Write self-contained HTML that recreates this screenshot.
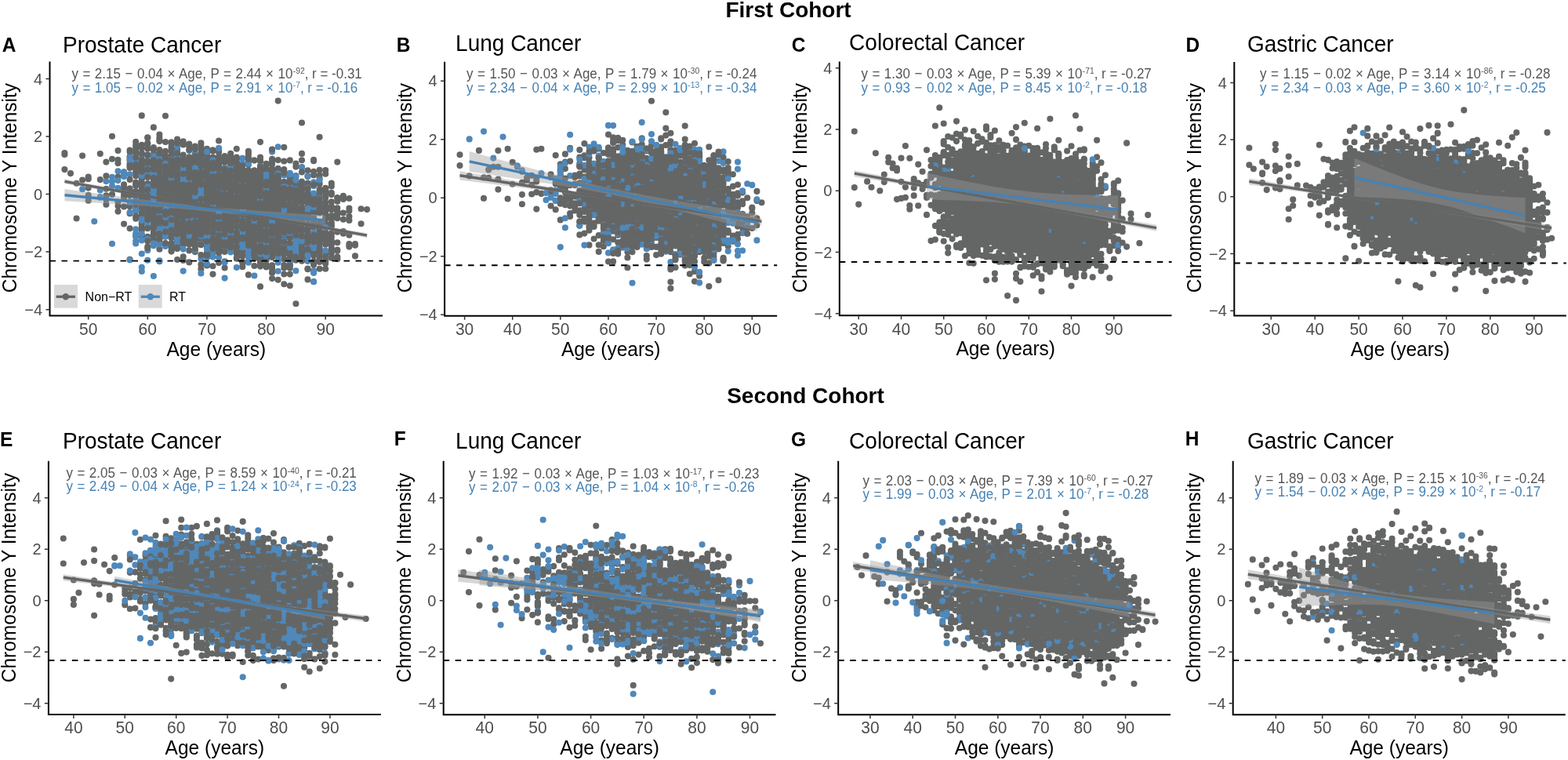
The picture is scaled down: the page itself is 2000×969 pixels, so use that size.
<!DOCTYPE html>
<html><head><meta charset="utf-8"><title>Chromosome Y Intensity vs Age</title><style>
html,body{margin:0;padding:0;background:#fff;}
svg{display:block;}
text{font-family:"Liberation Sans", Arial, Helvetica, sans-serif;}
.hd{font-size:28px;font-weight:bold;fill:#000;}
.lab{font-size:24.5px;font-weight:bold;fill:#000;}
.tit{font-size:28px;fill:#000;}
.tk{font-size:20px;fill:#4d4d4d;}
.axt{font-size:24.5px;fill:#000;}
.tkx{font-size:21px;fill:#4d4d4d;}
.eq{font-size:17px;}
.eqg{fill:#555555;}
.eqb{fill:#4682b4;}
.sup{font-size:10.3px;}
.ws{word-spacing:0.8px;}
.leg{font-size:16px;fill:#000;}
.pg{fill:none;stroke:#646665;stroke-width:8.1;stroke-linecap:round;}
.pb{fill:none;stroke:#4f88ba;stroke-width:8.1;stroke-linecap:round;}
.rib{fill:#999;fill-opacity:0.4;}
</style></head>
<body><svg width="2000" height="969" viewBox="0 0 2000 969">
<rect width="2000" height="969" fill="#fff"/>
<text x="1005.6" y="21.7" class="hd" text-anchor="middle">First Cohort</text>
<text x="1027.5" y="514" class="hd" text-anchor="middle">Second Cohort</text>
<text transform="translate(2.7 66.0) scale(1 1.05)" class="lab">A</text>
<text transform="translate(80.0 66.8) scale(1 1.07)" class="tit">Prostate Cancer</text>
<path class="pg" d="M82.4 195V197M90 221.1v0M97.6 233.7v0M97.6 278.5v0M105.1 198.6v0M112.7 225.5V228.3M112.7 239.6v0M112.7 255.8v0M127.8 196v0M127.8 229.1v0M135.4 206.6v0M135.4 240.7v0M135.4 249.4v0M135.4 254.5v0M135.4 260.7v0M143 173.7v0M143 202.7v0M143 247.9v0M150.5 225.6v0M150.5 257.5v0M158.1 219.4v0M158.1 223.8V224.6M158.1 235.2v0M158.1 247.8v0M158.1 253.1v0M158.1 285.5v0M165.6 191.6V193.8M165.6 199.6v0M165.6 204.3v0M165.6 208.6V210.6M165.6 214v0M165.6 240.3V241.2M165.6 245.4V249M165.6 257v0M165.6 260.9V263.3M165.6 272.3v0M165.6 291.2v0M165.6 330.8v0M173.2 185.1V187.3M173.2 193.1V194.7M173.2 209.7v0M173.2 215.9v0M173.2 223V224.3M173.2 232.6V235.2M173.2 244V246.2M173.2 251.1V255.9M173.2 267.4v0M173.2 278.7v0M173.2 301.5v0M180.8 184.8v0M180.8 195.4V196.5M180.8 202.9V207.3M180.8 212V221.7M180.8 225.7V228.8M180.8 233.1V234.8M180.8 238.5V241.4M180.8 244.7V252M180.8 255.8v0M180.8 259.5V259.9M180.8 265V267.1M180.8 270.8V275.1M180.8 283.2V286.4M180.8 291.5V293.7M180.8 299.7V300.9M188.3 175.2v0M188.3 183.8v0M188.3 189v0M188.3 197.3V197.6M188.3 205v0M188.3 211.2V225M188.3 234.1V254.8M188.3 258.5V266.5M188.3 270.1V270.5M188.3 275V280.3M188.3 301.9v0M188.3 314.5v0M195.9 162.4v0M195.9 188.1v0M195.9 196.6V198.4M195.9 201.8V202.1M195.9 206.1v0M195.9 209.7V215.2M195.9 221.1v0M195.9 226.1V235M195.9 245.5V250.3M195.9 257V257.3M195.9 260.8v0M195.9 265.6V270.3M195.9 273.4V285.8M195.9 289.6V290.4M195.9 297.6V300.3M195.9 304.9V305.5M195.9 312.7v0M203.4 171.5v0M203.4 175.7v0M203.4 178.7v0M203.4 191v0M203.4 195.3V196M203.4 200.3v0M203.4 206.3v0M203.4 210.1V215.6M203.4 218.6v0M203.4 223.7V224.6M203.4 227.9V230.6M203.4 233.9V237.5M203.4 240.7V247.9M203.4 251.4V273.2M203.4 276.5V278.4M203.4 282.2V283.9M203.4 289.9V291.6M203.4 298.7V299.8M203.4 305.3V306.6M203.4 310v0M203.4 317.7v0M203.4 333.3v0M211 147.7v0M211 181v0M211 192.8v0M211 198.6v0M211 202.7V212.1M211 216.8V226.4M211 229.6V234.6M211 238.2V241.2M211 244.3V252.4M211 255.5V274.9M211 278.7V281.3M211 285.6V290.3M211 299V301.8M211 311.2V313.3M218.6 181.4v0M218.6 187.4V188.9M218.6 193.2v0M218.6 198.5V208.1M218.6 213.6V238.6M218.6 241.8V269.5M218.6 273.8V291M218.6 295.2V300.2M218.6 303.6v0M218.6 310.3V311.7M218.6 314.9v0M218.6 320.6v0M226.1 177.5v0M226.1 190.2V191.9M226.1 196.6V200.2M226.1 203.4v0M226.1 209.5V213.9M226.1 217.2V230.7M226.1 234.1V269.8M226.1 275.5V286.2M226.1 289.5V292.1M226.1 296.2V299.3M226.1 306.5V310.6M226.1 313.7v0M226.1 317.1v0M226.1 331v0M233.7 180.3v0M233.7 184.5v0M233.7 202.8V241.7M233.7 245.4V260.5M233.7 264.1V285.5M233.7 290V298.5M233.7 303V311.7M233.7 327.4v0M233.7 331.9v0M241.3 183.5v0M241.3 186.6v0M241.3 200.3V258.3M241.3 262.1V268.5M241.3 271.5V284.8M241.3 289.5V311.7M241.3 319.4v0M241.3 334.4v0M248.8 195.9V197.6M248.8 201.9V207.7M248.8 210.8V220M248.8 223.6V277.9M248.8 283.1V292.5M248.8 295.6V304.4M248.8 312V312.5M248.8 319.6V321.1M256.4 185.7v0M256.4 189.4V190.9M256.4 197.6V198.1M256.4 201.3v0M256.4 205.5v0M256.4 210.7v0M256.4 216.1V218.5M256.4 221.8V229.6M256.4 232.7V248.5M256.4 251.6V295.3M256.4 299v0M256.4 302.4V306M256.4 310.3V312M256.4 337.2v0M256.4 342.9v0M264 189.7v0M264 192.7V194.7M264 197.7v0M264 202.7V224.2M264 227.9V236.8M264 241.7V242.9M264 246.1V267.8M264 271.2V298.7M264 305.9V308.5M264 314.3v0M264 322.1v0M264 338.4v0M271.5 192.3v0M271.5 200.6v0M271.5 204.2V210.6M271.5 214.9V258.9M271.5 262.1V283.7M271.5 288.3V304.5M271.5 309.3v0M271.5 313.9V316.5M271.5 323.1v0M271.5 339.3v0M279.1 179.5v0M279.1 191.8V194.2M279.1 199.8V201.9M279.1 205.4v0M279.1 209.5V223.1M279.1 227.2V240.8M279.1 244.1V246.1M279.1 249.6V296M279.1 300.5V311.5M279.1 314.7V318.3M279.1 321.7v0M279.1 335.1v0M286.6 199.1v0M286.6 202.6v0M286.6 205.9V206.9M286.6 214.3V215.9M286.6 221.8V246.9M286.6 251V261.1M286.6 264.7V280.8M286.6 285v0M286.6 288.4V320.9M286.6 333.4v0M286.6 341.5v0M294.2 195.7v0M294.2 199.3v0M294.2 203.4V205.4M294.2 209.8V225.4M294.2 230.5v0M294.2 233.7V244.8M294.2 248.9V291M294.2 294.3V310.5M294.2 317.2V317.7M301.8 189.8v0M301.8 202.7v0M301.8 206v0M301.8 211.1V214.6M301.8 218V230.2M301.8 233.3V303.7M301.8 307.3V313.2M301.8 317.4V323.4M301.8 328.6V329.7M309.3 201.7v0M309.3 208.7v0M309.3 215.1V246M309.3 249.2V261.9M309.3 265.3V301M309.3 304.4v0M309.3 307.8V313.4M309.3 320.9V323.5M309.3 326.6v0M309.3 333.9v0M309.3 339.4V340.3M316.9 196v0M316.9 199.9V201.2M316.9 207.2V209.9M316.9 217V222M316.9 225.4V228.5M316.9 232.7V270.9M316.9 273.9V291.7M316.9 295.7V303.1M316.9 306.2V313.5M316.9 317.7V324.1M316.9 333.9v0M316.9 350.4v0M324.4 204.2V204.6M324.4 217.4V218.5M324.4 221.9v0M324.4 225.4V262.1M324.4 265.3V270.5M324.4 273.9V291.3M324.4 294.8V307.2M324.4 312.8V313.3M324.4 317.6V327M332 181.1v0M332 200.5v0M332 205V205.6M332 212.5V216.6M332 219.7v0M332 222.8V224M332 228v0M332 231.4V248.7M332 251.8v0M332 255.4V257.4M332 261.5V308.5M332 313.1V321.3M332 327.2v0M332 330.7v0M332 335.6v0M332 339.6v0M332 365.4v0M339.6 208.8V209.8M339.6 213.6v0M339.6 217.8v0M339.6 226.1V287.6M339.6 290.7V293.1M339.6 299.6V322.6M339.6 328.3V331.7M339.6 337.3v0M339.6 340.4v0M347.1 190.9v0M347.1 202.9V205.9M347.1 209.3v0M347.1 216v0M347.1 222.1V234.6M347.1 237.7V239.4M347.1 243.2V252.2M347.1 255.4V286.9M347.1 291V294.8M347.1 298.2V300.7M347.1 305.7V314.9M347.1 319.7V320.8M347.1 324.2V327.9M347.1 342.7v0M347.1 355.1v0M354.7 128.6v0M354.7 214.8V236.8M354.7 240V244.6M354.7 247.9V298.3M354.7 301.8V326M354.7 356.7v0M362.3 187.7v0M362.3 216v0M362.3 231.7V249.3M362.3 253.6V267.8M362.3 271v0M362.3 274.5V277.1M362.3 282V297.1M362.3 301.7V306.1M362.3 309.6V311.2M362.3 314.6V317.8M362.3 320.9V324.1M362.3 330.4v0M362.3 338v0M362.3 341.6v0M362.3 349.5v0M362.3 362.2v0M369.8 204.4v0M369.8 221.6V232M369.8 236.5V240.8M369.8 246.6V252.8M369.8 257.7V259.6M369.8 263.3V271M369.8 274.2V282M369.8 285.2V291.1M369.8 294.5v0M369.8 299.6V303M369.8 314.4V325.3M369.8 329.1V329.7M369.8 337.5v0M369.8 341.7v0M377.4 212.6v0M377.4 224.2V226M377.4 232.4V235.9M377.4 239.5V262.4M377.4 266.4v0M377.4 271.6V272.7M377.4 276.2V279.4M377.4 283.4V296.6M377.4 305.1V315.9M377.4 326.6V329.3M377.4 387.2v0M385 156.5v0M385 195.9v0M385 204.3v0M385 213v0M385 231.5v0M385 236.8V239.7M385 242.9V250.9M385 257.7V258.2M385 264.6V286.1M385 291.6V292.4M385 296.1V306.5M385 310V311.2M385 314.7V329.2M392.5 217.2v0M392.5 225v0M392.5 233.5V238.6M392.5 244.2V249.1M392.5 257.3V259.5M392.5 262.8V276.8M392.5 286.1V288M392.5 291.8V297M392.5 302.4V311.7M392.5 315.7V320.8M392.5 324.6V327.7M392.5 343.2v0M400.1 203.9V205.3M400.1 218.8v0M400.1 223.2v0M400.1 236.4v0M400.1 249V258M400.1 261.2V265.3M400.1 269.4v0M400.1 272.8V277.1M400.1 283.9v0M400.1 288.5V289.5M400.1 301.5V303.8M400.1 314.5v0M400.1 318V318.4M400.1 322.5v0M400.1 332.9V333.7M400.1 337.5v0M400.1 345.2v0M400.1 359.3v0M407.6 223.5v0M407.6 227.5v0M407.6 233.6V234.8M407.6 241.6V245.4M407.6 248.5v0M407.6 256.9V258.1M407.6 263.1V266.3M407.6 270.5V271.4M407.6 285V286.8M407.6 292.3V296.2M407.6 301V301.8M407.6 305.4V306.3M407.6 310.3v0M407.6 319.7v0M407.6 327.6v0M407.6 334v0M407.6 342.7v0M415.2 217v0M415.2 239.9V242.6M415.2 251.3V252.3M415.2 258.1v0M415.2 264.8v0M415.2 269.3V269.9M415.2 274.3v0M415.2 278.9V279.3M415.2 285.3v0M415.2 296.4V298.3M415.2 302.6v0M415.2 306.4v0M415.2 311.8v0M415.2 324.6V326.3M415.2 332v0M415.2 336.1v0M415.2 342.8v0M422.8 233.6v0M422.8 245.8V248.1M422.8 257.3v0M422.8 263.1v0M422.8 267.2v0M422.8 274.8v0M422.8 279v0M422.8 283.8V288.9M422.8 309.1V311.9M422.8 316.3v0M422.8 323.1v0M422.8 328.8v0M430.3 252.1v0M430.3 265.3v0M430.3 269.5v0M430.3 272.8V274M430.3 278.2v0M430.3 295.8v0M430.3 309.2v0M430.3 318.6V319.7M430.3 327.5V330.2M437.9 249.7v0M437.9 253.9v0M437.9 271.5v0M437.9 279.7v0M437.9 295v0M445.4 253v0M445.4 265.6v0M445.4 268.8v0M445.4 276.1v0M445.4 299.7v0M445.4 311.1V312.6M453 312.7v0M453 326.4v0M460.6 266.2v0M460.6 285.3v0M468.1 267.1v0"/>
<path class="pb" d="M105.1 241.3v0M120.3 282.2v0M127.8 242.5v0M127.8 251V251.8M135.4 231.1v0M143 225.8v0M143 231.6v0M143 237v0M143 310.7v0M150.5 218.3v0M150.5 230.1v0M150.5 239.8v0M158.1 219.6v0M158.1 223.4V225M158.1 241.4v0M165.6 200.7V203.4M165.6 222.2v0M165.6 257.8v0M165.6 270.8v0M165.6 331.5v0M173.2 194.1V195.4M173.2 201.8V204.3M173.2 208.8v0M173.2 252.3v0M173.2 265.4v0M173.2 268.7v0M173.2 292.2v0M173.2 297.9V301.3M173.2 307.2v0M173.2 310.4v0M180.8 196.6v0M180.8 223V224M180.8 256.9v0M180.8 264.4V267.4M180.8 279.2V281.1M180.8 298.3v0M180.8 306.4v0M180.8 323.5v0M180.8 340.7v0M180.8 345.9v0M188.3 198.5v0M188.3 212.6v0M188.3 218.4v0M188.3 224.3V225M188.3 238.1v0M188.3 246.5v0M188.3 258.5V260.6M188.3 271.4v0M188.3 276.3v0M188.3 282.3v0M188.3 288.6v0M188.3 304.7v0M188.3 319.2v0M188.3 331.7v0M195.9 198.2v0M195.9 211.2v0M195.9 218.2V221.9M195.9 226.2v0M195.9 234.4v0M195.9 240.3V241.9M195.9 245.8V246.7M195.9 249.9V253.7M195.9 260.9V262.7M195.9 270.9v0M195.9 284.5v0M195.9 310.4V313.3M195.9 352v0M203.4 202.4v0M203.4 214V214.6M203.4 220.7v0M203.4 245.2v0M203.4 251.1v0M203.4 275.6V276.2M203.4 291.7V292.4M203.4 298.6v0M203.4 311.4v0M203.4 332.3v0M211 208.9v0M211 218.9V221.9M211 227.2V229M211 248.5v0M211 267.2v0M211 277.2v0M211 290.1V291.1M211 300.3V301.3M211 313.9v0M218.6 203.9v0M218.6 212.7v0M218.6 227.6v0M218.6 243.1V244.2M218.6 260.8v0M218.6 264.5v0M218.6 278.8V282.9M218.6 288V293.3M226.1 186.6v0M226.1 193.7v0M226.1 200v0M226.1 212.3v0M226.1 222.3v0M226.1 244.2V246.9M226.1 255.4v0M226.1 265.6V268.1M226.1 289.4V290.2M226.1 296.5V298.1M226.1 304.4v0M226.1 310.2v0M233.7 209.6V217.5M233.7 223.1v0M233.7 227.7v0M233.7 230.7v0M233.7 245.3V247.6M233.7 257.2v0M233.7 262.1V270.2M233.7 275.6v0M233.7 280.2v0M233.7 284V285.9M233.7 291.9V293.7M233.7 317.6v0M233.7 345.6v0M241.3 192.1v0M241.3 218v0M241.3 225.7v0M241.3 230.7V231.6M241.3 237.3V241.5M241.3 247.4v0M241.3 260.1v0M241.3 264.8V268.3M241.3 275.3v0M241.3 280.3V282.6M241.3 295.5v0M241.3 300.4v0M248.8 197.3v0M248.8 202v0M248.8 214.2v0M248.8 234.1v0M248.8 238.5v0M248.8 242.2V246.4M248.8 250.5v0M248.8 258.3v0M248.8 275.4V279.8M248.8 285.4v0M248.8 300.3V301.9M248.8 318.7v0M256.4 204.2v0M256.4 213.6v0M256.4 219.6v0M256.4 229.3V230.2M256.4 234.2V235.2M256.4 240.4v0M256.4 244.4v0M256.4 247.7V252.4M256.4 256.8V262.2M256.4 267.1v0M256.4 274.3v0M256.4 277.8V278.8M256.4 286.8v0M256.4 300.6V301.2M256.4 311.3v0M256.4 329.9v0M256.4 348.5v0M264 193.4v0M264 225.4v0M264 230.3v0M264 234.5v0M264 243.8v0M264 247.8V250.5M264 254.1V255M264 263.3V264.7M264 268.4V269.9M264 273.3v0M264 290.9v0M264 294V294.9M264 301.1v0M264 304.4v0M264 311.6v0M264 316.2V317.6M264 325.9V328.6M264 336.4v0M271.5 204.3v0M271.5 219.5V221.7M271.5 232.7V238.7M271.5 242.3v0M271.5 246.8V251.6M271.5 255.3v0M271.5 262.6V263.8M271.5 269.7v0M271.5 284.2v0M271.5 296.7v0M271.5 301.7v0M271.5 320.9v0M271.5 327.6v0M279.1 188.9v0M279.1 214.5v0M279.1 220.1V225.5M279.1 229v0M279.1 245.6V248.2M279.1 252.4V254.3M279.1 257.8v0M279.1 262.1v0M279.1 270.7V271.9M279.1 279.6V282.3M279.1 286.2v0M279.1 292.8v0M279.1 298.8V303M279.1 306.7v0M279.1 328.3v0M286.6 214.4V220.2M286.6 228.5v0M286.6 241.6v0M286.6 251.2v0M286.6 259.8v0M286.6 264.1V268.1M286.6 275.6V279.5M286.6 285.1v0M286.6 289.8V292.7M286.6 297.7v0M286.6 302.6v0M286.6 310.5V314M286.6 334.4v0M286.6 354.6v0M294.2 201.5v0M294.2 214.2v0M294.2 218.9v0M294.2 227.5v0M294.2 232.8V235.8M294.2 242.8V243.9M294.2 248.5v0M294.2 260.2V266M294.2 275.7v0M294.2 298.2V299.2M294.2 302.8V309.8M294.2 317.5v0M294.2 321.4v0M301.8 212.3v0M301.8 235.2v0M301.8 239.2V244.4M301.8 249.7v0M301.8 254.2v0M301.8 257.8V261.5M301.8 264.9V271.3M301.8 277.1V281M301.8 287.2V290.2M301.8 293.8V295.2M301.8 303.3v0M301.8 306.5v0M301.8 312.6v0M301.8 341v0M309.3 202.1v0M309.3 208.7v0M309.3 228.5V228.9M309.3 232.1V233.5M309.3 238V243M309.3 258.1v0M309.3 263V264.5M309.3 267.6V271.4M309.3 274.5V278.4M309.3 282.5V283.3M309.3 290V292.2M309.3 297v0M309.3 300.7v0M309.3 304.9v0M309.3 310.5v0M309.3 315.3v0M316.9 208.8v0M316.9 230.1V233.6M316.9 246.8V250.3M316.9 267.6V269.3M316.9 275.9V282.1M316.9 293.4V294.6M316.9 302.8v0M316.9 307.9v0M316.9 317.9V319.3M316.9 323.3v0M316.9 328v0M316.9 334.8v0M324.4 232V237.2M324.4 248.5V251M324.4 257.9v0M324.4 268V275.4M324.4 278.7V280.3M324.4 287.5v0M324.4 298.8v0M324.4 313.2v0M324.4 319.2v0M324.4 351.5v0M332 211.6v0M332 221.7v0M332 225.4v0M332 234.5V236.1M332 242.2V247.6M332 254V257.8M332 273.7v0M332 283.8V286.7M332 293.1v0M332 298.7v0M332 306.3v0M332 323.7v0M339.6 222.8V225.6M339.6 228.9v0M339.6 232.6v0M339.6 240.2V245.6M339.6 254.9V256.1M339.6 259.8v0M339.6 265.9V267M339.6 274.3V277.2M339.6 285.2v0M339.6 291.2V291.8M339.6 295.7V303.8M339.6 310v0M339.6 320.7v0M339.6 325.1V326M347.1 193.6v0M347.1 218.7v0M347.1 222.4v0M347.1 235.6V236.6M347.1 248v0M347.1 251.8V256.8M347.1 261v0M347.1 266.7v0M347.1 270.9V273.8M347.1 282.3V284.2M347.1 287.7V288.7M347.1 293.5v0M347.1 304.6v0M347.1 308V312.6M347.1 348.1v0M354.7 187.2v0M354.7 221.3V223.9M354.7 228.8V231.4M354.7 235.8v0M354.7 243.1V247.2M354.7 252.3V255.2M354.7 261.2v0M354.7 268.6V272.3M354.7 276.5V278.3M354.7 284.1V285.4M354.7 303.3V304.4M354.7 309.4v0M354.7 317.7V318.3M354.7 326.9v0M354.7 332.1V334.7M354.7 345.8v0M362.3 223.5v0M362.3 238v0M362.3 245.8v0M362.3 252.4V254.9M362.3 267.7v0M362.3 276.4v0M362.3 283.4v0M362.3 291.5V292.4M362.3 295.9V298.1M362.3 306.9V309.4M369.8 220.8V222.4M369.8 236.6v0M369.8 245.7v0M369.8 257.2V260.1M369.8 274.7v0M369.8 284.6v0M369.8 287.8v0M369.8 296.8v0M369.8 315.8v0M369.8 331.4V335M377.4 224.1v0M377.4 229.7v0M377.4 241.1V243.5M377.4 251.5v0M377.4 266.4V271.7M377.4 281.6v0M377.4 285.2v0M377.4 298.8v0M377.4 303.5v0M377.4 308.7v0M377.4 312.5v0M377.4 318.6V320.3M377.4 326.1v0M377.4 330.8v0M377.4 345.3v0M385 213.6v0M385 246.7v0M385 268.7V271.7M385 278.7V281.5M385 298.2v0M385 307.4v0M392.5 224.3v0M392.5 239.6V244.8M392.5 265.9V267.1M392.5 279.3v0M392.5 314.5V315.7M392.5 325.2V326M392.5 333.1v0M400.1 232.2v0M400.1 237.1v0M400.1 246.6v0M400.1 258V258.9M400.1 264.1v0M400.1 277.2V279.8M400.1 283.5v0M400.1 296.4V299.2M400.1 312.6v0M400.1 316.3v0M400.1 345.5V348M400.1 359v0M407.6 229.4v0M407.6 252.7v0M407.6 258.9v0M407.6 267.7v0M407.6 315.7v0M407.6 319.7v0M415.2 289.7v0M415.2 319.5v0"/>
<path class="pg" d="M82.4 216.1v0M105.1 229.5v0M112.7 248.8v0M135.4 224.3v0M150.5 192v0M150.5 203.8v0M150.5 208.1v0M150.5 262.5v0M150.5 269.6v0M158.1 239.1v0M158.1 240.5v0M158.1 251.1v0M158.1 263.4v0M165.6 212.1v0M165.6 228.9v0M165.6 247.6v0M173.2 180.8v0M173.2 190.9v0M173.2 194.4v0M173.2 200.6v0M173.2 209.5v0M173.2 212.9v0M173.2 219.6v0M173.2 236V236.8M173.2 248.5v0M173.2 257.5v0M173.2 260.5v0M173.2 275.6v0M180.8 147.4v0M180.8 188.5v0M180.8 196v0M180.8 210.6v0M180.8 218.8v0M180.8 235.7v0M180.8 245.3v0M180.8 255.2V256.2M180.8 259.3v0M180.8 264.8v0M180.8 271.8v0M180.8 290.4v0M188.3 175.7v0M188.3 182.3v0M188.3 189.7v0M188.3 198.1v0M188.3 207.7v0M188.3 216.3v0M188.3 225.9v0M188.3 241.9v0M188.3 249.6V250.1M188.3 259.1v0M188.3 261.5v0M188.3 266.8V267.7M188.3 271.5v0M188.3 272.9v0M188.3 276.2v0M188.3 278.8v0M188.3 280v0M188.3 291.3v0M188.3 307.6v0M188.3 316.2v0M195.9 191.3v0M195.9 204.4v0M195.9 210.1V211M195.9 216v0M195.9 226.8v0M195.9 229.6v0M195.9 235.3v0M195.9 236.4v0M195.9 261.6v0M195.9 268.2v0M195.9 269.5v0M195.9 274.4v0M195.9 280.1v0M195.9 286.4v0M195.9 289.7v0M195.9 291.1v0M195.9 295.9v0M203.4 180.1v0M203.4 195.5v0M203.4 206.1v0M203.4 212.6v0M203.4 218.8v0M203.4 226v0M203.4 233.5v0M203.4 238.2v0M203.4 240v0M203.4 245.9v0M203.4 252.7v0M203.4 257.5v0M203.4 260.5v0M203.4 267.9V268.5M203.4 277.9V278.7M203.4 283.8v0M203.4 298v0M203.4 304.6v0M211 199.9V200.7M211 212v0M211 214.9v0M211 218.5V219.9M211 222.5v0M211 228.8v0M211 231.6v0M211 234.6v0M211 239.7v0M211 248.4v0M211 249.5V250.1M211 252.2v0M211 254.5v0M211 256.2v0M211 270v0M211 271.6v0M211 273.7v0M211 284.6v0M211 295.5v0M211 310v0M218.6 182.9v0M218.6 204.5v0M218.6 205.8v0M218.6 207.4v0M218.6 208.6v0M218.6 211.4v0M218.6 213v0M218.6 214.3v0M218.6 218.5v0M218.6 223.5v0M218.6 233.8v0M218.6 235.1v0M218.6 239.2v0M218.6 241.6v0M218.6 242.9V243.3M218.6 247.5v0M218.6 251.5v0M218.6 257.7V258.2M218.6 261.3v0M218.6 268.8v0M218.6 280.2v0M218.6 293.3v0M218.6 300.8v0M218.6 314.7v0M218.6 319.5v0M226.1 182.4v0M226.1 195.2v0M226.1 203.7v0M226.1 207.1v0M226.1 211.5v0M226.1 214.3V214.9M226.1 217.7v0M226.1 221.1v0M226.1 225v0M226.1 226.5v0M226.1 228.2v0M226.1 230v0M226.1 236.5v0M226.1 239.2V239.9M226.1 242.4v0M226.1 243.9v0M226.1 245.7V247.2M226.1 248.2V249.1M226.1 252.2v0M226.1 254v0M226.1 258.8v0M226.1 260.2v0M226.1 263.4v0M226.1 264.8v0M226.1 266.6V267.3M226.1 270.5v0M226.1 272.3v0M226.1 273.6v0M226.1 274.8v0M226.1 276v0M226.1 281.8V282.8M226.1 286.2v0M226.1 288.5v0M226.1 290.5v0M226.1 295.7v0M226.1 298.3v0M226.1 315.7v0M233.7 197.6v0M233.7 203.1v0M233.7 205.4v0M233.7 207.6V208M233.7 209.7v0M233.7 221.6v0M233.7 235.6V235.9M233.7 239.5v0M233.7 242.1v0M233.7 243.6v0M233.7 245.7v0M233.7 247.7v0M233.7 248.8v0M233.7 253.4V254.1M233.7 255.3v0M233.7 257.1V257.7M233.7 264.3v0M233.7 269.9v0M233.7 274.1v0M233.7 276.1v0M233.7 277.4v0M233.7 284.2v0M233.7 287.6v0M233.7 292.2v0M233.7 294.7v0M233.7 298.4v0M233.7 300.7v0M233.7 306.1v0M233.7 309.1v0M241.3 190.6v0M241.3 202.4v0M241.3 210.2v0M241.3 211.7v0M241.3 214.3v0M241.3 218v0M241.3 219.7v0M241.3 225V226.6M241.3 235.6v0M241.3 240.5v0M241.3 244.7V245.4M241.3 248.7v0M241.3 251V251.3M241.3 254V254.5M241.3 256.2V256.6M241.3 259.9V261M241.3 262.6v0M241.3 263.9v0M241.3 267.4v0M241.3 269.1v0M241.3 271.4v0M241.3 275.2v0M241.3 284.2v0M241.3 292v0M241.3 294.9v0M248.8 186.6v0M248.8 189.9v0M248.8 199.4v0M248.8 203.9v0M248.8 220.1v0M248.8 226.8v0M248.8 229.7v0M248.8 230.9v0M248.8 232.3V232.9M248.8 236.2v0M248.8 239v0M248.8 243.5v0M248.8 245.2v0M248.8 257.9v0M248.8 259.7v0M248.8 263.5v0M248.8 265.2v0M248.8 266.4v0M248.8 267.7v0M248.8 269v0M248.8 274.7v0M248.8 283v0M248.8 286.7V287.4M248.8 289.7v0M248.8 296.7v0M248.8 300v0M248.8 303v0M248.8 306.6v0M248.8 308.7v0M248.8 314.2v0M248.8 316.8v0M256.4 182.4v0M256.4 195.7v0M256.4 203.1v0M256.4 208v0M256.4 211.8v0M256.4 219.5V220.2M256.4 221.2V222.4M256.4 227.5v0M256.4 234.2v0M256.4 235.5v0M256.4 253.8v0M256.4 261.6v0M256.4 265.5v0M256.4 270.9v0M256.4 272.2v0M256.4 274.1v0M256.4 275.5v0M256.4 277v0M256.4 279v0M256.4 280.7v0M256.4 283.1v0M256.4 284.4v0M256.4 288.1v0M256.4 289.8v0M256.4 292.6V293.3M256.4 297v0M256.4 299.3v0M256.4 312.1v0M256.4 325.1v0M264 208.8v0M264 215.6V217.6M264 218.7v0M264 225.3v0M264 231.4v0M264 237.4v0M264 238.5v0M264 241.1v0M264 242.5v0M264 246.4v0M264 250.4v0M264 255.1V256.4M264 258v0M264 259.6V261.3M264 262.4v0M264 264.4v0M264 271.1v0M264 275.3v0M264 278v0M264 279v0M264 288.3v0M264 290.3v0M264 294.5v0M264 295.7v0M264 307.7v0M264 325.4v0M271.5 191.3v0M271.5 192.6v0M271.5 207.5V209.3M271.5 211.3v0M271.5 214.9v0M271.5 224.7v0M271.5 226.7V227.4M271.5 232.2V233M271.5 236.6v0M271.5 239.2v0M271.5 243.5v0M271.5 244.9v0M271.5 246.6V247.6M271.5 252.6v0M271.5 257.8v0M271.5 267.4v0M271.5 270.7v0M271.5 272.7v0M271.5 274.1V274.6M271.5 276v0M271.5 277V277.8M271.5 279.4V279.9M271.5 283V284.5M271.5 286v0M271.5 288.5v0M271.5 289.9v0M271.5 297v0M271.5 304.6v0M271.5 316.9v0M271.5 349.6v0M279.1 205v0M279.1 208.4v0M279.1 212.7v0M279.1 215.4v0M279.1 223.1v0M279.1 227.5v0M279.1 233V233.7M279.1 236.7v0M279.1 245.7v0M279.1 249.3V251.3M279.1 253.8v0M279.1 257.4V259.1M279.1 262.6v0M279.1 276.8v0M279.1 285.9v0M279.1 287.1v0M279.1 291.5v0M279.1 300v0M279.1 301.8v0M279.1 306.7v0M279.1 311.1v0M279.1 313.3v0M279.1 318v0M279.1 322.1v0M286.6 215.9v0M286.6 220.1v0M286.6 222.1v0M286.6 223.3v0M286.6 228.4v0M286.6 230.4v0M286.6 233.6v0M286.6 237.8v0M286.6 240v0M286.6 248v0M286.6 249.4v0M286.6 255.8v0M286.6 258.9v0M286.6 261.2v0M286.6 264.5v0M286.6 265.8v0M286.6 267.7V268.4M286.6 269.6v0M286.6 273.1v0M286.6 275.1v0M286.6 280v0M286.6 281.7v0M286.6 282.9V283.5M286.6 284.9V285.8M286.6 287v0M286.6 289.5v0M286.6 291.8v0M286.6 293.6v0M286.6 298.8v0M286.6 309v0M286.6 311.2v0M286.6 312.7V313.5M294.2 200.5v0M294.2 202.7v0M294.2 207V207.7M294.2 217.7v0M294.2 223.2v0M294.2 226.5V226.9M294.2 232.8v0M294.2 236.3v0M294.2 237.5v0M294.2 239.2V240.3M294.2 242.6v0M294.2 244.1v0M294.2 246.5v0M294.2 249v0M294.2 251.8v0M294.2 256.4v0M294.2 259v0M294.2 264.5v0M294.2 268.6V269.5M294.2 271.4v0M294.2 272.6v0M294.2 274v0M294.2 276v0M294.2 278v0M294.2 284.8v0M294.2 289v0M294.2 293.9v0M294.2 303.5v0M294.2 306.5V308.1M294.2 312.5v0M294.2 314.9V315.5M301.8 200.5v0M301.8 207.8v0M301.8 213.3v0M301.8 225.2v0M301.8 226.4V227M301.8 230.4v0M301.8 235.6V236.4M301.8 237.7v0M301.8 241v0M301.8 243.3v0M301.8 250.8v0M301.8 252.3v0M301.8 256.2v0M301.8 257.2v0M301.8 258.8v0M301.8 260.4v0M301.8 261.7v0M301.8 263.7v0M301.8 265.5v0M301.8 267v0M301.8 272.2v0M301.8 273.2v0M301.8 274.6v0M301.8 277v0M301.8 280.8V281.4M301.8 288.9v0M301.8 296.9v0M301.8 299v0M301.8 302.8v0M301.8 305.6v0M301.8 307.6v0M301.8 314.9v0M301.8 321.9v0M309.3 211.3v0M309.3 221.1v0M309.3 223.5v0M309.3 224.7v0M309.3 227.7v0M309.3 230.5v0M309.3 237.8V240.2M309.3 241.4V241.7M309.3 243.4v0M309.3 244.9v0M309.3 248.3v0M309.3 252.2v0M309.3 255.7v0M309.3 258.2v0M309.3 259.5v0M309.3 261.8V262.2M309.3 263.4v0M309.3 273.2v0M309.3 281.4V282M309.3 285.3V286M309.3 290.5V291.6M309.3 302.9v0M309.3 304.4v0M309.3 334.2v0M316.9 192.7v0M316.9 202.9v0M316.9 219.5v0M316.9 225.3v0M316.9 226.3V227.1M316.9 228.4v0M316.9 231v0M316.9 233.3v0M316.9 237.1v0M316.9 239.2v0M316.9 240.6V241.3M316.9 243.2v0M316.9 245.5v0M316.9 246.9v0M316.9 250.2v0M316.9 252.6V253M316.9 256.7V257.4M316.9 258.4v0M316.9 263.3v0M316.9 264.6V265.4M316.9 269.1v0M316.9 273.6v0M316.9 277.2v0M316.9 283.6v0M316.9 286.2v0M316.9 289.3v0M316.9 291.2v0M316.9 293.4V294.2M316.9 296.2v0M316.9 300.7v0M316.9 303.1v0M316.9 306v0M316.9 310.4v0M316.9 312.9v0M324.4 217.9v0M324.4 219.7v0M324.4 222.1v0M324.4 227v0M324.4 230v0M324.4 234v0M324.4 235.4v0M324.4 239.4v0M324.4 243.6v0M324.4 245.8v0M324.4 247.8v0M324.4 252.1v0M324.4 257.2v0M324.4 260.7V261.5M324.4 263v0M324.4 264.1v0M324.4 268.3V269.1M324.4 271.8v0M324.4 277.3v0M324.4 278.3v0M324.4 288.9v0M324.4 298.4v0M324.4 304.7v0M324.4 312.8v0M324.4 316.4v0M324.4 317.8v0M324.4 321.5v0M324.4 324V324.5M324.4 329.6v0M324.4 339v0M332 204.6v0M332 212.7v0M332 221.5v0M332 225.1v0M332 227.4v0M332 230.7V231.3M332 232.4V232.9M332 236v0M332 242.4v0M332 247v0M332 248.6v0M332 249.7V250.3M332 259.1v0M332 262.2V263.1M332 267.3v0M332 271.3V271.8M332 274.7v0M332 276.5v0M332 279.4v0M332 284.5v0M332 286.1v0M332 289.6V290.2M332 292.3v0M332 293.4v0M332 298.1v0M332 299.2v0M332 305.7v0M332 318.4v0M332 321.3v0M332 332.5v0M339.6 231.7v0M339.6 235.6V236.4M339.6 246.1v0M339.6 250.7V251.9M339.6 254.4V256.6M339.6 261.6V262.2M339.6 263.3v0M339.6 265.9v0M339.6 269V270.2M339.6 272.2v0M339.6 274.9v0M339.6 276.1v0M339.6 278.5v0M339.6 284.5v0M339.6 286V286.5M339.6 294.2v0M339.6 297.4v0M339.6 301.6v0M339.6 303.7v0M339.6 304.8v0M339.6 306.4v0M339.6 315.8V316.6M339.6 319.5v0M339.6 321.4v0M347.1 190.6v0M347.1 215.3V215.7M347.1 217.5v0M347.1 219V219.5M347.1 225v0M347.1 229.6v0M347.1 234.9v0M347.1 238.3v0M347.1 241.2v0M347.1 245.1v0M347.1 247.6V248.2M347.1 250.9v0M347.1 254.4v0M347.1 256.3v0M347.1 261.7v0M347.1 263.1v0M347.1 265.8v0M347.1 268.9v0M347.1 270.1v0M347.1 271.5V272.3M347.1 275.7v0M347.1 288.6V290.3M347.1 291.8v0M347.1 293.7v0M347.1 296.4v0M347.1 298.6v0M347.1 306.6v0M347.1 308.2v0M347.1 309.3V310.2M347.1 312.5v0M347.1 316.8v0M347.1 338.4v0M347.1 340.3v0M347.1 347.2v0M354.7 204.1v0M354.7 224.1v0M354.7 228.5v0M354.7 230.1v0M354.7 233.7v0M354.7 238.3v0M354.7 239.9V240.8M354.7 242.6v0M354.7 245.2v0M354.7 249v0M354.7 250.4v0M354.7 255.1v0M354.7 258.1v0M354.7 261.5v0M354.7 264.9v0M354.7 266.1v0M354.7 267.6v0M354.7 268.8v0M354.7 270v0M354.7 272.3v0M354.7 275v0M354.7 280.4v0M354.7 284.4v0M354.7 288.1v0M354.7 292.6v0M354.7 296.9v0M354.7 300.2v0M354.7 303v0M354.7 304v0M354.7 305.6v0M354.7 309.2v0M354.7 317.3V317.7M354.7 323.1v0M362.3 205.5v0M362.3 218.5v0M362.3 220.6v0M362.3 240v0M362.3 241.9v0M362.3 243.3v0M362.3 244.5V245.4M362.3 248.3v0M362.3 251v0M362.3 254.4v0M362.3 260.1v0M362.3 261.4v0M362.3 275.7v0M362.3 279v0M362.3 280.7V281.5M362.3 282.9v0M362.3 284V284.7M362.3 290V290.4M362.3 294v0M362.3 296.6v0M362.3 308.5v0M362.3 317.2V318.1M369.8 232.3v0M369.8 241.1v0M369.8 245.5V246.3M369.8 251.8v0M369.8 253.5v0M369.8 260.4v0M369.8 265v0M369.8 273.1v0M369.8 274.5V275.2M369.8 285v0M369.8 290.5V291.5M369.8 292.9v0M369.8 294.9v0M369.8 309.6v0M369.8 323.5V323.9M369.8 329.5v0M369.8 338.8v0M369.8 349.6v0M369.8 364.2v0M377.4 208.6v0M377.4 242.3v0M377.4 246.6v0M377.4 252.7V253.3M377.4 254.4v0M377.4 260.1v0M377.4 266.2v0M377.4 267.3v0M377.4 269.1v0M377.4 270.6v0M377.4 273.1v0M377.4 277.6v0M377.4 280.3v0M377.4 288.2V288.8M377.4 291.4v0M377.4 293.4V293.8M377.4 295.3v0M377.4 298.5v0M377.4 299.9v0M377.4 327.6v0M377.4 331.8v0M385 219.4v0M385 242.2v0M385 247.4V248.4M385 249.5v0M385 253v0M385 267.1V267.5M385 270.8v0M385 271.9v0M385 273.5v0M385 279.1V279.9M385 283.5v0M385 292.7V293.6M385 301.1v0M385 318.8v0M385 321v0M385 332.7v0M392.5 240.6v0M392.5 247.8v0M392.5 249.9v0M392.5 252.5v0M392.5 254.8v0M392.5 274.2v0M392.5 278v0M392.5 285.6v0M392.5 292.3v0M392.5 300v0M392.5 301.2v0M392.5 309.1v0M392.5 317.9v0M392.5 342.6v0M392.5 356.4v0M400.1 235.4v0M400.1 254.9v0M400.1 256.3v0M400.1 258.5v0M400.1 260.8v0M400.1 278.8v0M400.1 283.6v0M400.1 299.7v0M400.1 308.2v0M400.1 325.5v0M400.1 334.7v0M407.6 174.8v0M407.6 216.7v0M407.6 254.1v0M407.6 259.2v0M407.6 264v0M407.6 265.7v0M407.6 269.4v0M407.6 284.5v0M407.6 289.4v0M407.6 299.6V300.6M407.6 310.9v0M407.6 316.7v0M407.6 321.9v0M407.6 329.9v0M415.2 221.8v0M415.2 241.1v0M415.2 242.4v0M415.2 244.3v0M415.2 246.3v0M415.2 262.5v0M415.2 278.8v0M415.2 333.8v0M422.8 237.4v0M422.8 265.3v0M422.8 297.3v0M422.8 299.1v0M422.8 302v0M422.8 306.4v0M422.8 319.1v0M430.3 206.6v0M430.3 253.6v0M430.3 256.7v0M430.3 271.7v0M437.9 297.8v0M445.4 280.9v0M445.4 314.6v0M453 311.1v0"/>
<path class="rib" d="M82.5 228.3L98.5 231.4L114.6 234.4L130.7 237.5L146.7 240.5L162.8 243.5L178.9 246.5L194.9 249.5L211.0 252.5L227.1 255.5L243.2 258.4L259.2 261.4L275.3 264.2L291.4 267.1L307.4 269.9L323.5 272.7L339.6 275.5L355.6 278.2L371.7 281.0L387.8 283.7L403.9 286.4L419.9 289.1L436.0 291.8L452.1 294.5L468.1 297.2L468.1 303.2L452.1 300.1L436.0 297.1L419.9 294.0L403.9 291.0L387.8 288.0L371.7 285.0L355.6 281.9L339.6 279.0L323.5 276.0L307.4 273.0L291.4 270.1L275.3 267.2L259.2 264.4L243.2 261.6L227.1 258.8L211.0 256.0L194.9 253.2L178.9 250.5L162.8 247.8L146.7 245.1L130.7 242.4L114.6 239.7L98.5 237.0L82.5 234.3Z"/>
<path class="rib" d="M82.5 241.1L96.3 243.0L110.2 244.8L124.0 246.7L137.9 248.5L151.8 250.4L165.6 252.2L179.5 253.9L193.4 255.7L207.2 257.3L221.1 258.9L235.0 260.4L248.8 261.8L262.7 263.2L276.6 264.4L290.4 265.6L304.3 266.7L318.1 267.8L332.0 268.9L345.9 269.9L359.7 270.9L373.6 271.9L387.5 272.9L401.3 273.8L415.2 274.8L415.2 287.2L401.3 285.5L387.5 283.7L373.6 282.0L359.7 280.3L345.9 278.6L332.0 277.0L318.1 275.3L304.3 273.7L290.4 272.2L276.6 270.7L262.7 269.2L248.8 267.8L235.0 266.6L221.1 265.4L207.2 264.3L193.4 263.3L179.5 262.3L165.6 261.4L151.8 260.5L137.9 259.6L124.0 258.8L110.2 257.9L96.3 257.1L82.5 256.3Z"/>
<line x1="82.5" y1="231.3" x2="468.1" y2="300.2" stroke="#646665" stroke-width="3.4"/>
<line x1="82.5" y1="248.7" x2="415.2" y2="281.0" stroke="#4682b4" stroke-width="3.4"/>
<line x1="63.5" y1="332.6" x2="488.0" y2="332.6" stroke="#000" stroke-width="1.9" stroke-dasharray="7.5 7.5"/>
<path d="M63.5 78.5V402.5H488.0" fill="none" stroke="#000" stroke-width="2"/>
<text x="54.1" y="107.6" class="tk" text-anchor="end">4</text>
<text x="54.1" y="181.2" class="tk" text-anchor="end">2</text>
<text x="54.1" y="254.7" class="tk" text-anchor="end">0</text>
<text x="54.1" y="328.2" class="tk" text-anchor="end">−2</text>
<text x="54.1" y="401.8" class="tk" text-anchor="end">−4</text>
<text transform="translate(112.7 426.7) scale(1 1.08)" class="tkx" text-anchor="middle">50</text>
<text transform="translate(188.3 426.7) scale(1 1.08)" class="tkx" text-anchor="middle">60</text>
<text transform="translate(263.9 426.7) scale(1 1.08)" class="tkx" text-anchor="middle">70</text>
<text transform="translate(339.6 426.7) scale(1 1.08)" class="tkx" text-anchor="middle">80</text>
<text transform="translate(415.2 426.7) scale(1 1.08)" class="tkx" text-anchor="middle">90</text>
<path d="M58.5 100.5H63.5M58.5 174.1H63.5M58.5 247.6H63.5M58.5 321.1H63.5M58.5 394.7H63.5M112.7 402.5V407.5M188.3 402.5V407.5M263.9 402.5V407.5M339.6 402.5V407.5M415.2 402.5V407.5" stroke="#333" stroke-width="1.5"/>
<text transform="translate(275.8 453.5) scale(1 1.06)" class="axt" text-anchor="middle">Age (years)</text>
<text transform="translate(21.3 239.6) rotate(-90) scale(1 1.06)" class="axt" text-anchor="middle">Chromosome Y Intensity</text>
<text transform="translate(91.4 99.5) scale(1 1.07)" class="eq eqg"><tspan class="ws">y = 2.15 − 0.04 × Age, P = 2.44 × 10</tspan><tspan dx="0.4" dy="-5.4" class="sup">-92</tspan><tspan dy="5.4">, r = -0.31</tspan></text>
<text transform="translate(91.4 117.8) scale(1 1.07)" class="eq eqb"><tspan class="ws">y = 1.05 − 0.02 × Age, P = 2.91 × 10</tspan><tspan dx="0.4" dy="-5.4" class="sup">-7</tspan><tspan dy="5.4">, r = -0.16</tspan></text>
<rect x="69" y="363.1" width="30" height="29.6" fill="#d9d9d9"/>
<rect x="176.7" y="363.1" width="30" height="29.6" fill="#d9d9d9"/>
<line x1="71.6" y1="378.3" x2="95.9" y2="378.3" stroke="#646665" stroke-width="3.3"/>
<circle cx="83.8" cy="378.3" r="4.2" fill="#646665"/>
<line x1="179.7" y1="378.3" x2="203.9" y2="378.3" stroke="#4f88ba" stroke-width="3.3"/>
<circle cx="191.8" cy="378.3" r="4.2" fill="#4f88ba"/>
<text x="108.6" y="383.9" class="leg">Non−RT</text>
<text x="216" y="383.9" class="leg">RT</text>
<text transform="translate(505.8 66.0) scale(1 1.05)" class="lab">B</text>
<text transform="translate(581.1 65.0) scale(1 1.07)" class="tit">Lung Cancer</text>
<path class="pg" d="M586.5 197.2v0M586.5 211.1v0M617 252.8v0M623.2 216.4v0M629.3 212.8v0M635.4 192v0M635.4 212.8v0M635.4 241.6v0M647.6 189.8v0M647.6 253.5v0M653.7 206.9v0M653.7 234.7v0M659.8 212.4v0M665.9 218.8v0M665.9 232.9v0M672.1 226.6v0M678.2 235.6v0M684.3 190.8v0M684.3 227.5v0M684.3 266.6v0M690.4 189.8v0M690.4 246.9v0M702.6 222.3v0M702.6 225.9v0M702.6 244.8v0M702.6 262.5v0M708.7 198v0M708.7 228.3v0M708.7 234.4v0M708.7 255.8v0M708.7 267.2v0M714.8 209.4v0M714.8 215.8V219.2M714.8 223.6v0M714.8 232.9V234.5M714.8 239.9v0M714.8 255.6v0M714.8 280.4v0M720.9 196.4v0M720.9 206.5v0M720.9 215.1v0M720.9 233.5v0M720.9 240.9v0M720.9 244.6V245.6M720.9 252.7v0M727.1 188.9v0M727.1 236.2v0M727.1 248.5v0M727.1 255.4v0M727.1 262.6v0M727.1 272.1v0M727.1 275.9v0M733.2 223.6v0M733.2 234.5V236.2M733.2 250.6v0M733.2 268.5v0M739.3 191.1v0M739.3 200.5v0M739.3 208.6V211.6M739.3 221.5V224.5M739.3 243.1v0M739.3 247v0M739.3 253.2v0M739.3 268.2v0M739.3 273.9v0M739.3 283v0M739.3 287.7v0M745.4 198.4V201.2M745.4 216.5v0M745.4 225.5v0M745.4 234.2V237.8M745.4 242.4V246.9M745.4 252.6V258.3M745.4 278.9v0M745.4 282.6v0M745.4 297.6v0M751.5 201v0M751.5 206.8v0M751.5 215.3V223M751.5 231.1V232.7M751.5 248.5v0M751.5 255.8v0M751.5 270.4v0M751.5 277.9v0M751.5 290.1v0M751.5 312.4v0M757.6 189.5v0M757.6 192.5v0M757.6 208.7V212.8M757.6 220V228M757.6 232.7v0M757.6 242.1v0M757.6 248.8V253M757.6 257.2v0M757.6 267V268.3M757.6 273.4V274M757.6 284.4V288.9M757.6 304.5v0M763.7 189.6v0M763.7 200.9v0M763.7 207.3V207.8M763.7 212.3V215.1M763.7 221.2V233M763.7 237.8v0M763.7 245.9V248.5M763.7 252.9V254.2M763.7 258.5V259.5M763.7 266.9v0M763.7 272.5v0M763.7 279.1V281.8M763.7 300.1v0M763.7 312.3v0M763.7 320.9v0M769.8 195v0M769.8 206.5v0M769.8 216.1V217.4M769.8 220.7V222.8M769.8 227.1v0M769.8 230.8V233.8M769.8 237.3V243.3M769.8 247.7v0M769.8 253V257.5M769.8 263.8v0M769.8 267.7v0M769.8 272.1V274.1M769.8 278.9v0M769.8 287v0M769.8 297.7v0M769.8 306.7v0M769.8 314.3v0M776 196.8v0M776 205.4v0M776 209v0M776 216.7V218.8M776 223.3V224.9M776 230.4V231M776 236.9V239M776 245.2v0M776 248.3v0M776 254.1V254.6M776 257.9v0M776 263.4V265.5M776 269.5v0M776 274.9V277.1M776 280.8V285.3M776 291V291.5M776 297.1v0M776 333.5v0M782.1 175.2v0M782.1 180.6V182M782.1 190.3v0M782.1 196.5v0M782.1 205.3V213.4M782.1 216.9v0M782.1 220.6v0M782.1 224.1V233.9M782.1 238.7V240.9M782.1 246.4V249.6M782.1 254.2V263M782.1 267.5V273M782.1 276v0M782.1 282.9V284.2M782.1 293.9V294.8M782.1 305.2v0M782.1 333.4v0M788.2 175.9V179.3M788.2 188v0M788.2 199.4V204.4M788.2 207.8V209.9M788.2 217.6V225.2M788.2 230.4V237.7M788.2 244.5V246.7M788.2 250.4V251.3M788.2 260.6V274.4M788.2 277.7V281.7M788.2 284.8V290.3M788.2 299.7v0M788.2 323.6v0M794.3 178.7v0M794.3 184.9v0M794.3 196.5V197.5M794.3 202V203.8M794.3 211.4V219.8M794.3 223.6V224.2M794.3 227.9v0M794.3 235.3V237.2M794.3 241.2V243.6M794.3 247.8V251.4M794.3 254.5V256.2M794.3 261.8V270M794.3 274.5v0M794.3 277.9v0M794.3 284.3V285.2M794.3 295.2v0M794.3 299V299.5M794.3 313.5v0M800.4 191.8v0M800.4 196.9v0M800.4 200.9V211.8M800.4 218.3V224.5M800.4 228.2V230.2M800.4 233.3V247.5M800.4 250.7V257.4M800.4 260.5V265.4M800.4 268.8V272.6M800.4 277.5V287.5M800.4 290.7v0M800.4 294V295.5M800.4 303V307.2M800.4 313.5v0M800.4 321.2v0M800.4 328.4v0M800.4 341.2v0M806.5 181.4v0M806.5 199.6v0M806.5 203.3V209M806.5 213.2v0M806.5 217v0M806.5 222.3V230.5M806.5 234V251.7M806.5 256.3V266.2M806.5 269.2V270.7M806.5 277.6V281.7M806.5 287.2V292.1M806.5 295.8v0M806.5 301.6V303.4M806.5 307.9v0M812.6 186.8V189.3M812.6 193.3v0M812.6 198.9V200.1M812.6 205.1V213.3M812.6 217.4V238.9M812.6 242.2V251.9M812.6 255.5V270.1M812.6 273.9v0M812.6 278.5V286.3M812.6 290.1V290.5M812.6 296.4v0M812.6 302.7V303.3M812.6 309.1v0M812.6 312.8V314.9M818.7 176.2v0M818.7 184.4v0M818.7 189.4V193.6M818.7 197.9V199.7M818.7 207.3V216.9M818.7 220.6V221.5M818.7 225.4V228.6M818.7 232.7V275.2M818.7 280.6V284.3M818.7 289.4v0M818.7 293.2V294.6M818.7 298V300.4M818.7 303.7v0M818.7 307.2V310.2M824.8 190V192.4M824.8 201.9V206.1M824.8 211.6V228.9M824.8 232.4v0M824.8 236.3V271.4M824.8 274.8V280.7M824.8 286.4V295.1M824.8 298.5V300.2M824.8 307.9V310.5M824.8 316.7v0M824.8 326.1v0M831 128.7v0M831 185.2v0M831 193.7v0M831 202.1v0M831 205.4V206.5M831 209.9v0M831 213.1V225.5M831 229.7V231.5M831 237.4V240.7M831 243.8V260.1M831 263.6V275M831 285.5V287.3M831 291.4V292.6M831 295.9V298.3M831 301.4V302.2M831 305.9v0M831 310.7V315M837.1 185.1v0M837.1 192.4V194.3M837.1 197.9v0M837.1 201.9V217.1M837.1 220.3V224.4M837.1 228.7V234.9M837.1 238V270.5M837.1 273.9v0M837.1 277V287M837.1 290.1V293.6M837.1 302.9v0M837.1 314.7v0M837.1 325.1v0M843.2 176.2V177.4M843.2 187.4v0M843.2 194.8V197.4M843.2 201.3v0M843.2 206.3v0M843.2 210.1V215.4M843.2 218.9V228.3M843.2 231.8V235.3M843.2 240V285M843.2 289.5V293M843.2 296.7V297.7M843.2 303.1V305M849.3 143.3v0M849.3 163.6v0M849.3 172.6v0M849.3 185.1v0M849.3 203.7V207M849.3 211.9v0M849.3 215.6v0M849.3 218.7V221.4M849.3 226.7V235.1M849.3 239.8V264.2M849.3 269.4V282.8M849.3 286V297.4M849.3 301.2v0M849.3 306.1V312.6M849.3 316.8V320.1M855.4 169.8v0M855.4 180.2V183.2M855.4 190.8V192.2M855.4 195.3V198.9M855.4 204.1v0M855.4 207.3V215.1M855.4 218.3V220.9M855.4 224.1v0M855.4 228.3V234.5M855.4 238V243.1M855.4 246.4V264.9M855.4 268.3V274.1M855.4 278.7V289.6M855.4 293.6V297.2M855.4 300.7V303.2M855.4 306.5V309.6M855.4 314.7V315.2M855.4 321.3v0M855.4 340.6v0M855.4 359.5v0M855.4 367.7v0M861.5 191.7V194.8M861.5 198v0M861.5 202.1v0M861.5 210.6V220.9M861.5 224.6V247.8M861.5 252.8V265.9M861.5 270.6V297.8M861.5 301.5V308.3M861.5 313.5v0M861.5 325.8v0M861.5 329.1v0M867.6 198.2v0M867.6 206.5V233.4M867.6 237.1V254.1M867.6 258.9V269.1M867.6 272.1V301.2M867.6 312.7V313.1M867.6 317V317.7M867.6 321.1v0M867.6 324.6v0M873.7 160.5v0M873.7 184.9v0M873.7 194.4V196.6M873.7 200.6v0M873.7 207.6V211.8M873.7 216.8V223.5M873.7 226.9V229.5M873.7 232.5V243.3M873.7 246.7V265.1M873.7 269.6V282.1M873.7 285.5V288.3M873.7 292.5V298.6M873.7 301.7V303.5M873.7 306.9v0M873.7 310.8V316.6M873.7 320v0M873.7 330.2V333.2M879.8 186.6V188.2M879.8 204.3V207M879.8 212.1V213.3M879.8 219V220.6M879.8 223.8V240M879.8 243.2V246.5M879.8 250.3V265.3M879.8 268.6V288.7M879.8 292.5V296.6M879.8 301.3V308.6M879.8 314.9V315.3M879.8 320.9V325.3M879.8 331.4v0M879.8 338.1v0M886 197.6V201.3M886 211.1v0M886 215.4v0M886 219.7V224.6M886 228V237.3M886 240.6V272.2M886 276.1V290.2M886 293.8V299.7M886 306.3V309.6M886 312.7V317.2M886 321.3V321.8M886 326.1V326.6M886 333.4v0M886 346.1v0M886 358.8v0M892.1 196.9V200.7M892.1 204.9V210.7M892.1 215.4V222.7M892.1 226.1V232.5M892.1 235.5V239.4M892.1 242.8V254.4M892.1 258V262.9M892.1 267.8V291.6M892.1 294.8V309.3M892.1 312.4v0M892.1 316.2V316.8M892.1 320.7V321.2M892.1 351.7v0M898.2 210.8v0M898.2 216.7v0M898.2 220.7V225.9M898.2 229.1V230.3M898.2 235V252.8M898.2 256.3V260.3M898.2 264.8v0M898.2 268.3V268.8M898.2 272.4V292.7M898.2 296.5V297.2M898.2 303V313.6M898.2 317.5v0M898.2 321.1v0M898.2 328.9v0M898.2 333.7v0M904.3 187.3v0M904.3 204.3v0M904.3 211.3V216M904.3 219.3V220.4M904.3 225.3v0M904.3 228.6V233.6M904.3 240V248.3M904.3 251.9V257.1M904.3 261.2V302.1M904.3 310.6V315.5M904.3 322.3v0M904.3 335.4v0M910.4 198.1v0M910.4 206.4v0M910.4 211.1v0M910.4 215.2v0M910.4 219.7v0M910.4 224.4v0M910.4 228.2V238.9M910.4 248.4V248.9M910.4 258.1V262.5M910.4 268.4V271.7M910.4 275.8V276.6M910.4 279.9v0M910.4 283.6v0M910.4 288.6V289.3M910.4 292.6V298.3M910.4 311.3v0M910.4 315.2V316.9M910.4 320.2V322.7M910.4 327v0M910.4 330.9v0M916.5 197.2v0M916.5 214.4V218.4M916.5 228.8V229.7M916.5 236.6v0M916.5 244.1v0M916.5 254.1V256.6M916.5 259.7V260.1M916.5 267.9v0M916.5 271.2v0M916.5 278.8V289.4M916.5 294.6v0M916.5 299V301.6M916.5 307.2V312.8M916.5 317.5v0M916.5 357.2v0M922.6 200.5v0M922.6 216.6V218.2M922.6 226.9V231.2M922.6 234.4v0M922.6 242.8V246M922.6 252.4V257M922.6 260.2V261.8M922.6 270.5V273.3M922.6 277.4V278.9M922.6 282.2v0M922.6 291.3V291.8M922.6 295.4v0M922.6 301.5v0M922.6 306.2v0M922.6 310v0M922.6 328.8V332.5M928.7 214.1v0M928.7 217.2v0M928.7 222.3V223.1M928.7 240.8V243.8M928.7 248.4v0M928.7 257.7V263.5M928.7 271.8V272.6M928.7 277.6V282.7M928.7 294.1V295.8M928.7 313.7v0M934.9 257.4v0M934.9 281V282.2M934.9 300.6V302.4M934.9 307.8v0M941 235.5v0M941 246.3v0M941 249.5v0M941 258.1V259.3M941 264.7v0M941 283.2V285.4M941 288.6v0M941 304.6v0M947.1 245.6v0M947.1 256.3v0M947.1 260.3v0M947.1 272.9V276.2M947.1 285.5v0M947.1 290v0M947.1 296v0M953.2 252.3v0M953.2 276.2v0M953.2 283.7v0M959.3 264.5v0M959.3 271.6v0M959.3 280.1v0M965.4 243.9v0M965.4 256v0M965.4 278.4v0M965.4 287.3v0M971.5 258.2v0"/>
<path class="pb" d="M598.7 177.4v0M617 167.6v0M629.3 201.6v0M641.5 174.5v0M659.8 211.2v0M665.9 217.3v0M690.4 221.1v0M696.5 246.1v0M696.5 255v0M702.6 251.7v0M708.7 227.6v0M708.7 242.6v0M708.7 247v0M708.7 255.9v0M714.8 212.5v0M714.8 219v0M714.8 225.2v0M714.8 315.1v0M720.9 208.1v0M720.9 278.2v0M720.9 290.3v0M727.1 171.7v0M727.1 190.6v0M727.1 224.1v0M739.3 203.3v0M739.3 211.1v0M739.3 256.4V258M739.3 287.6v0M745.4 210.8v0M745.4 227.9v0M745.4 261.6v0M745.4 265.8v0M745.4 312.6v0M751.5 187.6v0M751.5 196.6v0M751.5 232.9v0M757.6 183.2v0M757.6 208.8v0M757.6 221.2v0M757.6 274.3v0M763.7 187.7v0M763.7 198.6v0M763.7 214.3v0M769.8 205.9v0M769.8 212.1v0M769.8 228.9v0M769.8 233.4v0M769.8 266.5v0M769.8 296v0M776 159.9v0M776 189.5v0M776 235v0M776 251.3v0M776 289.7v0M776 298.5v0M776 302.2v0M776 310.2v0M776 322.4v0M782.1 160.1v0M782.1 210.5v0M782.1 229.3V230.2M782.1 275.8v0M782.1 288.3V290.4M782.1 318.3v0M788.2 221V223.3M788.2 234.2v0M788.2 237.9v0M788.2 296.4V297.9M788.2 316.4v0M794.3 187.9v0M794.3 194.1v0M794.3 210.6v0M794.3 215v0M794.3 219.1v0M794.3 223v0M794.3 228.1v0M794.3 237.5v0M794.3 246.1V248.7M794.3 253.6v0M794.3 260.6v0M794.3 265.4v0M794.3 280.7v0M794.3 290.5v0M794.3 311.2v0M794.3 315.7v0M800.4 215.4v0M800.4 221.1v0M800.4 225.4v0M800.4 232.1v0M800.4 239.7v0M800.4 249.1v0M800.4 256.9v0M800.4 261.1V263.5M800.4 289.9v0M800.4 316.7v0M806.5 180.5v0M806.5 209.7v0M806.5 225.5V227.2M806.5 260.9v0M806.5 267v0M806.5 278.2v0M806.5 286.5v0M806.5 360.8v0M812.6 189.9v0M812.6 195.5V197M812.6 237.2v0M812.6 248.4V249.9M812.6 260.2v0M812.6 282.9v0M812.6 289.4v0M812.6 297.1v0M812.6 300.7v0M818.7 156v0M818.7 177.5v0M818.7 189.2v0M818.7 205.8V208.5M818.7 216.2v0M818.7 220.7v0M818.7 231.8V233.5M818.7 256.9v0M818.7 263.1v0M818.7 289.9v0M818.7 311.8v0M824.8 191V191.3M824.8 210.9v0M824.8 216.9V218.8M824.8 283.3v0M824.8 290.1v0M824.8 300.1V300.9M824.8 317.3v0M831 171.1v0M831 180.1v0M831 202.2v0M831 219.3v0M831 229.2v0M831 259.1v0M831 265.4v0M831 289v0M831 297.5V300.4M831 312.6v0M837.1 184.9v0M837.1 214.7v0M837.1 218.1v0M837.1 221.6v0M837.1 234.2v0M837.1 244.6v0M837.1 252.8v0M837.1 261.5v0M837.1 300.5V301M843.2 213.8v0M843.2 227.2V229.7M843.2 246.9v0M843.2 253.5v0M843.2 258.4v0M843.2 263.7V265M843.2 272.6v0M843.2 281.6v0M843.2 288.6V291.4M843.2 299.4v0M843.2 320.1v0M849.3 234.4v0M849.3 240.7V243.6M849.3 255.7v0M849.3 262.5v0M849.3 268.7v0M849.3 287.8v0M849.3 311.4V314M849.3 320.7v0M855.4 195.5v0M855.4 213.6V216.1M855.4 240.8v0M855.4 250.2v0M855.4 254.5V255.8M855.4 276.1v0M855.4 292.4V294M855.4 334.1v0M861.5 183.8v0M861.5 210.6v0M861.5 254.1v0M861.5 259v0M861.5 279.5v0M861.5 291.6V291.9M861.5 304.9V306.1M861.5 311.9v0M861.5 324.1v0M867.6 188.8V190.9M867.6 250.4V251.3M867.6 255.1v0M867.6 259.8v0M867.6 263V265.6M867.6 270.6v0M867.6 288.7V291.7M867.6 323.5v0M873.7 213.9v0M873.7 220.7v0M873.7 230.9v0M873.7 302.5v0M879.8 194.1v0M879.8 218v0M879.8 242.2v0M879.8 257.4v0M879.8 281.5v0M879.8 302.4V303.7M886 190.8v0M886 204.5v0M886 209.4v0M886 231.7V232.6M886 245.8V246.9M886 250.3v0M886 255.3V257.4M886 276.9v0M886 281.7V287.9M886 312v0M886 319.2v0M886 323.1v0M886 340.1V340.5M892.1 190.9v0M892.1 194.5v0M892.1 205.3v0M892.1 231.9v0M892.1 245.7v0M892.1 262.4V265.3M892.1 304v0M892.1 318.3v0M892.1 346.9v0M892.1 360.6v0M898.2 219.4v0M898.2 224.5v0M898.2 234v0M898.2 240.5v0M898.2 254.4V256.3M898.2 290.4v0M898.2 297.3v0M898.2 300.9v0M904.3 234.8v0M904.3 249.8v0M904.3 262.1V264.1M904.3 268.5V271.3M904.3 300.1v0M904.3 321.1v0M910.4 224.8v0M910.4 246.7v0M910.4 260.5v0M910.4 288.6v0M910.4 291.8v0M910.4 299.7v0M910.4 307.1v0M910.4 314.2v0M910.4 318.4v0M910.4 332v0M916.5 205.3v0M916.5 259.1V260.1M916.5 265.1v0M922.6 193.4v0M922.6 207.9v0M922.6 248.2v0M922.6 271.9v0M922.6 275.5v0M922.6 306.8v0M928.7 227.8v0M928.7 254.9v0M928.7 277.2v0M928.7 284v0M928.7 306.6V309.4M928.7 320.3v0M934.9 254.8v0M934.9 259.8v0M934.9 267.9v0M934.9 284.8v0M934.9 306.3v0M941 206.5v0M941 215.6v0M941 271v0M941 311.3v0M941 319.7v0M941 325.8v0M947.1 243.4v0M947.1 277.7v0M947.1 297.2v0M947.1 319.5v0M953.2 234.3v0M953.2 287.4v0M959.3 235.9v0M965.4 254.2v0M965.4 306.4v0"/>
<path class="pg" d="M598.7 224.4v0M610.9 191.9v0M617 226.4v0M623.2 226.9v0M635.4 228.5v0M665.9 248.1v0M665.9 260.3v0M672.1 229.8v0M678.2 223.8v0M678.2 247.5v0M684.3 231.4v0M684.3 245.1v0M702.6 242.4v0M708.7 232.2v0M714.8 252.3v0M714.8 259.8v0M720.9 227.5v0M720.9 236.7v0M720.9 243.3v0M720.9 255.5v0M720.9 261.2v0M727.1 205.6v0M727.1 247.6v0M733.2 226.1v0M733.2 259.2v0M733.2 263.4v0M739.3 212.6v0M739.3 233.4v0M739.3 244.9v0M739.3 259.3v0M739.3 282.2v0M739.3 299.4v0M745.4 183v0M745.4 246.4v0M745.4 253.3v0M745.4 267.3v0M745.4 269.9v0M751.5 193.2v0M751.5 211.4v0M751.5 218.6v0M751.5 223.6V224.7M751.5 237.4v0M751.5 242.3v0M751.5 245v0M751.5 257v0M751.5 259.8v0M751.5 263v0M751.5 274.5v0M751.5 282.6v0M751.5 287.3V287.6M751.5 293.7v0M757.6 192.2v0M757.6 225.5v0M757.6 235.4v0M757.6 251.1v0M757.6 259.6v0M757.6 262.3v0M763.7 201.4v0M763.7 210.6v0M763.7 217.5v0M763.7 218.8v0M763.7 240.1v0M763.7 266.5v0M763.7 279.4v0M769.8 210.9v0M769.8 220v0M769.8 233.5v0M769.8 238.4v0M769.8 241.1v0M769.8 256.4v0M769.8 265.1v0M769.8 272v0M769.8 273.9v0M769.8 278.8v0M769.8 290.1V290.9M769.8 302.6v0M776 171.6v0M776 188.2v0M776 191.8v0M776 196.5v0M776 205.7v0M776 212.1v0M776 228.2v0M776 233v0M776 256.7v0M776 265.2v0M776 266.6v0M776 268.1v0M776 270.3v0M776 271.7v0M776 276.7v0M776 286.7v0M776 303.4v0M782.1 176.1v0M782.1 192.9v0M782.1 200.5v0M782.1 222v0M782.1 233.2v0M782.1 254.7v0M782.1 261.3v0M782.1 267.8V270.7M782.1 272.1v0M782.1 279.4V280.3M782.1 290.1v0M782.1 323v0M788.2 203.5v0M788.2 204.8v0M788.2 206.8v0M788.2 210.2v0M788.2 215.2v0M788.2 220.2V221M788.2 222.3v0M788.2 228.4v0M788.2 236.6V237.4M788.2 245.8v0M788.2 247.9v0M788.2 253.7V254.5M788.2 259.3v0M788.2 264.1v0M788.2 274.7v0M788.2 284.2v0M788.2 296.6v0M788.2 309v0M788.2 319.6v0M794.3 207.3V208.1M794.3 212.1v0M794.3 216.6v0M794.3 218.4v0M794.3 223.4v0M794.3 236.7V237.6M794.3 244.9V245.7M794.3 247.5v0M794.3 251.2v0M794.3 267.7v0M794.3 270.1v0M794.3 272v0M794.3 274.6v0M794.3 277.4v0M794.3 280.9v0M794.3 306.8v0M794.3 313v0M800.4 203.8v0M800.4 208.4v0M800.4 210.6v0M800.4 211.9v0M800.4 214.4v0M800.4 216.5v0M800.4 217.5v0M800.4 219.3v0M800.4 221.8v0M800.4 227.7v0M800.4 230v0M800.4 231.9v0M800.4 249.3v0M800.4 256.1v0M800.4 261.5v0M800.4 264v0M800.4 271.5v0M800.4 274.5v0M800.4 275.6v0M800.4 297.2v0M800.4 300.1v0M800.4 306.2v0M800.4 311.8v0M806.5 192.9v0M806.5 199.3v0M806.5 204.4v0M806.5 206.5v0M806.5 227.3V228.4M806.5 232.2V232.8M806.5 256.6v0M806.5 267.2v0M806.5 278.3v0M806.5 282.2v0M806.5 291.9v0M806.5 293.3V293.8M806.5 294.9v0M806.5 299.5v0M806.5 306.4v0M806.5 314.2v0M806.5 321.3v0M812.6 198v0M812.6 203.4v0M812.6 213.3v0M812.6 214.5v0M812.6 220.2v0M812.6 221.3v0M812.6 222.5V224M812.6 227.7v0M812.6 240.3v0M812.6 242.9v0M812.6 251.2v0M812.6 256.3V257.2M812.6 261.8v0M812.6 265.5V267M812.6 270.1v0M812.6 277.6v0M812.6 286.1v0M812.6 294.7v0M812.6 296.7v0M812.6 299.7v0M812.6 300.7v0M812.6 309.8v0M812.6 312.2v0M818.7 199.7v0M818.7 208.5v0M818.7 209.6v0M818.7 214.4v0M818.7 215.9v0M818.7 223.7v0M818.7 225.3v0M818.7 226.7V227.3M818.7 230.8v0M818.7 239.4v0M818.7 241v0M818.7 243.9v0M818.7 245.8v0M818.7 249.7v0M818.7 254.5v0M818.7 257.3V258M818.7 261.1v0M818.7 263.6v0M818.7 266v0M818.7 273.7v0M818.7 282.4v0M818.7 298.3v0M818.7 300.3v0M824.8 189.3v0M824.8 213.4v0M824.8 217.8v0M824.8 219.2v0M824.8 225.9v0M824.8 230.7v0M824.8 233.2V234M824.8 236.3v0M824.8 238.6v0M824.8 240.7v0M824.8 252.1v0M824.8 276.9v0M824.8 280.9v0M824.8 282.2v0M824.8 284.9V285.8M824.8 288.5V288.9M824.8 290.1v0M824.8 293.9V294.6M824.8 299.6v0M824.8 305.7v0M824.8 312.6v0M824.8 330.6v0M831 192.9v0M831 195v0M831 219.1v0M831 222.9V223.9M831 225v0M831 235v0M831 236.6v0M831 240.8V242.2M831 244.1v0M831 248.2v0M831 253.1v0M831 255.5v0M831 257.4v0M831 264v0M831 266.7v0M831 273.8v0M831 275.2V275.8M831 280.6v0M831 282.1v0M831 284.1v0M831 287.7v0M831 291.6v0M831 295.9v0M831 300.6v0M831 313.9v0M837.1 193.8v0M837.1 197.3v0M837.1 203v0M837.1 211v0M837.1 216.3v0M837.1 222.6v0M837.1 230v0M837.1 232.1v0M837.1 234.5v0M837.1 235.7v0M837.1 236.8v0M837.1 240.5v0M837.1 243.4v0M837.1 245v0M837.1 246.1V246.9M837.1 250.5v0M837.1 253.1v0M837.1 256.5v0M837.1 258.7v0M837.1 263.4v0M837.1 264.6v0M837.1 269.9v0M837.1 276.9v0M837.1 279.2v0M837.1 280.4v0M837.1 281.4v0M837.1 282.6v0M837.1 314.8v0M843.2 191.6v0M843.2 193.3v0M843.2 209.4V210.1M843.2 211.3v0M843.2 214.8v0M843.2 221.4v0M843.2 223.3v0M843.2 225.6v0M843.2 229.2v0M843.2 234v0M843.2 239.2v0M843.2 242.6v0M843.2 248.9v0M843.2 253.8v0M843.2 255.9v0M843.2 257.9v0M843.2 261.1V261.9M843.2 263.4v0M843.2 268.1V269.1M843.2 272v0M843.2 274.9v0M843.2 276v0M843.2 278.5v0M843.2 282.8v0M843.2 285.9v0M843.2 296.9v0M843.2 305.7v0M843.2 310.7V311.4M843.2 317.1v0M843.2 323.4V323.8M849.3 200.4v0M849.3 203.6v0M849.3 205.7v0M849.3 210.9v0M849.3 220.7v0M849.3 228.4v0M849.3 232.2v0M849.3 238.3v0M849.3 240v0M849.3 241.8V242.7M849.3 249.7v0M849.3 256v0M849.3 263.4v0M849.3 269.1V269.9M849.3 276.2v0M849.3 280.8v0M849.3 283v0M849.3 287.4v0M849.3 302.9v0M849.3 315.8v0M849.3 319.3v0M855.4 200.4v0M855.4 204.1V204.4M855.4 222.4V223.3M855.4 233.2V233.7M855.4 237.1v0M855.4 239.4v0M855.4 247.1v0M855.4 248.9v0M855.4 251.2v0M855.4 254.5v0M855.4 259.2V260.1M855.4 276.2v0M855.4 277.5v0M855.4 279.4v0M855.4 281.3v0M855.4 286.4v0M855.4 291.7v0M855.4 293v0M855.4 295.9V296.4M855.4 304.4v0M855.4 310.6v0M855.4 343.4v0M861.5 200.8v0M861.5 205.3v0M861.5 220.3v0M861.5 221.9V222.4M861.5 223.8V224.6M861.5 230.4v0M861.5 233.6v0M861.5 240.5v0M861.5 248.7v0M861.5 251.7v0M861.5 264.1V265.8M861.5 269v0M861.5 270.9v0M861.5 281v0M861.5 287.5v0M861.5 293.2v0M861.5 304.7v0M861.5 306v0M861.5 308.3v0M861.5 311.7v0M861.5 325.7v0M861.5 331.3v0M861.5 340.9v0M867.6 213.8v0M867.6 217.8v0M867.6 220v0M867.6 223.1v0M867.6 232v0M867.6 236.4v0M867.6 240.8v0M867.6 244.4V245.7M867.6 257.6v0M867.6 261.1v0M867.6 262.8v0M867.6 267.1v0M867.6 283.5V284.1M867.6 285.8v0M867.6 288.1v0M867.6 290.6V292.3M867.6 301.2V301.8M867.6 306.7v0M867.6 312.7v0M873.7 177.6v0M873.7 189.1v0M873.7 198.3v0M873.7 214.3v0M873.7 216V216.9M873.7 228.5V228.8M873.7 232.8V233.7M873.7 241.3v0M873.7 244.2v0M873.7 245.4v0M873.7 246.8V247.3M873.7 259v0M873.7 267v0M873.7 274.3v0M873.7 275.5v0M873.7 278.3v0M873.7 284.3v0M873.7 286v0M873.7 290.8v0M873.7 299.9v0M873.7 303.5v0M873.7 308.9v0M873.7 314.9V315.3M873.7 322.7v0M873.7 338.6v0M879.8 194.8v0M879.8 202.5v0M879.8 204.3v0M879.8 205.4v0M879.8 219.5v0M879.8 227v0M879.8 231.5v0M879.8 234.2V234.9M879.8 236.4V236.9M879.8 239.3v0M879.8 240.8v0M879.8 243.2V243.7M879.8 247.2v0M879.8 250.3v0M879.8 252v0M879.8 260.6v0M879.8 265.2v0M879.8 278.6v0M879.8 280v0M879.8 281.3v0M879.8 285.4v0M879.8 291.7v0M879.8 294.5v0M879.8 297v0M879.8 303.6v0M879.8 310.6v0M879.8 316.8v0M879.8 331.9v0M879.8 349.3v0M886 182.8v0M886 195.2v0M886 206.8v0M886 209.4v0M886 220.7v0M886 225.9V226.5M886 227.6v0M886 230.1v0M886 233.2v0M886 242.1v0M886 244.2v0M886 251.2v0M886 260.2v0M886 262v0M886 263.1v0M886 266.4v0M886 269.8v0M886 274.3v0M886 277.3v0M886 278.4V279.1M886 281.4v0M886 289.2v0M886 291.2v0M886 295.4V296.3M886 307.7v0M886 316.3v0M886 318.7v0M886 325.8V326.2M892.1 196v0M892.1 197.4v0M892.1 231.8v0M892.1 233.5V235.1M892.1 236.6v0M892.1 237.7v0M892.1 241.1v0M892.1 247.4v0M892.1 254.3v0M892.1 256.6v0M892.1 260v0M892.1 270.7v0M892.1 272.8v0M892.1 282.7v0M892.1 291.6v0M892.1 293.5v0M892.1 299.4v0M892.1 301.5v0M892.1 303v0M892.1 304.2v0M892.1 311.5v0M892.1 313v0M898.2 214.9v0M898.2 225.8v0M898.2 227.4v0M898.2 243.3v0M898.2 250.5v0M898.2 252.3V253.3M898.2 257.3v0M898.2 259.3v0M898.2 269.6v0M898.2 274.5v0M898.2 278.2v0M898.2 280v0M898.2 283.5v0M898.2 285.9v0M898.2 287.5v0M898.2 291.6v0M898.2 292.8v0M898.2 297.9v0M898.2 303.7V304.2M898.2 305.5v0M898.2 315.3v0M898.2 318.2v0M904.3 220.4v0M904.3 221.6v0M904.3 224.6v0M904.3 226.6V227M904.3 228.7v0M904.3 229.7v0M904.3 234.5v0M904.3 235.8v0M904.3 238.8v0M904.3 243.6v0M904.3 245.5v0M904.3 249.3v0M904.3 259.1v0M904.3 267.7V268.7M904.3 271.2V271.7M904.3 278.7v0M904.3 281.1v0M904.3 284.5v0M904.3 287.6v0M904.3 295.7v0M904.3 300.3v0M904.3 307.1v0M904.3 310.7v0M904.3 316.5v0M904.3 319.9v0M904.3 323.9v0M904.3 326.8v0M904.3 365.1v0M910.4 199.4v0M910.4 203.6v0M910.4 219.9V220.7M910.4 225.3v0M910.4 240.5v0M910.4 243.1v0M910.4 247.8V248.7M910.4 251.9v0M910.4 253v0M910.4 264.3V264.6M910.4 267.6V268.1M910.4 275.2v0M910.4 293.2v0M910.4 298.2v0M910.4 305.3v0M910.4 315.6v0M916.5 193.5v0M916.5 215.7v0M916.5 225.6v0M916.5 246.6v0M916.5 253.4v0M916.5 255.2V256.8M916.5 264.5v0M916.5 276.3v0M916.5 283.4V284.2M916.5 295.1v0M916.5 308.9v0M922.6 216.9v0M922.6 218.9v0M922.6 239.8v0M922.6 242.4V243.4M922.6 251.5v0M922.6 260.9v0M922.6 283.8v0M922.6 288.6v0M922.6 290.1v0M922.6 295.7v0M922.6 331.2v0M928.7 206v0M928.7 263.2v0M928.7 266.9v0M928.7 296.6v0M934.9 222.2v0M934.9 237.6v0M934.9 247.7v0M934.9 249.7v0M934.9 256.4v0M934.9 259.9v0M934.9 265.4v0M934.9 273.9v0M941 272.7v0M941 298.7v0M947.1 273.6v0M953.2 290.9v0M953.2 298v0M959.3 265.8v0M959.3 291v0"/>
<path class="rib" d="M586.5 218.0L602.5 220.9L618.6 223.7L634.6 226.6L650.7 229.5L666.7 232.3L682.7 235.1L698.8 238.0L714.8 240.7L730.9 243.5L746.9 246.2L763.0 248.8L779.0 251.3L795.0 253.7L811.1 256.1L827.1 258.4L843.2 260.7L859.2 263.0L875.3 265.2L891.3 267.4L907.4 269.7L923.4 271.9L939.4 274.1L955.5 276.2L971.5 278.4L971.5 286.4L955.5 283.7L939.4 281.0L923.4 278.3L907.4 275.6L891.3 273.0L875.3 270.3L859.2 267.6L843.2 265.0L827.1 262.4L811.1 259.9L795.0 257.3L779.0 254.9L763.0 252.5L746.9 250.2L730.9 248.0L714.8 245.8L698.8 243.7L682.7 241.6L666.7 239.6L650.7 237.5L634.6 235.5L618.6 233.5L602.5 231.4L586.5 229.4Z"/>
<path class="rib" d="M598.7 193.0L614.0 197.2L629.3 201.4L644.5 205.6L659.8 209.8L675.1 213.9L690.4 218.0L705.7 222.1L720.9 226.1L736.2 230.0L751.5 233.8L766.8 237.4L782.1 240.8L797.3 244.0L812.6 247.0L827.9 249.8L843.2 252.5L858.5 255.2L873.7 257.8L889.0 260.3L904.3 262.8L919.6 265.3L934.9 267.8L950.1 270.3L965.4 272.7L965.4 294.7L950.1 290.7L934.9 286.7L919.6 282.7L904.3 278.7L889.0 274.7L873.7 270.8L858.5 266.9L843.2 263.0L827.9 259.3L812.6 255.7L797.3 252.1L782.1 248.8L766.8 245.7L751.5 242.8L736.2 240.1L720.9 237.6L705.7 235.1L690.4 232.7L675.1 230.3L659.8 228.0L644.5 225.7L629.3 223.4L614.0 221.1L598.7 218.8Z"/>
<line x1="586.5" y1="223.7" x2="971.5" y2="282.4" stroke="#646665" stroke-width="3.4"/>
<line x1="598.7" y1="205.9" x2="965.4" y2="283.7" stroke="#4682b4" stroke-width="3.4"/>
<line x1="567.1" y1="338.3" x2="991.2" y2="338.3" stroke="#000" stroke-width="1.9" stroke-dasharray="7.5 7.5"/>
<path d="M567.1 78.8V402.7H991.2" fill="none" stroke="#000" stroke-width="2"/>
<text x="557.7" y="110.3" class="tk" text-anchor="end">4</text>
<text x="557.7" y="184.8" class="tk" text-anchor="end">2</text>
<text x="557.7" y="259.4" class="tk" text-anchor="end">0</text>
<text x="557.7" y="333.9" class="tk" text-anchor="end">−2</text>
<text x="557.7" y="408.4" class="tk" text-anchor="end">−4</text>
<text transform="translate(592.6 426.9) scale(1 1.08)" class="tkx" text-anchor="middle">30</text>
<text transform="translate(653.7 426.9) scale(1 1.08)" class="tkx" text-anchor="middle">40</text>
<text transform="translate(714.8 426.9) scale(1 1.08)" class="tkx" text-anchor="middle">50</text>
<text transform="translate(776.0 426.9) scale(1 1.08)" class="tkx" text-anchor="middle">60</text>
<text transform="translate(837.1 426.9) scale(1 1.08)" class="tkx" text-anchor="middle">70</text>
<text transform="translate(898.2 426.9) scale(1 1.08)" class="tkx" text-anchor="middle">80</text>
<text transform="translate(959.3 426.9) scale(1 1.08)" class="tkx" text-anchor="middle">90</text>
<path d="M562.1 103.2H567.1M562.1 177.7H567.1M562.1 252.2H567.1M562.1 326.8H567.1M562.1 401.3H567.1M592.6 402.7V407.7M653.7 402.7V407.7M714.8 402.7V407.7M776.0 402.7V407.7M837.1 402.7V407.7M898.2 402.7V407.7M959.3 402.7V407.7" stroke="#333" stroke-width="1.5"/>
<text transform="translate(779.2 453.7) scale(1 1.06)" class="axt" text-anchor="middle">Age (years)</text>
<text transform="translate(524.9 239.6) rotate(-90) scale(1 1.06)" class="axt" text-anchor="middle">Chromosome Y Intensity</text>
<text transform="translate(595.0 99.5) scale(1 1.07)" class="eq eqg"><tspan class="ws">y = 1.50 − 0.03 × Age, P = 1.79 × 10</tspan><tspan dx="0.4" dy="-5.4" class="sup">-30</tspan><tspan dy="5.4">, r = -0.24</tspan></text>
<text transform="translate(595.0 117.8) scale(1 1.07)" class="eq eqb"><tspan class="ws">y = 2.34 − 0.04 × Age, P = 2.99 × 10</tspan><tspan dx="0.4" dy="-5.4" class="sup">-13</tspan><tspan dy="5.4">, r = -0.34</tspan></text>
<text transform="translate(1009.8 65.7) scale(1 1.05)" class="lab">C</text>
<text transform="translate(1083.1 64.3) scale(1 1.07)" class="tit">Colorectal Cancer</text>
<path class="pg" d="M1089.8 167.5v0M1116.9 195.3v0M1122.3 243.3v0M1133.2 200.7v0M1138.6 208.6v0M1144 217.4v0M1144 254.1v0M1149.5 201.6v0M1149.5 231.8v0M1154.9 186v0M1154.9 251.8v0M1160.3 201.7v0M1160.3 262.1v0M1160.3 266.8v0M1165.7 231v0M1165.7 239.5v0M1165.7 249.4v0M1171.2 209.6v0M1171.2 233.4v0M1171.2 262.3v0M1176.6 218.7v0M1176.6 235.9v0M1176.6 240.9v0M1182 191.2v0M1182 231.9v0M1182 235.9v0M1182 273.9v0M1187.5 204v0M1187.5 221.6V223.1M1187.5 248.4v0M1187.5 261.6v0M1187.5 307.1v0M1192.9 160.5v0M1192.9 198.1v0M1192.9 204.8v0M1192.9 209.7v0M1192.9 234.8V239.3M1192.9 249.3v0M1192.9 255.6V258.8M1192.9 265.3V266.3M1192.9 287.9v0M1198.3 200.9V204.7M1198.3 208.9V209.9M1198.3 217.8V219.6M1198.3 224.9v0M1198.3 231.8V233.5M1198.3 247.8V248.7M1198.3 254.1V256.8M1198.3 261.1v0M1198.3 268.9v0M1198.3 283.4v0M1198.3 290.9v0M1198.3 296.2v0M1203.7 157.5v0M1203.7 180.1V183.7M1203.7 193.8V197.9M1203.7 213.5v0M1203.7 226.8V230M1203.7 233.6v0M1203.7 237.3v0M1203.7 240.5V245.1M1203.7 248.8V252.2M1203.7 261.7V263.4M1203.7 266.5v0M1203.7 277.5v0M1203.7 284.3v0M1203.7 287.7V288.7M1203.7 298.1v0M1203.7 307.5v0M1209.2 174v0M1209.2 187.7v0M1209.2 197.9V198.9M1209.2 211.8V213.7M1209.2 218.2v0M1209.2 228.9V241.4M1209.2 244.5V246.1M1209.2 252.6v0M1209.2 257.8V264.2M1209.2 267.2V271.2M1209.2 274.9V275.7M1209.2 283.4v0M1209.2 286.6v0M1209.2 291.7v0M1209.2 297.7V298.9M1214.6 190.5v0M1214.6 193.6V194.5M1214.6 204.5v0M1214.6 209.4V211.2M1214.6 221.6V225.4M1214.6 230.4v0M1214.6 234.9V246.8M1214.6 253.4V256.1M1214.6 259.3v0M1214.6 262.4V266.9M1214.6 285v0M1214.6 293.6v0M1214.6 304.6v0M1220 154.6v0M1220 170.6v0M1220 200.5V208.1M1220 212.4v0M1220 215.5V217.7M1220 221V221.6M1220 224.9v0M1220 228.7V236.1M1220 242.5v0M1220 247.6V255.3M1220 261.7V264.3M1220 271.7v0M1220 276.2V277.4M1220 281.3V284.1M1220 287.7v0M1220 293.1V295.9M1220 312.5V315.1M1225.4 193.4v0M1225.4 196.4V198.4M1225.4 204.7V211.4M1225.4 215.2v0M1225.4 221.5V232.6M1225.4 235.8V247.6M1225.4 250.7V251.6M1225.4 255.1V257.1M1225.4 262V262.9M1225.4 266.1V266.4M1225.4 270V271.5M1225.4 274.6V279M1225.4 285.4v0M1225.4 291v0M1225.4 295.3V297.3M1225.4 310.4v0M1225.4 315.9v0M1230.9 165.6v0M1230.9 192.1V196.9M1230.9 204.7V208.2M1230.9 211.4V211.8M1230.9 215.9v0M1230.9 219.1V237.5M1230.9 244.4V259.7M1230.9 263.9V267.4M1230.9 272.4v0M1230.9 275.9V280.9M1230.9 286.5V289.2M1230.9 297v0M1230.9 302.6V308M1230.9 311.4v0M1230.9 326.2v0M1236.3 179v0M1236.3 184.4V192M1236.3 200V201.4M1236.3 206.1V225.3M1236.3 231.1V236.3M1236.3 239.5V240.3M1236.3 243.7V245.2M1236.3 248.8V251M1236.3 254.3V259M1236.3 264.7V265.3M1236.3 269.6V286.1M1236.3 289.2V297.7M1236.3 302.6V305.5M1236.3 308.7v0M1236.3 317.2v0M1236.3 323.1v0M1236.3 335.3v0M1241.7 192.9v0M1241.7 196.3V197.5M1241.7 201.6v0M1241.7 205.7V212.7M1241.7 216.4V218.5M1241.7 222.2V238.8M1241.7 243.8V265.5M1241.7 268.6V279.8M1241.7 283.8V292.1M1241.7 295.1v0M1241.7 298.2v0M1241.7 305.6v0M1241.7 316.3V319.2M1241.7 322.7v0M1241.7 326.1v0M1241.7 335.7v0M1247.1 173.8v0M1247.1 182.9v0M1247.1 199.6v0M1247.1 203.1v0M1247.1 206.2V214.1M1247.1 218V221.4M1247.1 226.1V260M1247.1 264.3V297.2M1247.1 300.4V310.4M1247.1 319.4V321.3M1252.6 177.3v0M1252.6 193V195.4M1252.6 199.5v0M1252.6 203.1V207.6M1252.6 210.8V213.4M1252.6 216.8V240.4M1252.6 245.3V258.9M1252.6 263.4V270.9M1252.6 275.1V287.4M1252.6 294.6V296.2M1252.6 300.2V305.9M1252.6 309.5V311.5M1252.6 325.7v0M1258 161.3v0M1258 188.2v0M1258 199.3V211.9M1258 215.7V222.5M1258 225.9v0M1258 229v0M1258 233.1V257.2M1258 260.4V261.3M1258 264.8V288.7M1258 292.7V305.5M1258 310.4V311.5M1258 315.2v0M1258 318.6v0M1258 327.5v0M1258 357.2v0M1263.4 172.1v0M1263.4 175.3v0M1263.4 185.3v0M1263.4 191v0M1263.4 196.2V199.2M1263.4 207.7V211.4M1263.4 214.6V258.7M1263.4 261.8V268.2M1263.4 273.4V277.7M1263.4 281.8V293.1M1263.4 296.5V303.4M1263.4 307V308.4M1263.4 317.9v0M1263.4 326.8V327.3M1268.9 166.5v0M1268.9 185.1V186.6M1268.9 192.5v0M1268.9 197.5V209.5M1268.9 214.5v0M1268.9 217.9V277.2M1268.9 280.3V286.1M1268.9 290.5V295.7M1268.9 298.8v0M1268.9 302.3V305.7M1268.9 310.8V313.9M1268.9 327.4v0M1268.9 332.1v0M1268.9 348.5v0M1268.9 356.1v0M1274.3 187.3v0M1274.3 191.3v0M1274.3 199.6V207.6M1274.3 211.2V212.6M1274.3 215.7V221.8M1274.3 225.4V260.7M1274.3 265.9V268.2M1274.3 271.5V279.5M1274.3 282.6V290.8M1274.3 293.9V298.6M1274.3 303.9v0M1274.3 306.9v0M1274.3 313.3V314.1M1274.3 322.1V324.4M1274.3 333.7v0M1279.7 184.9V186.8M1279.7 191.7v0M1279.7 195.5V220.1M1279.7 224.2v0M1279.7 231.5v0M1279.7 235.9V252.6M1279.7 256V300.3M1279.7 309.1V317.6M1279.7 327.9v0M1279.7 333.8v0M1285.1 198.9V199.8M1285.1 205.2v0M1285.1 210.4V214M1285.1 217.2V250.4M1285.1 253.4V264.9M1285.1 268.4V282M1285.1 286.2V297.8M1285.1 300.8V310.7M1285.1 315.5v0M1285.1 318.8V321.1M1285.1 377.1v0M1290.6 169.7v0M1290.6 191.9V199.4M1290.6 206.9v0M1290.6 211.6V214.2M1290.6 218.8v0M1290.6 223.5V289.4M1290.6 292.9v0M1290.6 296.1V302M1290.6 306v0M1290.6 310.1V318.7M1290.6 326.2v0M1290.6 333.6v0M1296 162.1v0M1296 177.9v0M1296 188.4v0M1296 195v0M1296 201.4V202.5M1296 205.8V207.2M1296 214.3V219.8M1296 223.2V286.8M1296 290.5V295.8M1296 298.9V314.1M1296 317.3v0M1296 331.1v0M1296 348.8v0M1296 355.1v0M1296 382.9v0M1301.4 184.5V188.4M1301.4 196.2v0M1301.4 199.7V203.4M1301.4 208.3V210.8M1301.4 214.6V255.3M1301.4 258.6V266.7M1301.4 269.9V297.3M1301.4 300.6V317.4M1301.4 320.9V323.5M1301.4 340.5V341.3M1306.8 156.8v0M1306.8 186.6v0M1306.8 191.9V194M1306.8 201.3V201.9M1306.8 205.2V206.7M1306.8 211.7V277.1M1306.8 281.5V305M1306.8 309V313.1M1306.8 317.3V318.7M1306.8 329v0M1306.8 333.2v0M1312.3 185.8v0M1312.3 199.4V204.8M1312.3 208.3V245.7M1312.3 249.3V290M1312.3 293V308.4M1312.3 312.7V321M1312.3 324.8v0M1312.3 340.3v0M1317.7 191.6V198.5M1317.7 204.4V206.6M1317.7 210.4V212.1M1317.7 215.9V306.8M1317.7 311.9v0M1317.7 315.6V318.6M1317.7 324V325.3M1317.7 329.1v0M1317.7 338.7V340.6M1317.7 351.2v0M1323.1 188.8v0M1323.1 195.4V237.8M1323.1 241.7V264.5M1323.1 268.4V289M1323.1 294.9V307.7M1323.1 311.7V315.8M1323.1 320.3V323M1323.1 336.1V336.7M1323.1 347.1v0M1328.5 203.8v0M1328.5 209.7V241.6M1328.5 245.4V275.1M1328.5 279.2V292.7M1328.5 299.7V326M1328.5 329.2V331.2M1328.5 335.5v0M1328.5 352.2v0M1328.5 355.5v0M1328.5 371.5v0M1334 184v0M1334 189v0M1334 195V196.8M1334 201.1v0M1334 210.2V229.9M1334 233V307.3M1334 310.3V317.1M1334 320.1V322.3M1334 326.2V327M1334 330.5V333.6M1334 337.6v0M1334 342.3V343.4M1339.4 151.5v0M1339.4 197.7v0M1339.4 203.8V222.9M1339.4 229.5V284.5M1339.4 287.6V296M1339.4 299.1V299.7M1339.4 303.3V307.7M1339.4 311.8V312.6M1339.4 315.6V318.5M1339.4 323.7V325.5M1339.4 330.5V337M1339.4 340.6v0M1339.4 346.4v0M1344.8 187.4V191.3M1344.8 206.5V209.4M1344.8 213.9V225.3M1344.8 229.1V258.1M1344.8 262.6V309.1M1344.8 313.3V315.8M1344.8 319.4v0M1344.8 322.9v0M1344.8 326.9v0M1344.8 331.1v0M1344.8 334.6V336.6M1350.3 178.8v0M1350.3 197.6V199.4M1350.3 206.1V207.3M1350.3 212.7V215.8M1350.3 219.2V223.5M1350.3 227.4V271.3M1350.3 274.6V305.7M1350.3 309.9V321.1M1350.3 324.4V331.3M1355.7 207.9v0M1355.7 211.6v0M1355.7 215.9v0M1355.7 223.4V229.7M1355.7 233.9V235.3M1355.7 239.2V299.6M1355.7 302.7V305.9M1355.7 310.4V318.1M1355.7 321.9V326.7M1355.7 332.8v0M1355.7 336.7v0M1361.1 204v0M1361.1 210.5v0M1361.1 217.1V225.8M1361.1 229V243.2M1361.1 246.5V304.1M1361.1 307.4V309.6M1361.1 314.1v0M1361.1 321.7V328.6M1361.1 344.6v0M1361.1 347.7V349.7M1366.5 186.3v0M1366.5 202.5v0M1366.5 209.2V210.1M1366.5 214.7v0M1366.5 218.5V232.5M1366.5 236.2V239.8M1366.5 243.5V262.3M1366.5 265.8V275M1366.5 278.8V282.4M1366.5 286V324.2M1366.5 327.6V327.9M1366.5 334.7v0M1366.5 341.2v0M1366.5 347.3v0M1366.5 364.6v0M1372 147.3v0M1372 196.3v0M1372 201.1V202.4M1372 209.3V214.6M1372 218.4V249.9M1372 254V264.8M1372 268.1V291.4M1372 295.2v0M1372 300.1V311.7M1372 314.7V316.6M1372 320.4v0M1372 324.7V325.6M1372 330.5V338.2M1372 348.3v0M1372 353.2v0M1377.4 164.3v0M1377.4 206.8v0M1377.4 211.2v0M1377.4 215V226.2M1377.4 230.1V248.7M1377.4 253.7V331.2M1377.4 338.3V341.3M1382.8 190.4v0M1382.8 202.5v0M1382.8 208.7v0M1382.8 214.6V225.5M1382.8 229v0M1382.8 232.3V238M1382.8 241.5V247.6M1382.8 254V276M1382.8 279.2V304.3M1382.8 310.7V312.1M1382.8 315.1V318.5M1382.8 323.9V330.1M1382.8 334.2V334.7M1382.8 338.3V342.2M1382.8 350.3V352.3M1388.2 217.7V224.7M1388.2 228.9V231.4M1388.2 237.8V240.8M1388.2 244.1V271.1M1388.2 275.4V283.5M1388.2 291.6V302.7M1388.2 309.3V320.1M1388.2 328v0M1388.2 338.9v0M1393.7 207.5v0M1393.7 210.7V211.6M1393.7 220.8V231.8M1393.7 238.1V241.4M1393.7 245.3V263.1M1393.7 267.5V269.3M1393.7 276.1V287.1M1393.7 292.3V293.2M1393.7 296.5V314.3M1393.7 317.5V319.9M1393.7 323.6V324.3M1393.7 334.1V335.2M1393.7 353.4v0M1399.1 178.7v0M1399.1 200.2v0M1399.1 217.7v0M1399.1 244.3V245.4M1399.1 254.5V254.9M1399.1 260.5V264.7M1399.1 273.7v0M1399.1 278.8V283.7M1399.1 287.6V290.6M1399.1 294.8V295.7M1399.1 301.4V304.9M1399.1 308.8v0M1399.1 314.9V316.7M1399.1 323.1v0M1399.1 329.8v0M1399.1 333.4v0M1399.1 338.5v0M1404.5 207.4v0M1404.5 228.6v0M1404.5 237v0M1404.5 241.5V244.2M1404.5 252.9v0M1404.5 256.2V260.4M1404.5 265.8v0M1404.5 269.2v0M1404.5 273v0M1404.5 277.7V279.2M1404.5 285.6V286.9M1404.5 290.5V299M1404.5 312.4v0M1404.5 323.8v0M1404.5 339.2v0M1404.5 345.4v0M1409.9 223.3v0M1409.9 239.5v0M1409.9 254.6v0M1409.9 261.7v0M1409.9 267.8v0M1409.9 271.8V280.9M1409.9 286.8v0M1409.9 291.7V294.3M1409.9 301.5V303.3M1409.9 307.4v0M1409.9 340.2v0M1415.4 253.1V256.1M1415.4 272.4V275.6M1415.4 279.7v0M1415.4 294.9V297.6M1415.4 301.2v0M1415.4 314.2v0M1415.4 319.9v0M1415.4 354.4v0M1420.8 241.4v0M1420.8 248.7v0M1420.8 253.9v0M1420.8 260.6v0M1420.8 270.7v0M1420.8 284.4v0M1420.8 288.3V290.9M1420.8 294.7v0M1420.8 303.1V304.1M1420.8 307.2v0M1420.8 313.2v0M1426.2 246.3V248.5M1426.2 259.2V261.5M1426.2 264.9V266.3M1426.2 270.2v0M1426.2 278.6V280.6M1426.2 287.6v0M1426.2 293.6v0M1426.2 305.4v0M1431.7 255.5v0M1431.7 279.2v0M1431.7 290.7v0M1431.7 295.2v0M1437.1 182.4v0M1437.1 314.6v0M1442.5 272.4v0M1442.5 279.5v0M1453.4 310v0M1464.2 274.1v0"/>
<path class="pb" d="M1192.9 211.1v0M1203.7 217.7v0M1209.2 215.6v0M1236.3 235.8v0M1236.3 239v0M1241.7 227.3v0M1241.7 268.7v0M1247.1 278.6v0M1252.6 201.8v0M1252.6 251.5v0M1252.6 260.8v0M1263.4 231.6v0M1263.4 284.7v0M1263.4 287.7v0M1263.4 293.6v0M1268.9 266.7v0M1285.1 250v0M1285.1 277.2v0M1290.6 283.8v0M1290.6 287v0M1296 245.2v0M1296 267.8v0M1296 275.1v0M1306.8 189.4v0M1306.8 203.9v0M1306.8 243.4v0M1306.8 262.9v0M1317.7 238.5v0M1334 234.5v0M1334 269.1v0M1339.4 294.2v0M1350.3 228.6v0M1355.7 241.8v0M1361.1 278.5v0M1361.1 287.7v0M1366.5 264.6v0M1372 226.9v0M1372 269.2v0M1382.8 308.8v0M1388.2 259.1v0M1388.2 268.2v0M1388.2 304.8v0M1393.7 203.2v0M1399.1 251.6v0M1409.9 237.4v0M1426.2 313.4v0"/>
<path class="pg" d="M1089.8 239.1v0M1095.2 260.6v0M1106.1 231.4v0M1111.5 238.7v0M1127.8 222.5v0M1127.8 232.1v0M1133.2 206.8v0M1138.6 214.3v0M1144 214.5v0M1149.5 252.9v0M1154.9 238.6v0M1165.7 228.1v0M1182 248.7v0M1182 252v0M1187.5 211.7v0M1187.5 226.6v0M1192.9 216v0M1192.9 222.4v0M1192.9 259v0M1192.9 305.5v0M1198.3 137.2v0M1198.3 217.5v0M1198.3 221.1v0M1198.3 230.8v0M1198.3 255.9v0M1198.3 268.4v0M1198.3 290.7v0M1198.3 294.5v0M1203.7 195v0M1203.7 222.8v0M1203.7 224.5v0M1203.7 233.7v0M1203.7 242.2v0M1203.7 246v0M1203.7 248.1V248.8M1203.7 256.9v0M1203.7 260.8v0M1203.7 264.1v0M1203.7 276.4v0M1209.2 199.7v0M1209.2 206.3v0M1209.2 211.2v0M1209.2 222.7v0M1209.2 233.4v0M1209.2 237.1v0M1209.2 238.2v0M1209.2 244.7V245.3M1209.2 252.9v0M1209.2 258.2v0M1209.2 315.5v0M1209.2 322.6v0M1214.6 175.5v0M1214.6 193.4v0M1214.6 196.3v0M1214.6 209.9v0M1214.6 225.1v0M1214.6 233.8v0M1214.6 239.6v0M1214.6 245.2v0M1214.6 257.4v0M1214.6 270v0M1214.6 278.5v0M1214.6 286.2V288.2M1214.6 293.8v0M1220 180.1v0M1220 195.7v0M1220 202.5v0M1220 215.7V216.1M1220 222.3v0M1220 231.2V231.7M1220 234.8v0M1220 253.3v0M1220 256.8v0M1220 278.2v0M1220 288.7v0M1220 290.3v0M1220 298.4v0M1225.4 171.5v0M1225.4 173.8v0M1225.4 195.7v0M1225.4 205.8v0M1225.4 212.2v0M1225.4 228.8v0M1225.4 235.5v0M1225.4 238.7V241M1225.4 243.3v0M1225.4 244.9v0M1225.4 245.9v0M1225.4 254.8v0M1225.4 256.9V257.4M1225.4 261.7v0M1225.4 264.1v0M1225.4 265.4v0M1225.4 267.8v0M1225.4 279.8v0M1225.4 296.5v0M1230.9 178.4v0M1230.9 184.7v0M1230.9 186.7v0M1230.9 204.1v0M1230.9 206.7v0M1230.9 224.1v0M1230.9 228.2v0M1230.9 229.8v0M1230.9 232.9v0M1230.9 238.7v0M1230.9 242.6v0M1230.9 246v0M1230.9 269.2v0M1230.9 270.4V271.1M1230.9 275.9v0M1230.9 279v0M1230.9 281.3v0M1230.9 285.1v0M1230.9 289.3v0M1230.9 291v0M1230.9 312v0M1236.3 189.9v0M1236.3 194.9v0M1236.3 211.4V211.9M1236.3 213.5v0M1236.3 221.5v0M1236.3 229.7v0M1236.3 233.6v0M1236.3 235V235.6M1236.3 238.9V240.3M1236.3 250.7v0M1236.3 257.5V260.2M1236.3 263.6v0M1236.3 266.5v0M1236.3 269.4v0M1236.3 272.6v0M1236.3 283.7V284.1M1236.3 288.6v0M1236.3 297.6v0M1236.3 305.9v0M1236.3 309v0M1236.3 313v0M1241.7 167.2v0M1241.7 187.1V187.4M1241.7 199.1v0M1241.7 205.6v0M1241.7 207.9v0M1241.7 216.2v0M1241.7 229.4v0M1241.7 232.9v0M1241.7 234.7V235.6M1241.7 243.6v0M1241.7 248.3v0M1241.7 254.7v0M1241.7 256.7v0M1241.7 260.6v0M1241.7 267.8v0M1241.7 270.6v0M1241.7 271.7v0M1241.7 274.5V275M1241.7 279.4v0M1241.7 282.8v0M1241.7 284.8v0M1241.7 285.8v0M1241.7 293.9v0M1241.7 295.1v0M1241.7 311.6v0M1247.1 195.8V196.7M1247.1 200.1V201M1247.1 207.5V207.8M1247.1 212.5v0M1247.1 214.2v0M1247.1 220.4v0M1247.1 224.2v0M1247.1 230.7v0M1247.1 232v0M1247.1 234.9V235.7M1247.1 238V238.3M1247.1 242V242.3M1247.1 244.5v0M1247.1 253v0M1247.1 255.5v0M1247.1 263.9v0M1247.1 265.8v0M1247.1 273v0M1247.1 275.2v0M1247.1 280.6v0M1247.1 285.3v0M1247.1 314.3v0M1247.1 324.7v0M1252.6 180.6v0M1252.6 197.1v0M1252.6 199.2v0M1252.6 202.1v0M1252.6 207.8v0M1252.6 217.9v0M1252.6 219.4V220M1252.6 221.2v0M1252.6 222.3v0M1252.6 226.9V227.8M1252.6 231.8V232.1M1252.6 233.9v0M1252.6 239.3v0M1252.6 242v0M1252.6 246v0M1252.6 248.9v0M1252.6 256.7v0M1252.6 259.9v0M1252.6 261.9V262.3M1252.6 265.8v0M1252.6 270.5v0M1252.6 278.3v0M1252.6 280v0M1252.6 282.9v0M1252.6 284.2V285.4M1252.6 288.1v0M1252.6 289.6v0M1252.6 295.2v0M1252.6 300.1v0M1252.6 301.3v0M1252.6 304.1v0M1258 165v0M1258 181.9v0M1258 187.7v0M1258 203.1v0M1258 212.4V213M1258 214.4v0M1258 218.1v0M1258 222.4V222.9M1258 228.7v0M1258 230.2V230.8M1258 234.7v0M1258 250v0M1258 252.2V253.7M1258 256.9v0M1258 258.9v0M1258 263.6v0M1258 267.3V268.3M1258 269.5v0M1258 279v0M1258 283.4v0M1258 285.6v0M1258 290.3v0M1258 300.1v0M1258 309.8V310.7M1258 312.6v0M1258 320.9v0M1263.4 189v0M1263.4 192.9v0M1263.4 206.3v0M1263.4 208.3v0M1263.4 209.7v0M1263.4 213.2v0M1263.4 219.3v0M1263.4 221.3V222.2M1263.4 225.2v0M1263.4 226.3V227.3M1263.4 233v0M1263.4 249.4V250.1M1263.4 251.5v0M1263.4 255.1v0M1263.4 261.4V262M1263.4 263.5v0M1263.4 267.6v0M1263.4 271v0M1263.4 273.5v0M1263.4 274.7V275.7M1263.4 278.4v0M1263.4 283.3v0M1263.4 286.2v0M1263.4 292.5v0M1263.4 293.9v0M1263.4 300v0M1263.4 307.9v0M1268.9 189.1v0M1268.9 201.4v0M1268.9 202.5v0M1268.9 210.9V211.4M1268.9 216.5v0M1268.9 218.8v0M1268.9 223.4V224.5M1268.9 225.6v0M1268.9 231.5v0M1268.9 233.4V234.7M1268.9 239.4v0M1268.9 241.9v0M1268.9 243.5v0M1268.9 245.9v0M1268.9 249.7v0M1268.9 251.2v0M1268.9 253.3v0M1268.9 259v0M1268.9 261.2v0M1268.9 267.4v0M1268.9 276.3v0M1268.9 277.6v0M1268.9 284.6v0M1268.9 286.6V287.6M1268.9 293.6v0M1268.9 308.7v0M1274.3 179.4v0M1274.3 215.3v0M1274.3 217.6v0M1274.3 218.9v0M1274.3 228.2v0M1274.3 233.6V234.5M1274.3 236.5v0M1274.3 239.2V239.9M1274.3 242.3v0M1274.3 245.1v0M1274.3 246.7v0M1274.3 249.7V250.4M1274.3 256.4v0M1274.3 258.4v0M1274.3 259.9v0M1274.3 261.1v0M1274.3 267v0M1274.3 273.2V274.3M1274.3 275.8v0M1274.3 277.5V277.8M1274.3 281.9V282.8M1274.3 283.9v0M1274.3 288.8V290.8M1274.3 310.7v0M1274.3 326.4v0M1279.7 197v0M1279.7 200.8v0M1279.7 202.3v0M1279.7 216.3v0M1279.7 217.6v0M1279.7 221.6v0M1279.7 223.1v0M1279.7 232.3v0M1279.7 234.3V236.6M1279.7 241.2v0M1279.7 245.5v0M1279.7 247.2V249.1M1279.7 251.4v0M1279.7 253.3v0M1279.7 265.9V267.5M1279.7 269V270.3M1279.7 273.1v0M1279.7 274.3v0M1279.7 278.8V279.5M1279.7 282.3v0M1279.7 283.5v0M1279.7 284.8v0M1279.7 287.8v0M1279.7 300.5v0M1279.7 305.9v0M1285.1 185.7v0M1285.1 203.6v0M1285.1 204.6v0M1285.1 206.4V207.1M1285.1 212.1v0M1285.1 222.7v0M1285.1 224.1v0M1285.1 226.2v0M1285.1 229.1v0M1285.1 230.5V231M1285.1 233.2v0M1285.1 234.4v0M1285.1 235.5v0M1285.1 236.8V237.4M1285.1 245.6v0M1285.1 247.2v0M1285.1 248.4v0M1285.1 250.1V250.9M1285.1 254.3V254.8M1285.1 257.1V257.7M1285.1 262.8v0M1285.1 266.8v0M1285.1 268.6V269.5M1285.1 271.1v0M1285.1 273.2V274M1285.1 276.1V276.7M1285.1 278.2v0M1285.1 284.2v0M1285.1 285.3v0M1285.1 291.9v0M1285.1 294.1V294.9M1285.1 298v0M1285.1 302.1v0M1285.1 310.7v0M1285.1 314.9V315.8M1285.1 318.3v0M1285.1 320.5v0M1285.1 328.3v0M1285.1 333.4v0M1290.6 195.5v0M1290.6 208.8v0M1290.6 210.4v0M1290.6 217.4V217.8M1290.6 220.6v0M1290.6 229.8v0M1290.6 235.2V236.1M1290.6 243v0M1290.6 244.2v0M1290.6 249.3v0M1290.6 254v0M1290.6 258.7V259.1M1290.6 261.7V262.6M1290.6 263.9v0M1290.6 266.5v0M1290.6 270.6v0M1290.6 273V274M1290.6 275.9v0M1290.6 276.9v0M1290.6 278.5v0M1290.6 283.9v0M1290.6 287V287.5M1290.6 288.8v0M1290.6 294.6v0M1290.6 296.1v0M1290.6 299.7v0M1290.6 306.6V307.5M1290.6 310.9v0M1290.6 316.5v0M1296 192.5v0M1296 206.1v0M1296 209.1v0M1296 219.4v0M1296 228v0M1296 230.1v0M1296 232.9v0M1296 235.1v0M1296 239.1v0M1296 241.2V242.6M1296 245.1V245.8M1296 247.9v0M1296 252.4V253.2M1296 258V258.8M1296 259.9V260.8M1296 262.8v0M1296 264.2v0M1296 266.1v0M1296 267.3v0M1296 273.9v0M1296 275.4v0M1296 276.7V278.5M1296 279.7v0M1296 283.4v0M1296 284.8v0M1296 286.3V287.1M1296 288.3v0M1296 292.8v0M1296 295.9v0M1296 299.7v0M1296 301.8v0M1296 309.9v0M1296 311.5v0M1296 318.7v0M1301.4 195.3v0M1301.4 199.3v0M1301.4 204.3v0M1301.4 216.5v0M1301.4 224.1V225.7M1301.4 231.1v0M1301.4 234.7V236.3M1301.4 237.3v0M1301.4 240.1V240.9M1301.4 246.9V247.7M1301.4 255.7V256.6M1301.4 261.4v0M1301.4 263.2V263.8M1301.4 268.9v0M1301.4 271.2v0M1301.4 274.1V274.8M1301.4 279v0M1301.4 284.6v0M1301.4 285.9v0M1301.4 287.2v0M1301.4 291.6V292.9M1301.4 295.5V296.6M1301.4 302.1v0M1301.4 304.5v0M1301.4 313.2v0M1301.4 315.6v0M1301.4 325v0M1301.4 359v0M1306.8 201.5v0M1306.8 206.7v0M1306.8 207.8v0M1306.8 213.5v0M1306.8 218.2v0M1306.8 222.2v0M1306.8 223.5V224M1306.8 228.3v0M1306.8 229.9v0M1306.8 236v0M1306.8 238.3v0M1306.8 240.7v0M1306.8 246.6V248M1306.8 249V250.5M1306.8 252V252.5M1306.8 256.1v0M1306.8 259.1v0M1306.8 260.9v0M1306.8 265v0M1306.8 268V268.3M1306.8 269.9v0M1306.8 271.9v0M1306.8 273.2V273.6M1306.8 275.4v0M1306.8 280.5v0M1306.8 287V287.3M1306.8 289.5v0M1306.8 298.3v0M1306.8 299.3v0M1306.8 300.6v0M1306.8 304.1V305M1306.8 309v0M1306.8 314.1v0M1306.8 332.1v0M1306.8 339.4v0M1312.3 198.6v0M1312.3 200.3v0M1312.3 235.1v0M1312.3 237.1V237.6M1312.3 239V239.5M1312.3 253.8v0M1312.3 260.4V261.2M1312.3 264.4v0M1312.3 267.4v0M1312.3 269.5v0M1312.3 275.3V276M1312.3 277.1V277.7M1312.3 279.7V281.7M1312.3 284v0M1312.3 287.8v0M1312.3 290.3v0M1312.3 294.6v0M1312.3 297.6v0M1312.3 304.4v0M1312.3 305.5v0M1312.3 308.4v0M1312.3 310.4v0M1312.3 329.1v0M1317.7 189.1v0M1317.7 205.6v0M1317.7 209V209.6M1317.7 214.8V215.4M1317.7 223.1v0M1317.7 225.1v0M1317.7 226.1V226.7M1317.7 229.5V230.1M1317.7 231.4v0M1317.7 238.3v0M1317.7 240.2v0M1317.7 247.2v0M1317.7 251.4V253.7M1317.7 255.8v0M1317.7 257.1v0M1317.7 259.2v0M1317.7 262.8v0M1317.7 264.9V265.8M1317.7 269v0M1317.7 271v0M1317.7 272.1v0M1317.7 277V278M1317.7 281V281.5M1317.7 288.8v0M1317.7 292.4v0M1317.7 296.1v0M1317.7 301.7v0M1317.7 304.7v0M1317.7 308.5v0M1317.7 310.1v0M1317.7 311.3v0M1317.7 320.2v0M1317.7 326.4v0M1317.7 340.4v0M1323.1 163.8v0M1323.1 190.1v0M1323.1 193.9v0M1323.1 196.9v0M1323.1 202.6v0M1323.1 209.4V210.2M1323.1 213.4v0M1323.1 216.5v0M1323.1 218.1V218.6M1323.1 220.1v0M1323.1 226.6v0M1323.1 232v0M1323.1 234V234.6M1323.1 236v0M1323.1 237.4v0M1323.1 239.3v0M1323.1 240.7v0M1323.1 244.6V245.5M1323.1 247.6v0M1323.1 249.6v0M1323.1 251.1v0M1323.1 252.4v0M1323.1 253.5v0M1323.1 254.9v0M1323.1 261.5v0M1323.1 263.7v0M1323.1 266.4v0M1323.1 268.1V268.8M1323.1 271.2v0M1323.1 272.4v0M1323.1 276.5v0M1323.1 278.1v0M1323.1 289.1v0M1323.1 290.8v0M1323.1 293.7v0M1323.1 307.2V307.7M1323.1 309.4v0M1323.1 312v0M1323.1 320.5v0M1328.5 194.2v0M1328.5 209.4v0M1328.5 216.7v0M1328.5 218.8v0M1328.5 220.4v0M1328.5 224v0M1328.5 226.4v0M1328.5 229.7V230.5M1328.5 234.4v0M1328.5 238.1V238.5M1328.5 241.1v0M1328.5 245.3v0M1328.5 252.3v0M1328.5 253.8V254.1M1328.5 258.7v0M1328.5 262.5v0M1328.5 266.8V267.5M1328.5 269.9v0M1328.5 272.3v0M1328.5 279.7V280.8M1328.5 282.2v0M1328.5 284.3v0M1328.5 286.5v0M1328.5 291.7v0M1328.5 293.5v0M1328.5 296.1v0M1328.5 298.3v0M1328.5 300.3v0M1328.5 301.9v0M1328.5 303.8V304.6M1328.5 323.7v0M1328.5 328.5v0M1334 196.4v0M1334 197.5v0M1334 208.2V209M1334 217.2v0M1334 223.6V224M1334 234.1v0M1334 236.5v0M1334 238.9v0M1334 240.3V241.6M1334 249.5v0M1334 253.7v0M1334 257.2v0M1334 260.5v0M1334 262.1v0M1334 263.9V264.6M1334 270.6V271.1M1334 274.1v0M1334 275.9V276.6M1334 278v0M1334 279.1V280.2M1334 283.4v0M1334 284.8v0M1334 289.4v0M1334 290.9v0M1334 293.2v0M1334 295.2V295.8M1334 304.9v0M1334 308.3V309.2M1334 312.7v0M1334 338.6v0M1339.4 201.7v0M1339.4 206.5v0M1339.4 207.5v0M1339.4 210.2v0M1339.4 220.4v0M1339.4 223.3v0M1339.4 226.2v0M1339.4 227.8v0M1339.4 237.3v0M1339.4 239.8v0M1339.4 240.9V241.6M1339.4 248.3v0M1339.4 249.3v0M1339.4 252.7v0M1339.4 253.7v0M1339.4 255.3v0M1339.4 257.4v0M1339.4 261.2V261.8M1339.4 263.5v0M1339.4 265.1v0M1339.4 266.3v0M1339.4 267.4v0M1339.4 271.3v0M1339.4 279.4v0M1339.4 280.5v0M1339.4 281.6v0M1339.4 284.2v0M1339.4 285.7v0M1339.4 286.7v0M1339.4 287.7v0M1339.4 300.9V301.8M1339.4 303.2V304M1339.4 306.8V307.4M1339.4 311.7V312M1339.4 313.9v0M1339.4 316.8v0M1339.4 326.6v0M1344.8 208.1v0M1344.8 209.6v0M1344.8 212v0M1344.8 213.6v0M1344.8 228.1v0M1344.8 229.8V230.7M1344.8 232.8v0M1344.8 240.8v0M1344.8 241.9v0M1344.8 244.4V245.3M1344.8 247.2v0M1344.8 249.7V250.2M1344.8 253.7v0M1344.8 254.8V255.8M1344.8 258.2v0M1344.8 265.9v0M1344.8 268.1v0M1344.8 269.5v0M1344.8 270.7v0M1344.8 272.1v0M1344.8 279.1v0M1344.8 280.2v0M1344.8 281.4V281.7M1344.8 285.6V286.3M1344.8 288.5v0M1344.8 292V292.5M1344.8 295.4v0M1344.8 297v0M1344.8 299.2V299.6M1344.8 301.4v0M1344.8 303.8v0M1344.8 305.7v0M1344.8 312.2v0M1344.8 315v0M1344.8 316.3V317M1344.8 330.7v0M1344.8 340.2v0M1350.3 195.8V196.5M1350.3 203.4v0M1350.3 207.2v0M1350.3 208.3v0M1350.3 209.9v0M1350.3 218.4V219.1M1350.3 230v0M1350.3 233.1V233.6M1350.3 235.1v0M1350.3 237.8V238.6M1350.3 240.4v0M1350.3 241.9v0M1350.3 245.4V245.9M1350.3 247.7v0M1350.3 253.6v0M1350.3 257.8v0M1350.3 261V261.5M1350.3 262.9V263.8M1350.3 267.3V267.6M1350.3 269.2v0M1350.3 272.8v0M1350.3 285.7v0M1350.3 288.8v0M1350.3 294.2v0M1350.3 295.2v0M1350.3 301.1v0M1350.3 303.8v0M1350.3 306.1v0M1350.3 314.8v0M1350.3 322.6v0M1350.3 331.3v0M1355.7 206.8v0M1355.7 207.9v0M1355.7 223.8v0M1355.7 238.6V239.3M1355.7 250.4V250.9M1355.7 252.7v0M1355.7 256.5V257M1355.7 258.1v0M1355.7 262.6v0M1355.7 264.5v0M1355.7 268.7v0M1355.7 270.3v0M1355.7 271.7V272.2M1355.7 273.9v0M1355.7 276.7v0M1355.7 278.8V280M1355.7 282V283.8M1355.7 288.7v0M1355.7 301.6v0M1355.7 302.8v0M1355.7 304.5v0M1355.7 307.6v0M1355.7 310.8v0M1355.7 312V312.9M1355.7 314v0M1355.7 315.4v0M1355.7 326.1v0M1355.7 333.3v0M1355.7 334.8v0M1355.7 339.2v0M1361.1 192.5v0M1361.1 206.6v0M1361.1 221.4v0M1361.1 223.2v0M1361.1 228.7v0M1361.1 234.4v0M1361.1 242.4v0M1361.1 248.3v0M1361.1 258.4V258.8M1361.1 262.2V263.1M1361.1 266.5v0M1361.1 269.4V270.6M1361.1 272.8V274.2M1361.1 275.6V276M1361.1 280.9v0M1361.1 288v0M1361.1 291.8v0M1361.1 293.4V294.3M1361.1 295.4V295.9M1361.1 297.3v0M1361.1 298.5v0M1361.1 302.3v0M1361.1 303.9V304.8M1361.1 306.1v0M1361.1 309.4v0M1361.1 326.9v0M1361.1 346.1v0M1366.5 202.1v0M1366.5 231.7v0M1366.5 236v0M1366.5 238.1v0M1366.5 239.8v0M1366.5 241.1v0M1366.5 245.2v0M1366.5 250.7V252.2M1366.5 254.8v0M1366.5 258.4v0M1366.5 259.9v0M1366.5 261v0M1366.5 263.1v0M1366.5 266.9v0M1366.5 271v0M1366.5 272.9V273.6M1366.5 276.3V277.1M1366.5 278.2v0M1366.5 280.8v0M1366.5 283.3v0M1366.5 285.3v0M1366.5 287.9v0M1366.5 291.7v0M1366.5 311.7v0M1366.5 313.4v0M1366.5 321.6v0M1366.5 329.5v0M1366.5 331.2v0M1366.5 336v0M1366.5 343.8v0M1372 204.6v0M1372 208v0M1372 209.6v0M1372 210.9v0M1372 214.8v0M1372 226.2v0M1372 234.1v0M1372 238.3v0M1372 242.2v0M1372 244.4v0M1372 246.6v0M1372 251v0M1372 252.8v0M1372 255.1V256.2M1372 263.3v0M1372 272v0M1372 274.3v0M1372 276.4V277.3M1372 279.2v0M1372 280.5v0M1372 283.9v0M1372 287.3v0M1372 290.2v0M1372 297.7v0M1372 300.1v0M1372 316.8v0M1372 318.7v0M1372 326v0M1372 329.6v0M1372 332.7V333.5M1372 340.2v0M1372 344.2v0M1377.4 191.5v0M1377.4 210.3v0M1377.4 214.1V214.7M1377.4 222.9v0M1377.4 235v0M1377.4 242.4v0M1377.4 244.2v0M1377.4 246.1v0M1377.4 251.3v0M1377.4 252.4v0M1377.4 264.5V265.2M1377.4 267.9v0M1377.4 271.8v0M1377.4 279.8V280.2M1377.4 282.8v0M1377.4 288.6v0M1377.4 289.9v0M1377.4 291.9v0M1377.4 294.1V294.9M1377.4 297.8v0M1377.4 302.5v0M1377.4 303.6v0M1377.4 306v0M1377.4 308.4v0M1377.4 312v0M1377.4 315.4v0M1377.4 317.4V318.1M1382.8 191.5v0M1382.8 204.2v0M1382.8 214.5V214.9M1382.8 219.6v0M1382.8 235v0M1382.8 245.6V246.1M1382.8 248.7v0M1382.8 249.8v0M1382.8 251.1v0M1382.8 252.2v0M1382.8 253.7v0M1382.8 255v0M1382.8 257.8V258.9M1382.8 266.4V266.8M1382.8 268.9v0M1382.8 277.9v0M1382.8 281.4v0M1382.8 290.4v0M1382.8 292.6v0M1382.8 298.8v0M1382.8 304.2v0M1382.8 314.7v0M1382.8 317v0M1382.8 318.4v0M1382.8 324.5v0M1382.8 342.7v0M1388.2 220v0M1388.2 240.6v0M1388.2 244.7V245.6M1388.2 246.8v0M1388.2 254.9v0M1388.2 260.1v0M1388.2 261.2v0M1388.2 267v0M1388.2 268.9v0M1388.2 272.8v0M1388.2 275.9v0M1388.2 287.2v0M1388.2 288.8v0M1388.2 291.5v0M1388.2 297.4v0M1388.2 301.1v0M1388.2 307.4V308M1388.2 320.4V320.9M1388.2 322.1v0M1388.2 325.7v0M1388.2 329.2v0M1393.7 218.7v0M1393.7 221.5v0M1393.7 228.1v0M1393.7 234.4V235.6M1393.7 239v0M1393.7 248v0M1393.7 257v0M1393.7 260.8v0M1393.7 264.4v0M1393.7 285.6v0M1393.7 290v0M1393.7 291.1v0M1393.7 296.6v0M1393.7 307.2v0M1393.7 309.7v0M1393.7 313.7v0M1393.7 334v0M1399.1 212.2v0M1399.1 242.4v0M1399.1 255.4v0M1399.1 258.8v0M1399.1 273.8v0M1399.1 281.3v0M1399.1 312V312.3M1399.1 331.4v0M1404.5 234.6v0M1404.5 241.6V242.4M1404.5 260.8v0M1404.5 276.8V277.1M1404.5 289.4v0M1404.5 294.5v0M1404.5 304.8v0M1404.5 309v0M1404.5 330.2v0M1409.9 253.7v0M1409.9 258.3v0M1409.9 299.5v0M1409.9 302.8v0M1409.9 311.9v0M1415.4 269.1v0M1415.4 294.9v0M1415.4 317.6v0M1420.8 233.9v0M1420.8 235.9v0M1420.8 244.4v0M1420.8 259.4v0M1420.8 269.8v0M1420.8 330.5v0M1426.2 230.4v0M1426.2 255.6v0M1426.2 275.9v0M1426.2 320.1v0M1431.7 309.5v0"/>
<path class="rib" d="M1089.8 217.2L1105.8 220.4L1121.9 223.5L1137.9 226.7L1154.0 229.9L1170.0 233.0L1186.1 236.2L1202.2 239.3L1218.2 242.4L1234.3 245.5L1250.3 248.5L1266.4 251.5L1282.4 254.4L1298.5 257.3L1314.5 260.1L1330.6 262.9L1346.6 265.6L1362.7 268.3L1378.7 270.9L1394.8 273.6L1410.9 276.2L1426.9 278.8L1443.0 281.5L1459.0 284.1L1475.1 286.7L1475.1 294.7L1459.0 291.5L1443.0 288.3L1426.9 285.2L1410.9 282.0L1394.8 278.8L1378.7 275.7L1362.7 272.6L1346.6 269.5L1330.6 266.4L1314.5 263.4L1298.5 260.4L1282.4 257.4L1266.4 254.6L1250.3 251.8L1234.3 249.0L1218.2 246.3L1202.2 243.6L1186.1 241.0L1170.0 238.3L1154.0 235.7L1137.9 233.0L1121.9 230.4L1105.8 227.8L1089.8 225.2Z"/>
<path class="rib" d="M1182.0 220.4L1192.2 222.6L1202.4 224.9L1212.6 227.1L1222.7 229.2L1232.9 231.3L1243.1 233.3L1253.3 235.3L1263.4 237.2L1273.6 238.9L1283.8 240.5L1294.0 242.0L1304.1 243.3L1314.3 244.5L1324.5 245.5L1334.7 246.3L1344.8 246.9L1355.0 247.5L1365.2 247.9L1375.4 248.3L1385.5 248.6L1395.7 248.8L1405.9 249.0L1416.1 249.2L1426.2 249.3L1426.2 285.3L1416.1 282.9L1405.9 280.6L1395.7 278.3L1385.5 276.1L1375.4 273.9L1365.2 271.7L1355.0 269.7L1344.8 267.7L1334.7 265.9L1324.5 264.2L1314.3 262.7L1304.1 261.3L1294.0 260.2L1283.8 259.2L1273.6 258.3L1263.4 257.6L1253.3 256.9L1243.1 256.4L1232.9 255.9L1222.7 255.5L1212.6 255.2L1202.4 254.9L1192.2 254.6L1182.0 254.4Z"/>
<line x1="1089.8" y1="221.2" x2="1475.1" y2="290.7" stroke="#646665" stroke-width="3.4"/>
<line x1="1182.0" y1="237.4" x2="1426.2" y2="267.3" stroke="#4682b4" stroke-width="3.4"/>
<line x1="1070.8" y1="334.0" x2="1494.5" y2="334.0" stroke="#000" stroke-width="1.9" stroke-dasharray="7.5 7.5"/>
<path d="M1070.8 78.6V402.3H1494.5" fill="none" stroke="#000" stroke-width="2"/>
<text x="1061.4" y="93.9" class="tk" text-anchor="end">4</text>
<text x="1061.4" y="172.1" class="tk" text-anchor="end">2</text>
<text x="1061.4" y="250.3" class="tk" text-anchor="end">0</text>
<text x="1061.4" y="328.6" class="tk" text-anchor="end">−2</text>
<text x="1061.4" y="406.8" class="tk" text-anchor="end">−4</text>
<text transform="translate(1095.2 426.5) scale(1 1.08)" class="tkx" text-anchor="middle">30</text>
<text transform="translate(1149.5 426.5) scale(1 1.08)" class="tkx" text-anchor="middle">40</text>
<text transform="translate(1203.7 426.5) scale(1 1.08)" class="tkx" text-anchor="middle">50</text>
<text transform="translate(1258.0 426.5) scale(1 1.08)" class="tkx" text-anchor="middle">60</text>
<text transform="translate(1312.3 426.5) scale(1 1.08)" class="tkx" text-anchor="middle">70</text>
<text transform="translate(1366.5 426.5) scale(1 1.08)" class="tkx" text-anchor="middle">80</text>
<text transform="translate(1420.8 426.5) scale(1 1.08)" class="tkx" text-anchor="middle">90</text>
<path d="M1065.8 86.8H1070.8M1065.8 165.0H1070.8M1065.8 243.2H1070.8M1065.8 321.5H1070.8M1065.8 399.7H1070.8M1095.2 402.3V407.3M1149.5 402.3V407.3M1203.7 402.3V407.3M1258.0 402.3V407.3M1312.3 402.3V407.3M1366.5 402.3V407.3M1420.8 402.3V407.3" stroke="#333" stroke-width="1.5"/>
<text transform="translate(1282.7 453.3) scale(1 1.06)" class="axt" text-anchor="middle">Age (years)</text>
<text transform="translate(1028.6 239.6) rotate(-90) scale(1 1.06)" class="axt" text-anchor="middle">Chromosome Y Intensity</text>
<text transform="translate(1098.4 99.5) scale(1 1.07)" class="eq eqg"><tspan class="ws">y = 1.30 − 0.03 × Age, P = 5.39 × 10</tspan><tspan dx="0.4" dy="-5.4" class="sup">-71</tspan><tspan dy="5.4">, r = -0.27</tspan></text>
<text transform="translate(1098.4 117.9) scale(1 1.07)" class="eq eqb"><tspan class="ws">y = 0.93 − 0.02 × Age, P = 8.45 × 10</tspan><tspan dx="0.4" dy="-5.4" class="sup">-2</tspan><tspan dy="5.4">, r = -0.18</tspan></text>
<text transform="translate(1512.6 66.0) scale(1 1.05)" class="lab">D</text>
<text transform="translate(1591.0 66.0) scale(1 1.07)" class="tit">Gastric Cancer</text>
<path class="pg" d="M1593.4 188.5v0M1593.4 210.3v0M1598.9 215.3v0M1610.1 233.1v0M1615.7 242.1v0M1626.9 183.8v0M1626.9 191.1v0M1626.9 211.2v0M1626.9 218v0M1632.5 214.9v0M1632.5 230.1v0M1632.5 241.1v0M1643.7 199.6v0M1643.7 279.7v0M1649.2 254.4v0M1649.2 262.3v0M1654.8 208.9v0M1654.8 236.3v0M1671.6 238.7v0M1677.2 241.2v0M1677.2 245.8v0M1682.8 238.3V240.8M1682.8 250.6v0M1682.8 274.6v0M1688.4 202.8v0M1688.4 232.2v0M1688.4 238.6v0M1688.4 256.4v0M1694 203.9v0M1694 224v0M1694 227.6V229.6M1694 235.2v0M1694 244.6v0M1694 248.6v0M1694 251.9v0M1694 270.8v0M1694 285.7v0M1699.6 207.6v0M1699.6 226.6v0M1699.6 233.9v0M1699.6 240.8v0M1699.6 245.5v0M1705.2 211.5v0M1705.2 215.2v0M1705.2 228.3v0M1705.2 238.6V240.2M1705.2 243.6v0M1705.2 259.3v0M1705.2 272V272.9M1705.2 290.3v0M1710.7 207.8v0M1710.7 213.2v0M1710.7 221.3v0M1710.7 229.8v0M1710.7 238.2v0M1710.7 241.5v0M1710.7 256.7v0M1710.7 260.7v0M1716.3 180.9V181.5M1716.3 197.4v0M1716.3 201.7v0M1716.3 205.7v0M1716.3 210V213.9M1716.3 219.3v0M1716.3 224.8V225.6M1716.3 233.6V234.7M1716.3 255.2V258.4M1716.3 272.2v0M1716.3 288.6v0M1721.9 166.9v0M1721.9 188.7V189.2M1721.9 195.4v0M1721.9 203.2V204.8M1721.9 210V215.7M1721.9 220.4v0M1721.9 225.2V228.4M1721.9 235.3V241.4M1721.9 245.9v0M1721.9 254.8V255.8M1721.9 260v0M1721.9 263.8v0M1721.9 268.3V273.2M1721.9 280.4v0M1721.9 284.1v0M1721.9 287.8V289.8M1721.9 299.9v0M1727.5 181.3v0M1727.5 192.7v0M1727.5 199.8v0M1727.5 206.1V207.2M1727.5 217.9V220M1727.5 224V227.1M1727.5 233.9V240.5M1727.5 247.7V256.1M1727.5 260.7V271.4M1727.5 276.5v0M1727.5 281.4V282.9M1727.5 295.5v0M1727.5 313.7V314.2M1733.1 196.5V198.9M1733.1 204.5V206.2M1733.1 215.8V218.9M1733.1 229.7V235.5M1733.1 245.2V254.6M1733.1 261.1V266.4M1733.1 276.3V279M1733.1 283.3v0M1733.1 289.1v0M1733.1 332.8v0M1738.7 188.8v0M1738.7 198.9v0M1738.7 202.7v0M1738.7 206.4V213.8M1738.7 218.3v0M1738.7 223.5v0M1738.7 231.5V237.4M1738.7 241.1V245M1738.7 248.1V256M1738.7 261.7V265.9M1738.7 270.8v0M1738.7 275v0M1738.7 279.6V282.3M1738.7 287.1V289.6M1738.7 294.8V295.9M1738.7 300.8V303.2M1738.7 310.7v0M1744.3 163.9v0M1744.3 185.7V187M1744.3 194.6V196.7M1744.3 203.8V216.9M1744.3 220.5V231.7M1744.3 235V241.3M1744.3 247.2V253.8M1744.3 257.7V267.8M1744.3 272.5v0M1744.3 275.7V277.4M1744.3 281.3v0M1744.3 285.5V288.6M1744.3 295.6v0M1744.3 298.7v0M1744.3 306.2v0M1749.9 180.5v0M1749.9 195.9v0M1749.9 200.5v0M1749.9 204.1V206.4M1749.9 209.8V224.9M1749.9 229V239.2M1749.9 243V253.6M1749.9 257.5V265.5M1749.9 270.3V276.6M1749.9 285.6V297.4M1749.9 303.1v0M1749.9 311.4V312.9M1749.9 322.5v0M1755.5 173.4v0M1755.5 182.2v0M1755.5 187.5v0M1755.5 196.2v0M1755.5 199.5v0M1755.5 204.4V227.1M1755.5 230.3V244.1M1755.5 251.1V276.6M1755.5 279.7V283.1M1755.5 286.3V287.9M1755.5 291.1v0M1755.5 296v0M1755.5 307.1v0M1755.5 318.3v0M1755.5 322v0M1761 179.6v0M1761 196.4V200.5M1761 208.6V209.4M1761 212.8v0M1761 216.1V232.5M1761 236.3V236.7M1761 239.9V289M1761 293.7V299.8M1761 304.9V307.5M1761 313.2v0M1761 316.7v0M1766.6 172.2v0M1766.6 190.8v0M1766.6 199.4V202.3M1766.6 205.5v0M1766.6 208.6V209.2M1766.6 213.3V221M1766.6 224V234M1766.6 237.5V249.7M1766.6 255V281.3M1766.6 285.3V287.7M1766.6 290.9V293.1M1766.6 297.5v0M1766.6 301.8V308.7M1766.6 314v0M1766.6 324.4v0M1772.2 162.5v0M1772.2 188.4v0M1772.2 192.5v0M1772.2 196.1V196.7M1772.2 200V207M1772.2 214.3V243.8M1772.2 247.1V252.9M1772.2 256.7V266.3M1772.2 272.6V291M1772.2 295.4V296.8M1772.2 307.8v0M1772.2 311.3v0M1772.2 324.7v0M1777.8 180.5V181.1M1777.8 186.6v0M1777.8 194v0M1777.8 198.9v0M1777.8 202.6v0M1777.8 206.9V212.9M1777.8 217.3V240.1M1777.8 246.1V264.8M1777.8 268.2V284.1M1777.8 287.2V309M1777.8 312.2V312.8M1777.8 319.6v0M1783.4 184.7V186.8M1783.4 195.4v0M1783.4 203.1v0M1783.4 207V242.4M1783.4 245.5V251.1M1783.4 254.6V267M1783.4 270.1V270.6M1783.4 273.9V293.4M1783.4 297.1V304M1783.4 309.2V310.9M1783.4 316.6v0M1783.4 320.8v0M1783.4 328.6v0M1783.4 358.7v0M1789 168.2v0M1789 181.6v0M1789 187.3V189.1M1789 195.1v0M1789 198.6V200.6M1789 206.1V208.8M1789 214.6V225.6M1789 228.8V234.1M1789 237.2V255.5M1789 259.4V287.1M1789 292.5v0M1789 297.5V298.8M1789 302.5v0M1789 305.7V308.2M1789 312.5V313.2M1789 320.7V323M1789 327v0M1794.6 174.3v0M1794.6 197.1V201.2M1794.6 204.9v0M1794.6 210.6V213.4M1794.6 217.2V232.6M1794.6 236.3V277.1M1794.6 280.9V291.6M1794.6 298.4v0M1794.6 304.9V308M1794.6 311.4v0M1794.6 324.1v0M1794.6 329.3v0M1800.2 195.3v0M1800.2 200V202.1M1800.2 205.7V207.1M1800.2 213.1V255.3M1800.2 259.8V277.2M1800.2 280.4V294.3M1800.2 302.6v0M1800.2 306.2V309.8M1800.2 313.1V314.9M1800.2 319V321.4M1800.2 327.2V327.6M1805.8 181.6v0M1805.8 186.7V189.3M1805.8 202.6v0M1805.8 208.3V221.6M1805.8 226.2v0M1805.8 231.8V237.8M1805.8 241V253.5M1805.8 256.7V299.3M1805.8 303.9V305.8M1805.8 310V311.2M1805.8 316.6v0M1805.8 329.6V332.3M1805.8 363.7v0M1811.4 190.5v0M1811.4 195.1v0M1811.4 200.1V203.7M1811.4 208V217.8M1811.4 222.7V240.4M1811.4 244.7V271.7M1811.4 275.2V295.9M1811.4 299.5V306.5M1811.4 309.5V315.5M1811.4 318.9V320.9M1811.4 328.1v0M1811.4 332.2v0M1811.4 366.4v0M1817 180.8v0M1817 185.7v0M1817 202.7v0M1817 206v0M1817 211.2V213.7M1817 222.5V248M1817 252.6V287.4M1817 293.1V298.9M1817 302.7V316.2M1822.5 159.9v0M1822.5 186v0M1822.5 195.4v0M1822.5 203.4v0M1822.5 206.5V213.7M1822.5 216.8V241M1822.5 244V305.4M1822.5 308.5v0M1822.5 312.6V314.3M1822.5 318.3V321M1828.1 176.4v0M1828.1 192.8V195.7M1828.1 201.1V203.3M1828.1 206.5V308.1M1828.1 311.4V317.2M1828.1 320.6V322.9M1828.1 349.2v0M1833.7 169.5V170.1M1833.7 182.4v0M1833.7 193v0M1833.7 201.4v0M1833.7 209.6V266.4M1833.7 269.6V306.1M1833.7 311V317.2M1833.7 326v0M1833.7 331.6v0M1839.3 191.5v0M1839.3 198.1V202.1M1839.3 207.9v0M1839.3 211.4V225.8M1839.3 229V229.5M1839.3 232.8V315.6M1839.3 318.8v0M1839.3 322.5V323.9M1844.9 190.8v0M1844.9 195.3v0M1844.9 201.3v0M1844.9 205.6v0M1844.9 209v0M1844.9 212.8V213.2M1844.9 218.1V219.6M1844.9 223.4V241.2M1844.9 244.6V289.9M1844.9 293.8V323.2M1844.9 333.1V334.7M1850.5 203.2V204.6M1850.5 211V235.9M1850.5 239.6V316.1M1850.5 321.5V322.1M1850.5 325.2V325.8M1850.5 331.5v0M1856.1 190.7V193.4M1856.1 200.3v0M1856.1 208.2v0M1856.1 213.8V217M1856.1 221.1v0M1856.1 226.5V228M1856.1 233.5V243.2M1856.1 247.1V271.6M1856.1 275.7v0M1856.1 279V299.1M1856.1 302.6V304.4M1856.1 307.7V315.1M1856.1 321.7v0M1856.1 325.4v0M1856.1 349.6v0M1861.7 189.2v0M1861.7 202.6V205.4M1861.7 209.4V213.5M1861.7 216.7V230.9M1861.7 234.3V236M1861.7 239.2V283.5M1861.7 287.1V315.3M1861.7 318.3V321.2M1861.7 324.6V325.5M1861.7 344v0M1867.3 140.4v0M1867.3 186.7V189.8M1867.3 204.9V212.1M1867.3 218.4V233.8M1867.3 238.2V306.6M1867.3 310v0M1867.3 315V317.7M1867.3 322.2V330.2M1867.3 341.4v0M1872.8 184.1v0M1872.8 188.4v0M1872.8 196.3V199.1M1872.8 212.3v0M1872.8 215.8V221.8M1872.8 225.3V300.2M1872.8 303.2V314.8M1872.8 319.8v0M1872.8 331v0M1872.8 335.8v0M1878.4 180v0M1878.4 195v0M1878.4 201.7v0M1878.4 208.5v0M1878.4 211.7V216M1878.4 219.5V304.6M1878.4 310.6V317.6M1878.4 322.2V324.8M1878.4 332v0M1878.4 339.8v0M1878.4 347v0M1884 178.5v0M1884 195.3v0M1884 208.4V212.1M1884 216.3V237.6M1884 240.6V248.5M1884 251.6V282.2M1884 286.3V311M1884 315V320.1M1884 326.4v0M1884 330.3v0M1884 334.3v0M1884 337.5v0M1889.6 188.3v0M1889.6 204.2V206.6M1889.6 210.8v0M1889.6 215.7V227.9M1889.6 231V284.9M1889.6 288.5V310.3M1889.6 314.5V319.3M1889.6 325.6v0M1889.6 337.5v0M1895.2 184.3v0M1895.2 201.2V202.6M1895.2 208.4V211.7M1895.2 220.5V231.6M1895.2 237.4V239.2M1895.2 242.4V308.6M1895.2 312.2V321.8M1895.2 330.5V332.7M1895.2 337v0M1895.2 348.1v0M1900.8 201.4v0M1900.8 207.1V208.7M1900.8 213.3V215.9M1900.8 219.7V223.5M1900.8 227v0M1900.8 230V234.9M1900.8 238.3V285.1M1900.8 288.6V316.1M1900.8 319.9v0M1900.8 327.5v0M1900.8 331.3v0M1906.4 204.5V207.5M1906.4 211.6v0M1906.4 216.9V233.2M1906.4 236.6v0M1906.4 241.3V241.8M1906.4 245.6V251.6M1906.4 255.2v0M1906.4 259V283.9M1906.4 287.2V317M1906.4 320V321.1M1906.4 328.9V330.3M1906.4 334.4v0M1906.4 337.7v0M1906.4 341.3V342.3M1906.4 358.1v0M1912 199.6v0M1912 209.8v0M1912 213.3V214.2M1912 217.3V226.1M1912 229.4V237.2M1912 240.9v0M1912 244.8V245.3M1912 248.7V265.1M1912 268.3V271.3M1912 275V280.1M1912 283.6V295.5M1912 298.6V303.6M1912 307.9V320.4M1912 323.9v0M1912 330V335.9M1917.6 204.4v0M1917.6 208.3v0M1917.6 221.8V224.3M1917.6 229.6V277.6M1917.6 282.8V314.7M1917.6 318.2V327.9M1917.6 333.1V337.6M1917.6 344.3v0M1917.6 357.5v0M1923.2 185.7v0M1923.2 216.8V223.1M1923.2 226.2v0M1923.2 229.8V230.5M1923.2 234.1V254.8M1923.2 259.2V289.4M1923.2 292.6v0M1923.2 296.7V313.9M1923.2 317V327.3M1923.2 331V332.8M1923.2 341.7v0M1923.2 355.3v0M1928.8 175.1v0M1928.8 208.1v0M1928.8 217.8V218.2M1928.8 222.1V228.7M1928.8 232.4V232.8M1928.8 236.5V250.1M1928.8 254.4V259.4M1928.8 262.5V265.8M1928.8 270.8V271.3M1928.8 274.3V288.5M1928.8 293V293.4M1928.8 297V317.3M1928.8 325v0M1928.8 331V332.7M1928.8 336.1v0M1928.8 341.3v0M1934.3 169v0M1934.3 209.3v0M1934.3 219.5v0M1934.3 225.2V258M1934.3 261.7V294.6M1934.3 299.5V300.9M1934.3 304.1V308.8M1934.3 312.2V320.2M1934.3 323.6v0M1934.3 327.7V331.6M1934.3 335.8V337.2M1934.3 343.5v0M1934.3 346.8v0M1939.9 200.9v0M1939.9 220.5v0M1939.9 230.3V240.6M1939.9 243.7v0M1939.9 250.1v0M1939.9 254V260M1939.9 263.2V264M1939.9 268V271.7M1939.9 277v0M1939.9 283.4V285.8M1939.9 289V295.5M1939.9 299.3v0M1939.9 303.9V304.6M1939.9 308.9v0M1939.9 312.9V315.9M1939.9 319.2v0M1939.9 325.2v0M1939.9 329.4V333.5M1939.9 336.5V339.2M1939.9 348.7v0M1945.5 191.5v0M1945.5 207.5v0M1945.5 213.3v0M1945.5 220.4V223.1M1945.5 227.7v0M1945.5 232v0M1945.5 236.3V237.6M1945.5 241V247.8M1945.5 252.4v0M1945.5 256.5V257.8M1945.5 267.2V269.2M1945.5 273.7v0M1945.5 277.1v0M1945.5 282.9V286.4M1945.5 295v0M1945.5 298.9V308M1945.5 311v0M1945.5 315.8V317.3M1945.5 330.6v0M1945.5 346.4v0M1945.5 359.1v0M1951.1 229.4V230.5M1951.1 233.9V236.4M1951.1 242.6V245M1951.1 249.8V254.6M1951.1 258v0M1951.1 261.9V263.1M1951.1 266.2V268.9M1951.1 276.9V284.3M1951.1 291.9V292.8M1951.1 297.3v0M1951.1 301.2V306.1M1951.1 312.1V313.6M1951.1 334.6v0M1951.1 347.8v0M1956.7 254.4v0M1956.7 269.8V270.1M1956.7 273.8v0M1956.7 283.9v0M1956.7 287.5V290.5M1956.7 298.9V305M1956.7 309.4V311.5M1956.7 319.4v0M1956.7 329.7v0M1962.3 235.7v0M1962.3 250.6v0M1962.3 254.7v0M1962.3 269.8v0M1962.3 278.2V280M1962.3 286.1v0M1962.3 292V294.7M1962.3 302.7v0M1962.3 317.6v0M1967.9 253.4v0M1967.9 264.5v0M1967.9 270.9v0M1967.9 278.4V279.6M1967.9 296.7v0M1967.9 300v0M1967.9 307v0M1967.9 314.7v0M1967.9 320.2v0M1967.9 325.6v0M1973.5 270.9v0M1973.5 292.9v0M1973.5 305.2v0M1979.1 303.7v0"/>
<path class="pb" d="M1738.7 169.5v0M1738.7 236.7v0M1749.9 279.8v0M1755.5 190v0M1755.5 243v0M1755.5 260.2v0M1766.6 212.2v0M1772.2 217.2v0M1772.2 231.7v0M1772.2 255.5v0M1783.4 196.5v0M1789 250.3v0M1789 254.1v0M1794.6 249.3v0M1800.2 279.6v0M1800.2 291.3v0M1805.8 282.4v0M1828.1 188.8v0M1828.1 245.3V248M1833.7 203.4v0M1833.7 218v0M1839.3 216.1v0M1839.3 256.7v0M1839.3 267.5v0M1839.3 284.2V285.1M1844.9 253.4v0M1850.5 233.5v0M1850.5 268.7v0M1856.1 207.3V209.6M1856.1 213.9v0M1856.1 292.9v0M1861.7 216.2v0M1861.7 240.8v0M1867.3 222.5v0M1867.3 278.5v0M1872.8 192.8v0M1872.8 240.3v0M1872.8 286.7v0M1872.8 298.1v0M1878.4 283.2v0M1878.4 288.2v0M1884 247v0M1884 274.3v0M1884 290.4v0M1900.8 294.9v0M1906.4 276.3v0M1912 257.1v0M1917.6 247v0M1928.8 230.5v0M1928.8 295v0"/>
<path class="pg" d="M1610.1 206.6v0M1610.1 220.6v0M1610.1 222v0M1615.7 212.5v0M1626.9 239.6v0M1632.5 231.4v0M1643.7 210.5v0M1643.7 225.3v0M1643.7 266.3v0M1666 236.6v0M1671.6 249.5v0M1671.6 260.4v0M1677.2 251.6v0M1682.8 184.7v0M1682.8 258.4v0M1694 268.2v0M1694 286.7v0M1699.6 214.4v0M1699.6 264v0M1699.6 268.1v0M1705.2 206.1v0M1705.2 207.3V207.8M1705.2 224.7v0M1705.2 232.4v0M1705.2 254.6v0M1705.2 260.2v0M1705.2 265.1v0M1716.3 218.1v0M1716.3 249.7V250.1M1716.3 252.9v0M1716.3 264.5v0M1716.3 329.4v0M1721.9 205.7v0M1721.9 214.7v0M1721.9 224.2V225M1721.9 227.6v0M1721.9 243.8v0M1721.9 245.6V246.1M1721.9 248.8v0M1721.9 279.6v0M1721.9 287.1v0M1727.5 162.2v0M1727.5 209.2v0M1727.5 231.1v0M1727.5 253.2V254M1727.5 258.6v0M1727.5 275.8v0M1733.1 203.3v0M1733.1 219.8v0M1733.1 222.5v0M1733.1 232.5v0M1733.1 237.5v0M1733.1 253.8v0M1733.1 259.7v0M1733.1 260.8v0M1733.1 269.3v0M1733.1 276.8v0M1733.1 297.9v0M1738.7 198.1v0M1738.7 216.2v0M1738.7 217.4v0M1738.7 222.5v0M1738.7 225.4v0M1738.7 232.6v0M1738.7 237.6v0M1738.7 240.2v0M1738.7 252.2v0M1738.7 294.1v0M1738.7 298.1v0M1738.7 304.3v0M1744.3 173.4v0M1744.3 197.2v0M1744.3 199.9v0M1744.3 203.7v0M1744.3 218v0M1744.3 243.8v0M1744.3 246.8v0M1744.3 255.1v0M1744.3 259v0M1744.3 261.9v0M1744.3 264.8v0M1744.3 267.1v0M1744.3 279.3V280.1M1744.3 286.5v0M1744.3 290.6v0M1749.9 215v0M1749.9 223.4v0M1749.9 229.3V229.8M1749.9 237.4v0M1749.9 241.7v0M1749.9 242.7v0M1749.9 244.2v0M1749.9 252.2V253M1749.9 255v0M1749.9 259.7v0M1749.9 260.8v0M1749.9 264.3v0M1749.9 283.7v0M1749.9 293v0M1749.9 297.4v0M1755.5 186.5v0M1755.5 202.5v0M1755.5 203.8v0M1755.5 208.9v0M1755.5 216.8v0M1755.5 220.2v0M1755.5 221.4v0M1755.5 226.2v0M1755.5 232.1v0M1755.5 234.8v0M1755.5 242.5v0M1755.5 244.3v0M1755.5 245.6v0M1755.5 251.2v0M1755.5 253.5V254M1755.5 265.3v0M1755.5 267.1V267.7M1755.5 275.6v0M1755.5 280v0M1755.5 283.3v0M1755.5 312.1v0M1761 216.5v0M1761 224.3v0M1761 226.4v0M1761 229.9v0M1761 233.6v0M1761 237.8v0M1761 242v0M1761 243.4v0M1761 247.7v0M1761 251.4v0M1761 264.4v0M1761 267.7v0M1761 271.7v0M1761 286.6v0M1761 297.1v0M1761 298.3v0M1761 303.8v0M1766.6 188v0M1766.6 207.4V207.8M1766.6 214.9v0M1766.6 219.9v0M1766.6 226.9v0M1766.6 229v0M1766.6 237.2v0M1766.6 239.7v0M1766.6 240.7v0M1766.6 241.8V243.6M1766.6 246.3v0M1766.6 256.1v0M1766.6 261.9v0M1766.6 265.3v0M1766.6 269.5v0M1766.6 272.2v0M1766.6 275.9V276.9M1766.6 277.9v0M1766.6 283v0M1766.6 285v0M1766.6 299.5v0M1766.6 300.6v0M1772.2 183.6v0M1772.2 201.2v0M1772.2 206v0M1772.2 209.3v0M1772.2 210.3v0M1772.2 212.7v0M1772.2 216.5V216.9M1772.2 231v0M1772.2 233.9v0M1772.2 237.6v0M1772.2 240.1v0M1772.2 244.4v0M1772.2 245.5v0M1772.2 247.9v0M1772.2 249.2V250M1772.2 256.3v0M1772.2 262.6v0M1772.2 263.7v0M1772.2 265.7v0M1772.2 269.4v0M1772.2 275.5v0M1772.2 283.7V285M1772.2 288.3V289M1772.2 307.1v0M1777.8 194.3v0M1777.8 196.4v0M1777.8 206.4v0M1777.8 208.2v0M1777.8 222.6V223.4M1777.8 227v0M1777.8 230.2v0M1777.8 233.4v0M1777.8 235.1v0M1777.8 236.2v0M1777.8 237.8v0M1777.8 240.4V240.9M1777.8 246v0M1777.8 247.4V248.5M1777.8 254v0M1777.8 257.1v0M1777.8 259.3V259.8M1777.8 261.4v0M1777.8 262.5V263.2M1777.8 266.4v0M1777.8 267.7v0M1777.8 271.8v0M1777.8 274.3V275.2M1777.8 277.1v0M1777.8 281.4v0M1777.8 285.4v0M1777.8 295V295.4M1777.8 296.9v0M1777.8 301v0M1783.4 183.9v0M1783.4 198.4v0M1783.4 202.1v0M1783.4 215.5v0M1783.4 218.4V219.5M1783.4 224.2v0M1783.4 233.7v0M1783.4 236v0M1783.4 237.5V238.4M1783.4 247.2v0M1783.4 251.4v0M1783.4 253.3v0M1783.4 257v0M1783.4 261.9v0M1783.4 265.1v0M1783.4 267v0M1783.4 271.3v0M1783.4 273.5v0M1783.4 278.2v0M1783.4 279.4v0M1783.4 283.3v0M1783.4 285.8v0M1783.4 289v0M1783.4 298v0M1783.4 299.1v0M1783.4 306.4v0M1789 200v0M1789 211.8V212.1M1789 221.1v0M1789 223.4V224.8M1789 225.9v0M1789 228.9v0M1789 231.6v0M1789 234.3V234.7M1789 235.9V237M1789 248v0M1789 251.4v0M1789 252.5v0M1789 254.5V255.2M1789 258v0M1789 263.2V263.8M1789 264.8v0M1789 268.4V268.8M1789 277.5v0M1789 281.1v0M1789 284.5v0M1789 287.1v0M1789 289.3v0M1789 290.4v0M1789 293.2v0M1789 301.1v0M1789 308.6v0M1789 333.2v0M1794.6 186.4v0M1794.6 195.5v0M1794.6 204.6v0M1794.6 215.7v0M1794.6 217.8v0M1794.6 221.4v0M1794.6 223.2v0M1794.6 224.7V226M1794.6 229.6v0M1794.6 233.7v0M1794.6 236.9v0M1794.6 239v0M1794.6 242V242.8M1794.6 249.1V249.5M1794.6 251.3V251.9M1794.6 255.7v0M1794.6 258.3V259.1M1794.6 260.7v0M1794.6 264.5v0M1794.6 270.9v0M1794.6 272.8V274.8M1794.6 276.7v0M1794.6 278.1v0M1794.6 279.5V281.6M1794.6 285.7v0M1794.6 287.7v0M1794.6 290.9v0M1794.6 293.4v0M1794.6 301.7V302.5M1794.6 305.1V306M1794.6 316.8v0M1794.6 324.3v0M1800.2 180.5v0M1800.2 189.5v0M1800.2 192.6v0M1800.2 218.1v0M1800.2 224.1V224.8M1800.2 232.2V232.6M1800.2 235.8v0M1800.2 238v0M1800.2 245.3V245.7M1800.2 248.4v0M1800.2 250.5v0M1800.2 254.4v0M1800.2 255.8V256.9M1800.2 263v0M1800.2 266.9v0M1800.2 268.9v0M1800.2 273.6v0M1800.2 285.5v0M1800.2 287v0M1800.2 288.2v0M1800.2 292.1v0M1800.2 294.8v0M1800.2 299.4v0M1800.2 300.7v0M1800.2 305.7v0M1800.2 332.2v0M1805.8 211.5v0M1805.8 213v0M1805.8 222.9V224.6M1805.8 229.3v0M1805.8 230.6v0M1805.8 232.5v0M1805.8 238.4v0M1805.8 241v0M1805.8 242.4v0M1805.8 244.6V245.2M1805.8 246.6v0M1805.8 249.9v0M1805.8 253.9V254.8M1805.8 256.6V257.2M1805.8 265.3v0M1805.8 268.6V269.6M1805.8 272.6v0M1805.8 279.2v0M1805.8 288.8v0M1805.8 292.5v0M1805.8 295.7v0M1805.8 299.2v0M1805.8 300.9v0M1805.8 308.2v0M1805.8 310.2v0M1805.8 312.7v0M1805.8 331.6v0M1811.4 164.1v0M1811.4 212.8v0M1811.4 216.1v0M1811.4 218.8v0M1811.4 224.5v0M1811.4 227.1v0M1811.4 228.9v0M1811.4 230.6v0M1811.4 232.5V233.4M1811.4 236.6v0M1811.4 242.4V244.1M1811.4 249.9v0M1811.4 251.8v0M1811.4 253.5v0M1811.4 254.7v0M1811.4 258.3v0M1811.4 261.5V262.5M1811.4 272.3v0M1811.4 276V279.1M1811.4 280.6v0M1811.4 281.7v0M1811.4 284.9V285.4M1811.4 293.4V293.8M1811.4 295.2v0M1811.4 301.2V302.7M1811.4 304.5v0M1811.4 317.6v0M1811.4 331.2v0M1811.4 332.5v0M1817 183.2v0M1817 215.8V216.6M1817 222.9v0M1817 223.9v0M1817 226.3V226.9M1817 229.3v0M1817 233v0M1817 236.6v0M1817 240.3v0M1817 250.7V251.6M1817 253.1v0M1817 257.2V257.9M1817 261.9v0M1817 267v0M1817 268.1V269.7M1817 281.6v0M1817 294.7v0M1817 296.5v0M1817 301.7v0M1817 307.4v0M1817 309.2v0M1817 313.5v0M1817 333.3v0M1822.5 186.4V187.3M1822.5 206.3v0M1822.5 208.3v0M1822.5 213.6V214.3M1822.5 220.4v0M1822.5 224.1v0M1822.5 226.2v0M1822.5 228.9v0M1822.5 231.7v0M1822.5 234.4V234.9M1822.5 250.3v0M1822.5 256v0M1822.5 257.5v0M1822.5 258.7v0M1822.5 263.2v0M1822.5 265.6v0M1822.5 267.7v0M1822.5 272.2v0M1822.5 274.4V275.5M1822.5 280V281M1822.5 285.1v0M1822.5 287.5v0M1822.5 289.5V290.1M1822.5 291.8v0M1822.5 293.6v0M1822.5 296.2v0M1822.5 297.8v0M1822.5 300.6v0M1822.5 303.4V304.3M1822.5 306.4V307.1M1822.5 309v0M1828.1 199.1v0M1828.1 204.2v0M1828.1 209.6v0M1828.1 213.9v0M1828.1 215.7v0M1828.1 216.8v0M1828.1 218.8V219.5M1828.1 225.6V227.5M1828.1 228.6V229.9M1828.1 238v0M1828.1 239.3v0M1828.1 240.8v0M1828.1 244.5v0M1828.1 246.4v0M1828.1 250.2V251.3M1828.1 253.1V254.1M1828.1 255.7V257.4M1828.1 261.5V261.9M1828.1 263.7v0M1828.1 266.2v0M1828.1 267.8v0M1828.1 271.5v0M1828.1 272.6v0M1828.1 275.2v0M1828.1 278v0M1828.1 280.3V281M1828.1 283.4V283.8M1828.1 289.6v0M1828.1 303.2v0M1828.1 310.9v0M1828.1 323.4v0M1833.7 160.3v0M1833.7 209v0M1833.7 218.6v0M1833.7 220v0M1833.7 227.1V227.9M1833.7 229.1v0M1833.7 230.1v0M1833.7 234v0M1833.7 236V236.5M1833.7 237.7v0M1833.7 240.4v0M1833.7 241.5V241.9M1833.7 244.9V245.8M1833.7 249.5V249.9M1833.7 252.6V253.3M1833.7 257.8v0M1833.7 261v0M1833.7 265.8V266.8M1833.7 268.2v0M1833.7 270.7V272M1833.7 274.3v0M1833.7 276.3v0M1833.7 277.6V279M1833.7 281.5v0M1833.7 283.4v0M1833.7 285.9v0M1833.7 290.9v0M1833.7 292.1v0M1833.7 294.4V295M1833.7 301.6v0M1833.7 310.5v0M1833.7 320.6v0M1833.7 329.1v0M1839.3 200.8V201.4M1839.3 207.2V207.8M1839.3 215.6v0M1839.3 217.4v0M1839.3 224.9v0M1839.3 226.1v0M1839.3 230.9v0M1839.3 232.3v0M1839.3 241.3v0M1839.3 242.9v0M1839.3 247.4v0M1839.3 248.6v0M1839.3 253.2v0M1839.3 256V256.6M1839.3 259v0M1839.3 264.4v0M1839.3 269.7V270.6M1839.3 280.7v0M1839.3 281.7v0M1839.3 287.2v0M1839.3 289.1v0M1839.3 291.8V292.2M1839.3 295.7v0M1839.3 299.1v0M1839.3 311.5v0M1839.3 313.3v0M1839.3 319.5v0M1839.3 322v0M1839.3 333.7v0M1844.9 206.2v0M1844.9 214.7v0M1844.9 219v0M1844.9 225.2v0M1844.9 228.4v0M1844.9 229.5v0M1844.9 230.9v0M1844.9 231.9V232.4M1844.9 237.4v0M1844.9 240.8V242M1844.9 245.7v0M1844.9 246.8V248.6M1844.9 250.6v0M1844.9 252v0M1844.9 256.4V256.8M1844.9 259v0M1844.9 260.6v0M1844.9 266.2V266.8M1844.9 270.9V271.9M1844.9 274.9V276.6M1844.9 277.7V278.5M1844.9 280.2v0M1844.9 286.7V287M1844.9 290.3V290.9M1844.9 295.5v0M1844.9 296.5V297.7M1844.9 299.1v0M1844.9 301v0M1844.9 304.9v0M1844.9 306V306.5M1844.9 312.1v0M1844.9 314v0M1844.9 319v0M1844.9 321.3v0M1844.9 323.1V323.9M1850.5 158.5v0M1850.5 190.5v0M1850.5 202.3v0M1850.5 206.1v0M1850.5 209.7v0M1850.5 211.2v0M1850.5 217v0M1850.5 219.1v0M1850.5 220.6V221.2M1850.5 223.3V224.3M1850.5 230.4v0M1850.5 238.7v0M1850.5 242.4V243M1850.5 245.7v0M1850.5 249v0M1850.5 252.2v0M1850.5 254v0M1850.5 260.5V260.9M1850.5 262.1v0M1850.5 265.8v0M1850.5 268V268.3M1850.5 279.5V280.8M1850.5 283.8v0M1850.5 288.6V289.3M1850.5 290.6v0M1850.5 292.5v0M1850.5 294.5v0M1850.5 296.2V296.8M1850.5 297.9V298.5M1850.5 300.2v0M1850.5 311.5v0M1850.5 312.6V313.3M1850.5 328.1v0M1856.1 181.8v0M1856.1 194.4v0M1856.1 196.7v0M1856.1 198.5v0M1856.1 212.4v0M1856.1 213.6v0M1856.1 224.9v0M1856.1 226.9v0M1856.1 232.8v0M1856.1 235.2v0M1856.1 237.7v0M1856.1 240.5v0M1856.1 243.4v0M1856.1 245v0M1856.1 247.2V247.7M1856.1 250.4V250.9M1856.1 253.9v0M1856.1 255.4V255.8M1856.1 258.7v0M1856.1 260.2V261.4M1856.1 263.1v0M1856.1 265.2v0M1856.1 268.1v0M1856.1 269.1v0M1856.1 271.9V272.4M1856.1 273.6V274.5M1856.1 280.5V281.1M1856.1 284.6v0M1856.1 287.4v0M1856.1 288.8V289.4M1856.1 291.7V292.3M1856.1 295.2V296M1856.1 304.4v0M1856.1 311.7v0M1856.1 329.3v0M1856.1 333.8v0M1856.1 368.6v0M1861.7 187v0M1861.7 190v0M1861.7 213.1V213.6M1861.7 219.1v0M1861.7 227.6v0M1861.7 228.9v0M1861.7 231v0M1861.7 233.3v0M1861.7 237.4V238.1M1861.7 239.3v0M1861.7 242.6v0M1861.7 247.7V248.7M1861.7 250.1v0M1861.7 252.1v0M1861.7 261.5v0M1861.7 263.2v0M1861.7 265.6v0M1861.7 266.7v0M1861.7 271.7v0M1861.7 274.6v0M1861.7 282.8V283.3M1861.7 289.4v0M1861.7 302.1v0M1861.7 303.3v0M1861.7 306.3v0M1861.7 312v0M1861.7 316.8V317.6M1861.7 320.1v0M1867.3 203.1v0M1867.3 209.6v0M1867.3 224.4v0M1867.3 226v0M1867.3 231.2V232.1M1867.3 233.2v0M1867.3 239.6v0M1867.3 244.8v0M1867.3 250v0M1867.3 255.7v0M1867.3 257.8V258.9M1867.3 262.5V263.7M1867.3 265.5v0M1867.3 266.5V267.6M1867.3 271.7V272.6M1867.3 274.4v0M1867.3 275.8V276.6M1867.3 279.1v0M1867.3 282.3V283.1M1867.3 285.9V286.6M1867.3 288V288.3M1867.3 290.3V290.9M1867.3 293.6v0M1867.3 296.3v0M1867.3 302.8v0M1867.3 304.2v0M1867.3 307.7v0M1867.3 320.1v0M1867.3 323.4v0M1867.3 330.4v0M1867.3 332.1v0M1867.3 336.8v0M1872.8 214.1v0M1872.8 221.7v0M1872.8 226.2v0M1872.8 228.9v0M1872.8 230.8v0M1872.8 233v0M1872.8 240.4V241.3M1872.8 244.7V245.1M1872.8 248.4v0M1872.8 254.1v0M1872.8 255.1v0M1872.8 256.4v0M1872.8 258.2V258.7M1872.8 262v0M1872.8 263.7V264.7M1872.8 266.8v0M1872.8 270.9v0M1872.8 273.4V274.1M1872.8 277.1v0M1872.8 278.8v0M1872.8 280v0M1872.8 281.8V282.7M1872.8 283.8v0M1872.8 285V285.3M1872.8 290.2v0M1872.8 293.1V293.7M1872.8 295.1v0M1872.8 297.3v0M1872.8 299.6v0M1872.8 308.1v0M1872.8 309.7v0M1872.8 319.5v0M1872.8 329.3V329.9M1878.4 185.7v0M1878.4 210.8v0M1878.4 220.6v0M1878.4 223.5v0M1878.4 225.3v0M1878.4 232v0M1878.4 233.1v0M1878.4 234.7v0M1878.4 240.6v0M1878.4 245.2v0M1878.4 247.6V248.3M1878.4 250.1v0M1878.4 252.2v0M1878.4 254.9v0M1878.4 258v0M1878.4 259.8v0M1878.4 261.8v0M1878.4 263.5v0M1878.4 267.1v0M1878.4 268.9v0M1878.4 271v0M1878.4 273.1v0M1878.4 276.2v0M1878.4 281.4v0M1878.4 285.2v0M1878.4 286.2v0M1878.4 288.9v0M1878.4 292.8v0M1878.4 294.1v0M1878.4 297.2v0M1878.4 301.1V301.8M1878.4 304.9v0M1878.4 309.7v0M1878.4 321.6v0M1884 208.3v0M1884 218.3v0M1884 228.6v0M1884 231.5V232.4M1884 233.7v0M1884 236.7v0M1884 247.7v0M1884 249.2v0M1884 252.6v0M1884 254.5v0M1884 259v0M1884 266v0M1884 269.1v0M1884 273.5v0M1884 280.9v0M1884 283.6V284.5M1884 287.3V287.9M1884 294.3v0M1884 300.3v0M1884 305.3v0M1884 310.8v0M1884 311.8v0M1884 313.4v0M1884 314.9V315.3M1884 319v0M1884 330.1v0M1884 332.3v0M1889.6 219.6v0M1889.6 222.6v0M1889.6 228.4V229.7M1889.6 231.5v0M1889.6 233.2v0M1889.6 243v0M1889.6 246.5V247.6M1889.6 249v0M1889.6 252.7v0M1889.6 254.3V255M1889.6 258.2V258.9M1889.6 261.4V262.4M1889.6 264.6v0M1889.6 266.5v0M1889.6 268.5V269.1M1889.6 271v0M1889.6 273.7V274.7M1889.6 276V276.4M1889.6 280v0M1889.6 282.3v0M1889.6 283.4v0M1889.6 286.2v0M1889.6 287.2v0M1889.6 288.3v0M1889.6 290.9v0M1889.6 297.1v0M1889.6 299.9v0M1889.6 304.1v0M1889.6 305.8V306.8M1889.6 308.5v0M1889.6 310V310.9M1889.6 320.2v0M1889.6 344.8v0M1895.2 194.4v0M1895.2 210.4v0M1895.2 217v0M1895.2 221v0M1895.2 223.9v0M1895.2 227.2v0M1895.2 231.7v0M1895.2 234v0M1895.2 235.7V236.8M1895.2 246.6v0M1895.2 249.2v0M1895.2 252.8v0M1895.2 255.8V258.9M1895.2 260.9v0M1895.2 265.3v0M1895.2 267.7v0M1895.2 270.2v0M1895.2 273.4v0M1895.2 279.2V280.2M1895.2 281.7v0M1895.2 284.2v0M1895.2 287.8v0M1895.2 290.3v0M1895.2 293.4v0M1895.2 294.8v0M1895.2 297.9v0M1895.2 300.2v0M1895.2 301.5v0M1895.2 313.3v0M1895.2 315.6v0M1895.2 318.1v0M1895.2 322.2v0M1895.2 323.4v0M1895.2 326.4v0M1895.2 340.9v0M1895.2 371.1v0M1900.8 208.4v0M1900.8 216.7v0M1900.8 230.1v0M1900.8 231.5v0M1900.8 233.5v0M1900.8 234.8V235.4M1900.8 238.6v0M1900.8 240v0M1900.8 243.3V244.2M1900.8 246.2v0M1900.8 248.3v0M1900.8 250.8V251.4M1900.8 252.5v0M1900.8 253.7v0M1900.8 257.1v0M1900.8 260.3V261.5M1900.8 262.7v0M1900.8 267.4v0M1900.8 270.5v0M1900.8 273.7V274.6M1900.8 278.8v0M1900.8 280.2V281.1M1900.8 287.4V288.6M1900.8 289.8v0M1900.8 291.9v0M1900.8 294.3v0M1900.8 295.5v0M1900.8 297.7v0M1900.8 299.6v0M1900.8 300.7V302.6M1900.8 306.1V307.4M1900.8 314.1v0M1900.8 321.4v0M1900.8 328.4v0M1900.8 329.5v0M1900.8 347.1v0M1906.4 216.3V216.7M1906.4 223.7v0M1906.4 224.8v0M1906.4 230.7v0M1906.4 236.6v0M1906.4 238v0M1906.4 239.9v0M1906.4 243.1v0M1906.4 249.9v0M1906.4 253.1v0M1906.4 260.6v0M1906.4 261.8v0M1906.4 264.4v0M1906.4 269.1v0M1906.4 270.3v0M1906.4 271.6v0M1906.4 276.1V276.9M1906.4 283.2V283.6M1906.4 285.9v0M1906.4 287.3v0M1906.4 295.5v0M1906.4 298.8v0M1906.4 300.7v0M1906.4 302.3v0M1906.4 306.3v0M1906.4 308.4V309.4M1906.4 311.9v0M1906.4 313.2v0M1906.4 318.7v0M1906.4 319.9v0M1906.4 330.1v0M1906.4 337.4v0M1912 181.8v0M1912 208.7v0M1912 213.3v0M1912 220v0M1912 225.5v0M1912 237.9v0M1912 239.2v0M1912 247.9v0M1912 249.2V249.7M1912 250.9V252.9M1912 255.6v0M1912 258.2v0M1912 259.8v0M1912 264.4v0M1912 266.1V266.8M1912 269.1v0M1912 271.5v0M1912 272.7V273.4M1912 276.3V276.7M1912 281.8v0M1912 284.6v0M1912 289.8v0M1912 290.9V291.8M1912 298.8V299.5M1912 308v0M1912 310.3V311.9M1912 320.3v0M1912 323.8v0M1917.6 220.1V220.6M1917.6 224.1v0M1917.6 231.6v0M1917.6 248.3v0M1917.6 250.9v0M1917.6 252.2V252.6M1917.6 254.8V256.2M1917.6 257.3v0M1917.6 260v0M1917.6 270.3v0M1917.6 271.8v0M1917.6 277.9v0M1917.6 280V281.7M1917.6 284.5v0M1917.6 285.6v0M1917.6 287.2v0M1917.6 295.2v0M1917.6 296.5v0M1917.6 298v0M1917.6 303V303.3M1917.6 307.5v0M1917.6 309.7v0M1917.6 316.9v0M1917.6 318.9v0M1917.6 321v0M1917.6 322.5v0M1917.6 324.8v0M1917.6 331v0M1923.2 216.9v0M1923.2 222.6v0M1923.2 232v0M1923.2 235.9v0M1923.2 237v0M1923.2 243.7v0M1923.2 248.9v0M1923.2 254.8V255.1M1923.2 256.8v0M1923.2 263.2V264.1M1923.2 265.1v0M1923.2 267.6v0M1923.2 271v0M1923.2 272.8v0M1923.2 275.6v0M1923.2 277.1v0M1923.2 279.9v0M1923.2 281.1v0M1923.2 284.5v0M1923.2 290.2V291.2M1923.2 298.1V298.5M1923.2 299.7V300.1M1923.2 304.1V306.1M1923.2 308.9v0M1923.2 310.3V312.8M1923.2 316.1v0M1923.2 328.5v0M1923.2 338.4v0M1928.8 217v0M1928.8 226.7v0M1928.8 231.9V232.4M1928.8 234.8v0M1928.8 240.7v0M1928.8 244.3v0M1928.8 248v0M1928.8 255.9v0M1928.8 257.1v0M1928.8 268.3v0M1928.8 269.9v0M1928.8 272.2v0M1928.8 273.4v0M1928.8 285.8v0M1928.8 286.9v0M1928.8 288.2v0M1928.8 295.3v0M1928.8 299.9v0M1928.8 301.1v0M1928.8 314.5v0M1928.8 324.7v0M1928.8 325.8v0M1928.8 333.8v0M1928.8 338.5v0M1928.8 357.1v0M1934.3 214.1v0M1934.3 233.2V233.8M1934.3 249.7v0M1934.3 256.1v0M1934.3 257.4v0M1934.3 265.7v0M1934.3 273.5V275.2M1934.3 277.5v0M1934.3 280.7v0M1934.3 286.6v0M1934.3 294.5v0M1934.3 301.8V302.9M1934.3 304.1V305M1934.3 324.7V325.2M1934.3 329.2v0M1934.3 333.2v0M1934.3 334.5v0M1939.9 221.7v0M1939.9 252V252.5M1939.9 255.8v0M1939.9 262.9v0M1939.9 265.3v0M1939.9 266.9v0M1939.9 279.7v0M1939.9 281v0M1939.9 286.9v0M1939.9 294.9v0M1939.9 297.6V298.2M1939.9 299.5v0M1939.9 302.5v0M1939.9 311.4v0M1939.9 320v0M1939.9 323.6v0M1939.9 346v0M1945.5 210.4v0M1945.5 225.5v0M1945.5 237.6v0M1945.5 242.2v0M1945.5 246.8v0M1945.5 252.9v0M1945.5 257.7v0M1945.5 262.7v0M1945.5 268.4v0M1945.5 281v0M1945.5 289.1v0M1945.5 292.6v0M1945.5 297v0M1945.5 298.9v0M1945.5 311.5v0M1945.5 317.1v0M1945.5 318.9v0M1945.5 321.6v0M1945.5 328.6v0M1951.1 227.2v0M1951.1 237.4v0M1951.1 257v0M1951.1 270.8v0M1951.1 282.5v0M1951.1 288.4v0M1951.1 316.9v0M1951.1 332.8v0M1956.7 237.5v0M1956.7 247v0M1956.7 248v0M1956.7 286.2v0M1956.7 296.8v0M1956.7 304.4v0M1962.3 266.7v0M1962.3 271.2v0M1962.3 277.8v0M1962.3 293.2v0M1967.9 247.1v0M1967.9 322.4v0M1973.5 168.9v0M1973.5 258.2v0M1973.5 289.8v0"/>
<path class="rib" d="M1593.3 227.4L1609.4 230.1L1625.5 232.9L1641.6 235.6L1657.6 238.4L1673.7 241.1L1689.8 243.8L1705.8 246.5L1721.9 249.2L1738.0 251.9L1754.1 254.5L1770.1 257.0L1786.2 259.6L1802.3 262.0L1818.3 264.4L1834.4 266.7L1850.5 269.0L1866.6 271.3L1882.6 273.5L1898.7 275.7L1914.8 277.9L1930.8 280.1L1946.9 282.3L1963.0 284.5L1979.1 286.7L1979.1 294.7L1963.0 292.0L1946.9 289.2L1930.8 286.5L1914.8 283.7L1898.7 281.0L1882.6 278.3L1866.6 275.6L1850.5 272.9L1834.4 270.2L1818.3 267.6L1802.3 265.1L1786.2 262.6L1770.1 260.1L1754.1 257.7L1738.0 255.4L1721.9 253.1L1705.8 250.8L1689.8 248.6L1673.7 246.4L1657.6 244.2L1641.6 242.0L1625.5 239.8L1609.4 237.6L1593.3 235.4Z"/>
<path class="rib" d="M1727.5 201.6L1736.6 205.3L1745.7 209.0L1754.8 212.7L1763.8 216.3L1772.9 219.9L1782.0 223.3L1791.1 226.7L1800.2 229.9L1809.3 233.0L1818.3 235.8L1827.4 238.3L1836.5 240.5L1845.6 242.4L1854.7 244.0L1863.8 245.4L1872.8 246.6L1881.9 247.6L1891.0 248.5L1900.1 249.3L1909.2 250.0L1918.3 250.6L1927.4 251.2L1936.4 251.8L1945.5 252.3L1945.5 297.3L1936.4 293.8L1927.4 290.3L1918.3 286.9L1909.2 283.5L1900.1 280.1L1891.0 276.9L1881.9 273.7L1872.8 270.7L1863.8 267.8L1854.7 265.1L1845.6 262.7L1836.5 260.5L1827.4 258.7L1818.3 257.2L1809.3 256.0L1800.2 255.0L1791.1 254.2L1782.0 253.5L1772.9 252.9L1763.8 252.5L1754.8 252.0L1745.7 251.7L1736.6 251.3L1727.5 251.0Z"/>
<line x1="1593.3" y1="231.4" x2="1979.1" y2="290.7" stroke="#646665" stroke-width="3.4"/>
<line x1="1727.5" y1="226.3" x2="1945.5" y2="274.8" stroke="#4682b4" stroke-width="3.4"/>
<line x1="1574.3" y1="335.5" x2="1997.8" y2="335.5" stroke="#000" stroke-width="1.9" stroke-dasharray="7.5 7.5"/>
<path d="M1574.3 79.0V402.5H1997.8" fill="none" stroke="#000" stroke-width="2"/>
<text x="1564.9" y="112.5" class="tk" text-anchor="end">4</text>
<text x="1564.9" y="185.2" class="tk" text-anchor="end">2</text>
<text x="1564.9" y="257.9" class="tk" text-anchor="end">0</text>
<text x="1564.9" y="330.6" class="tk" text-anchor="end">−2</text>
<text x="1564.9" y="403.3" class="tk" text-anchor="end">−4</text>
<text transform="translate(1621.3 426.7) scale(1 1.08)" class="tkx" text-anchor="middle">30</text>
<text transform="translate(1677.2 426.7) scale(1 1.08)" class="tkx" text-anchor="middle">40</text>
<text transform="translate(1733.1 426.7) scale(1 1.08)" class="tkx" text-anchor="middle">50</text>
<text transform="translate(1789.0 426.7) scale(1 1.08)" class="tkx" text-anchor="middle">60</text>
<text transform="translate(1844.9 426.7) scale(1 1.08)" class="tkx" text-anchor="middle">70</text>
<text transform="translate(1900.8 426.7) scale(1 1.08)" class="tkx" text-anchor="middle">80</text>
<text transform="translate(1956.7 426.7) scale(1 1.08)" class="tkx" text-anchor="middle">90</text>
<path d="M1569.3 105.4H1574.3M1569.3 178.1H1574.3M1569.3 250.8H1574.3M1569.3 323.5H1574.3M1569.3 396.2H1574.3M1621.3 402.5V407.5M1677.2 402.5V407.5M1733.1 402.5V407.5M1789.0 402.5V407.5M1844.9 402.5V407.5M1900.8 402.5V407.5M1956.7 402.5V407.5" stroke="#333" stroke-width="1.5"/>
<text transform="translate(1786.0 453.5) scale(1 1.06)" class="axt" text-anchor="middle">Age (years)</text>
<text transform="translate(1532.1 239.6) rotate(-90) scale(1 1.06)" class="axt" text-anchor="middle">Chromosome Y Intensity</text>
<text transform="translate(1607.0 99.5) scale(1 1.07)" class="eq eqg"><tspan class="ws">y = 1.15 − 0.02 × Age, P = 3.14 × 10</tspan><tspan dx="0.4" dy="-5.4" class="sup">-86</tspan><tspan dy="5.4">, r = -0.28</tspan></text>
<text transform="translate(1607.0 117.8) scale(1 1.07)" class="eq eqb"><tspan class="ws">y = 2.34 − 0.03 × Age, P = 3.60 × 10</tspan><tspan dx="0.4" dy="-5.4" class="sup">-2</tspan><tspan dy="5.4">, r = -0.25</tspan></text>
<text transform="translate(0.0 568.5) scale(1 1.05)" class="lab">E</text>
<text transform="translate(80.0 571.8) scale(1 1.07)" class="tit">Prostate Cancer</text>
<path class="pg" d="M80.8 686.5v0M80.8 718.5v0M93.9 739.5v0M93.9 763.9v0M93.9 770.9v0M100.4 755.7v0M107 717.3v0M120.1 700.5v0M120.1 715.1v0M120.1 740.4v0M126.6 758.2v0M139.7 759.9v0M146.2 711.1v0M146.2 745.5v0M159.3 750.3v0M159.3 754.3v0M159.3 757.6v0M159.3 770.2V771.3M165.8 708.3v0M165.8 730v0M165.8 749.6v0M165.8 761.5v0M165.8 776.3v0M172.4 729.4v0M172.4 754.5v0M172.4 775.5v0M178.9 688v0M178.9 724.8v0M178.9 732.6v0M178.9 737.7v0M178.9 752.2v0M178.9 763.8V766.7M185.5 708.1v0M185.5 714v0M185.5 739.2V740.6M185.5 745.6V753.6M185.5 769.6v0M192 702.1v0M192 707.8v0M192 711.3v0M192 715.8v0M192 726.8V729.3M192 735.1v0M192 741.4V745.7M192 756.2V758.2M192 762.3V765.8M192 789.6v0M192 799.9v0M198.5 705.8V708.6M198.5 716.3V723M198.5 729.2v0M198.5 732.4V735.8M198.5 740.4V743.9M198.5 751.8v0M198.5 757v0M198.5 763.1v0M198.5 767.2v0M198.5 774.4V775.7M198.5 788V792.5M198.5 797.4v0M198.5 812.8v0M205.1 698.3v0M205.1 708.5v0M205.1 711.8V718.3M205.1 722.9v0M205.1 727.3V727.7M205.1 732.5V737.7M205.1 745.7V759.4M205.1 772.6v0M205.1 776.8V778.3M205.1 783v0M205.1 790.6v0M205.1 796.1v0M211.6 683.9v0M211.6 692.7V695.2M211.6 717.9V722.6M211.6 728.7V730.1M211.6 739.7v0M211.6 745V749.8M211.6 753.4v0M211.6 757V762.4M211.6 766V770M211.6 780.2v0M211.6 789.5v0M211.6 800.7v0M211.6 804.4v0M218.2 686.4V691.6M218.2 696.3v0M218.2 702.6V704.1M218.2 715.8v0M218.2 724.4V734.2M218.2 738v0M218.2 747.1V750.6M218.2 753.8v0M218.2 757.3V763.6M218.2 767.3V768.7M218.2 780.3V782.2M218.2 786.5V788.5M218.2 791.9V795.5M218.2 802.4v0M224.7 688.2v0M224.7 697.9V703.8M224.7 708.8V727.2M224.7 732.8V737.1M224.7 740.7v0M224.7 746.2v0M224.7 749.2v0M224.7 758.4V764.7M224.7 768.5V781.4M224.7 785.9V787.9M224.7 791V792.1M224.7 799.5V800.6M231.2 662.6v0M231.2 672.7v0M231.2 681.5v0M231.2 693.2V694.1M231.2 698.7V714.2M231.2 717.4V718.9M231.2 725.3V733M231.2 736.2V739.8M231.2 747.5V759.5M231.2 766.3v0M231.2 769.6V770.3M231.2 775.6v0M231.2 781.9V784.2M231.2 792V795M231.2 801.3v0M231.2 832.9v0M237.8 691.4v0M237.8 695V703.8M237.8 708.8V719.9M237.8 724.1V724.6M237.8 729.9V734.6M237.8 738.9V739.7M237.8 745.2V749M237.8 753.5V761.8M237.8 765.6V768.5M237.8 773.6V774.6M237.8 778.7V786M237.8 792.5v0M237.8 797.2V804.3M237.8 807.8V809.9M237.8 831.5v0M244.3 672.7v0M244.3 689.9v0M244.3 694.6v0M244.3 700.5V701.8M244.3 706.4v0M244.3 711.4V723.9M244.3 728.2V756.9M244.3 762V768.5M244.3 773.8V776.6M244.3 787.9V790.4M244.3 798.2V799.7M244.3 804.2v0M250.9 670.9v0M250.9 693.7V695.9M250.9 699.8V705.6M250.9 710.5V726.7M250.9 729.9V739.1M250.9 742.6V774.3M250.9 777.6V780.7M250.9 784.7V786M250.9 790.8V801.7M250.9 810.6v0M250.9 815.6v0M250.9 822.1v0M257.4 684.4v0M257.4 693v0M257.4 707.2V714.9M257.4 718.8V725.3M257.4 730.8V742.1M257.4 746v0M257.4 752.7V758.6M257.4 763.5V771.8M257.4 775.7V782.7M257.4 786.3v0M257.4 790.1V797.8M257.4 805.3V806.5M257.4 819.6V820.2M257.4 826.5v0M257.4 835.9v0M263.9 667.9v0M263.9 689.5V692.1M263.9 695.8V701.5M263.9 705.6v0M263.9 708.7V722.4M263.9 728.4V748.5M263.9 760.8V769.8M263.9 773v0M263.9 776.4V777.3M263.9 780.3V784.7M263.9 787.9V788.9M263.9 792.2v0M263.9 799.6V801.3M263.9 809.7v0M263.9 813.8v0M263.9 821.4v0M263.9 828.8v0M263.9 835.3v0M270.5 681v0M270.5 697.8V699.5M270.5 704.4v0M270.5 707.7V711.7M270.5 715.8V718.3M270.5 721.7V725.9M270.5 729.9v0M270.5 736V781.2M270.5 784.3V788.3M270.5 791.9v0M270.5 795.1V796.7M270.5 800.4V811.1M270.5 815.1V816.8M270.5 833.3v0M277 663.2v0M277 677.9V682.3M277 685.7v0M277 698.6v0M277 702.6V706.9M277 711.5V714.1M277 719.7V724.3M277 729.5V756.9M277 760.1V771.4M277 774.8V784.4M277 790.3V794.5M277 799.5V809.8M277 818v0M277 824.7V827.3M277 833.7v0M283.6 688v0M283.6 691.3V693.2M283.6 697V699.6M283.6 705V706.8M283.6 714V716.7M283.6 720.5V725.1M283.6 730.3V731.9M283.6 736V737.9M283.6 741.7V767.7M283.6 771.6V779.9M283.6 783V787.8M283.6 795.6V797.9M283.6 804.9V805.7M283.6 808.7V812.6M283.6 817.2V825.3M283.6 833.8v0M290.1 672.7V674.1M290.1 677.4v0M290.1 688.5V691.2M290.1 697.5v0M290.1 713.4V719.9M290.1 723.1V740.2M290.1 743.5V762.8M290.1 769.4v0M290.1 772.9V782.3M290.1 787.3V802M290.1 806.4v0M290.1 816V819M296.6 691.2v0M296.6 698.2v0M296.6 703.5v0M296.6 706.9V724M296.6 727.1V765.8M296.6 769.4V787.5M296.6 791.2v0M296.6 794.3V798.9M296.6 802.4V804.9M296.6 808.4V811.8M296.6 815.2v0M296.6 835V836.6M303.2 676.6v0M303.2 687.2V687.8M303.2 691.3V691.8M303.2 697V698.6M303.2 703.3V704.5M303.2 712.5V719.7M303.2 723.6V766.4M303.2 770V781.7M303.2 785.7V788.3M303.2 791.7V795.7M303.2 804.6V805.6M303.2 810V812.4M303.2 818.1V819.7M303.2 823.2v0M309.7 693.2V698.4M309.7 701.9V704.3M309.7 709.1V710.6M309.7 714.8V717.6M309.7 723.6V769M309.7 772.5V776.6M309.7 780.5V792.1M309.7 795.8V803.2M309.7 806.5V807.5M309.7 811.1v0M309.7 819.7V822.5M309.7 844v0M316.3 682.3v0M316.3 685.5v0M316.3 689.1V690.7M316.3 695.3V697.4M316.3 708.9v0M316.3 714.5v0M316.3 719.5V724.7M316.3 727.7V731.7M316.3 735V737.9M316.3 741.3V745.5M316.3 748.9V753M316.3 757.3V798.2M316.3 802.2V804M316.3 813.2V815.7M316.3 821.7v0M316.3 830v0M316.3 835.5v0M322.8 699.7v0M322.8 709V724.7M322.8 729.5V731.7M322.8 742.6V757.3M322.8 761.5V773.8M322.8 777.5V784.9M322.8 791.4V806.6M322.8 815.1V815.9M322.8 821V826.2M322.8 835.7v0M322.8 842.1v0M329.3 693.4v0M329.3 697V710.1M329.3 715V724.6M329.3 729.4V732M329.3 736.5V745M329.3 749.8V751.8M329.3 755.9v0M329.3 759.6v0M329.3 763.3V767.5M329.3 771.3V791.2M329.3 795.7V808.6M329.3 812.1V814.1M329.3 817.4v0M329.3 840.5v0M335.9 686.1V688.4M335.9 696.8v0M335.9 704.3V705.5M335.9 714.6V740.4M335.9 744V777.5M335.9 783.2V784.9M335.9 787.9V799.4M335.9 803.2V809.9M335.9 816.2v0M335.9 821.2v0M335.9 826.6v0M342.4 686.7v0M342.4 699.6v0M342.4 711.2V715.9M342.4 720.7V723.5M342.4 731.9V743.5M342.4 746.7V749.4M342.4 753.3V755.5M342.4 760v0M342.4 764.7V797.7M342.4 803.1V803.4M342.4 808.4v0M342.4 813.2v0M342.4 818.2v0M342.4 821.7v0M342.4 827.9V829.1M342.4 842.4v0M349 680v0M349 691.5v0M349 697v0M349 702.5v0M349 706.2V709.2M349 712.4V715.9M349 719.6V722.3M349 725.9V738.4M349 742.9V752M349 756.7V781.7M349 788.2V791.9M349 797.4v0M349 801.1v0M349 804.6v0M349 812.1V815.7M349 823.9v0M349 827.4v0M349 839.4V842M355.5 697.6V700.3M355.5 710.1v0M355.5 717.4V717.7M355.5 727.7V744.3M355.5 749.1V762.4M355.5 765.5v0M355.5 768.6v0M355.5 771.8V788.6M355.5 793.3V794.3M355.5 801.1v0M355.5 804.2V810.5M355.5 815.8V818M355.5 822.5V824.5M355.5 838.4v0M362 688V690M362 704.4V707.4M362 713.3V719.8M362 724.4v0M362 729.2V732.7M362 736.2V744M362 748.9V776.7M362 780.3V784.5M362 788.1V790.9M362 798.6v0M362 802.5V804.2M362 809.2V819.8M362 874.8v0M368.6 697.7v0M368.6 710V710.6M368.6 715.2V728.5M368.6 734.5V735M368.6 740.2V741.5M368.6 744.9V752.6M368.6 756.2V768.2M368.6 773.4V780.8M368.6 787.6v0M368.6 792.6v0M368.6 796.1V797.4M368.6 800.5V801.8M368.6 807.8V812.2M368.6 815.5v0M368.6 822.7v0M368.6 832.6v0M375.1 696.5v0M375.1 705.8v0M375.1 710.5v0M375.1 714.6v0M375.1 717.9V720.1M375.1 723.6V724.6M375.1 727.9V745.2M375.1 748.3V752.9M375.1 756.3V759.4M375.1 762.6V770.7M375.1 774.5V783.2M375.1 790.5V798.5M375.1 801.9v0M375.1 808.2V809.3M375.1 814.8V820.4M375.1 826V832.7M381.7 692.7v0M381.7 703.9v0M381.7 710.9v0M381.7 714.5V724.4M381.7 727.9V729.2M381.7 735.4V743.8M381.7 752.9V778M381.7 782.1V797.6M381.7 804.5V807M381.7 810.3V812.1M381.7 815.8v0M381.7 820.4v0M381.7 824v0M381.7 828.5v0M381.7 834.7v0M388.2 696.1v0M388.2 713.5V715.5M388.2 721v0M388.2 732.3V765.7M388.2 768.7v0M388.2 772.6V776.4M388.2 779.8V786.7M388.2 790.7V792.6M388.2 795.9V797.4M388.2 800.7V820.3M388.2 825.5V825.9M388.2 833.8v0M388.2 839.7v0M394.7 693.9v0M394.7 712V714.9M394.7 725.8V730.3M394.7 734.6V739.4M394.7 743.1V751.4M394.7 755.3V756.7M394.7 760.1V761.1M394.7 765.5V787M394.7 791.4V793.8M394.7 796.9V798M394.7 803.1v0M394.7 807.9V815.3M394.7 819.4v0M394.7 832.7v0M394.7 836.8v0M394.7 856.2v0M401.3 714.6v0M401.3 723.4v0M401.3 728.5V746.8M401.3 750.9V754.3M401.3 757.4V759.2M401.3 768.3V774.5M401.3 779.6v0M401.3 783.9V793.1M401.3 796.5v0M401.3 800.1V808.8M401.3 812.1V813.2M401.3 817.7v0M401.3 823.7v0M401.3 827.1v0M401.3 840.4v0M407.8 696.4v0M407.8 705.5v0M407.8 722.5V754.6M407.8 758.6V763.5M407.8 766.5V774.2M407.8 778.2V779.6M407.8 784.3v0M407.8 790.5V799.8M407.8 804.2V816.4M407.8 824.8V828.5M407.8 837.1v0M414.4 697.6V698.4M414.4 717.6v0M414.4 721.2V722.9M414.4 728.4v0M414.4 731.8V740.4M414.4 746.8V750.9M414.4 754.8V758.4M414.4 761.7V762.3M414.4 767.8V771.3M414.4 775.6v0M414.4 779.6V808.1M414.4 814.3V817.1M414.4 823V824.9M414.4 832.8V835.5M414.4 843.6v0M420.9 686.8v0M420.9 721.3V722.7M420.9 728v0M420.9 734.3V735.6M420.9 741.9v0M420.9 760.2v0M420.9 763.6V765.4M420.9 771.2v0M420.9 776.5V782M420.9 787.9v0M420.9 793.6V795.1M420.9 799.9V801.2M420.9 806V807.2M420.9 813.9v0M427.4 743.1v0M427.4 757.4V759.5M427.4 763.3V764M427.4 776.3v0M427.4 782.1v0M427.4 794.4v0M434 732.8v0M440.5 787v0M447.1 745.4v0M466.7 789v0"/>
<path class="pb" d="M146.2 721.1V721.7M152.8 721.3v0M159.3 765.9v0M165.8 706.2v0M165.8 727.5v0M172.4 679.1v0M172.4 710.4v0M172.4 720.2v0M172.4 761.2v0M178.9 716.4v0M178.9 781.6v0M178.9 813.9v0M185.5 685.5v0M185.5 705.4v0M185.5 717.1v0M185.5 720.4v0M185.5 724v0M185.5 741v0M185.5 749.8v0M185.5 761.9v0M185.5 774.3v0M185.5 787.8v0M192 687.7v0M192 701.9v0M192 712.7V715.5M192 728.5v0M192 743.5v0M192 751.7v0M192 819.8v0M198.5 691.9v0M198.5 696.6v0M198.5 701.7v0M198.5 705.8v0M198.5 714.9v0M198.5 736.6V741.7M198.5 753.5v0M198.5 762.1v0M198.5 775.8v0M198.5 798.8v0M205.1 693.5v0M205.1 700.9v0M205.1 709.5V712.5M205.1 727.7v0M205.1 734.1v0M205.1 768V768.7M205.1 783.1v0M205.1 786.3v0M205.1 789.9V793M211.6 687.8v0M211.6 698.4v0M211.6 702.8v0M211.6 709.6v0M211.6 712.9v0M211.6 728.9V731.7M211.6 737.5v0M211.6 744.6v0M211.6 750.5v0M211.6 758.6v0M211.6 768.5V772.2M211.6 779.5v0M211.6 783.2V784.5M218.2 698.6v0M218.2 720.1V725.7M218.2 732.3v0M218.2 736.4v0M218.2 744.2v0M218.2 749.8V751.2M218.2 760.5V763.6M218.2 779.2v0M218.2 798.8V799.8M218.2 808.5V811M224.7 680.9v0M224.7 689v0M224.7 692.3V693.3M224.7 697.3v0M224.7 705.6V707.5M224.7 716.4V720.1M224.7 726.3v0M224.7 733.2V734.7M224.7 744.8v0M224.7 748.6V749.1M224.7 753.6V755.8M224.7 760.8V764.8M224.7 769.7v0M224.7 774.4v0M224.7 781.6V784.8M224.7 789v0M231.2 684.3V685.2M231.2 698.2V700.3M231.2 705.2V714M231.2 718.2v0M231.2 724v0M231.2 727.2V731.7M231.2 737v0M231.2 749.3V754.5M231.2 761V763.8M231.2 767.8V774.6M231.2 779.4v0M231.2 785.6v0M231.2 790.9V792.8M237.8 672.5v0M237.8 682.8v0M237.8 694.6v0M237.8 704.3v0M237.8 708.2V709.1M237.8 715.7V722M237.8 728.7v0M237.8 733.3v0M237.8 743.6v0M237.8 748.5v0M237.8 752.1V765.6M237.8 770.9v0M237.8 774v0M237.8 780.2V790.4M237.8 793.7V794.6M237.8 811.9v0M244.3 689.4v0M244.3 700.7v0M244.3 707.4V708.5M244.3 711.6V714.7M244.3 719.2V721.5M244.3 736V737.7M244.3 743.9V747.3M244.3 750.7V756.1M244.3 761.4V766.1M244.3 769.7V773.9M244.3 779.6V788.5M244.3 801.1V803.8M250.9 696.9v0M250.9 700.7V702.3M250.9 706.6v0M250.9 713.6V714.7M250.9 719.7V721M250.9 724.6V726.9M250.9 731.2V734.1M250.9 737.2V746.5M250.9 756.2v0M250.9 759.8V771.2M250.9 775.5V777.5M250.9 780.8V787M257.4 684v0M257.4 693.9v0M257.4 702.7V705.9M257.4 711.3V718.3M257.4 723.3v0M257.4 727.7V729M257.4 734.7v0M257.4 738.1v0M257.4 743.9V745.8M257.4 754.4V759.9M257.4 763.3v0M257.4 768.7V770.8M257.4 776.5V777M257.4 783.8V784.7M257.4 795.4v0M257.4 800.3v0M257.4 807.3v0M263.9 690.9v0M263.9 703.4V704.8M263.9 710v0M263.9 723.7v0M263.9 727.7v0M263.9 730.9v0M263.9 744.4V751.9M263.9 759.9V761.8M263.9 765.4V770.9M263.9 778V780.3M263.9 786.2V788.3M263.9 796.8V798.3M263.9 802.5v0M263.9 807.7v0M270.5 696.7v0M270.5 703.9V705.7M270.5 709.4V711.7M270.5 714.9v0M270.5 718V720.6M270.5 725.3V728.5M270.5 733.2V733.5M270.5 737.1v0M270.5 743.4v0M270.5 747.5v0M270.5 753.3V754M270.5 759.8v0M270.5 766.1V773.9M270.5 777.4V780.8M270.5 785V793.6M270.5 803.3v0M270.5 818.7v0M277 676.3v0M277 686V687.4M277 695.5V698.1M277 702V703.5M277 712.3V712.7M277 722.3V734.9M277 741.9V754.4M277 759.8V764.1M277 768.8v0M277 773.3v0M277 777.5V781.2M277 786.5V788.2M277 792.2V798.9M277 808.8v0M283.6 692.3v0M283.6 699.2V700.1M283.6 706.9V708.8M283.6 712.1V713.5M283.6 717.4V718.4M283.6 724.5v0M283.6 730.7v0M283.6 740.8V747.2M283.6 750.8v0M283.6 754.9V756.9M283.6 760.4V772.3M283.6 776.2V780.4M283.6 784.2V787.1M283.6 792.5v0M283.6 797.2V798.3M283.6 801.3V801.9M283.6 807.7v0M283.6 815.9v0M283.6 828.3v0M290.1 708.1v0M290.1 713.9v0M290.1 719.2V722.8M290.1 726.7V731.8M290.1 738.3v0M290.1 744V745.6M290.1 749.4V752.3M290.1 756.9V767.5M290.1 770.6V772.2M290.1 779.9V782.7M290.1 787V790.7M290.1 796.5v0M290.1 800.6V805.6M290.1 811.3V813.7M290.1 836.9v0M296.6 674.4v0M296.6 706.5V708.1M296.6 715.2V721.3M296.6 727.1V732M296.6 735.2V743.8M296.6 750V754.4M296.6 760.4V770.4M296.6 773.6V785.3M296.6 790.2V795.2M296.6 798.3v0M296.6 820.7v0M303.2 696.2v0M303.2 714.8V716.5M303.2 720.4V723.5M303.2 728.2V731.2M303.2 734.3V742.2M303.2 745.4V747.2M303.2 750.9V752M303.2 756.9v0M303.2 760.5V766.2M303.2 769.7v0M303.2 773.9V777.9M303.2 780.9V782.2M303.2 785.6V791.5M303.2 795.3v0M303.2 803.1V805M303.2 812.2v0M309.7 677.7v0M309.7 699.7v0M309.7 710.2v0M309.7 714.2V720.3M309.7 729.2V731.8M309.7 736.6v0M309.7 740.1v0M309.7 745.6V746.8M309.7 750.4v0M309.7 753.5V759.7M309.7 770.8V780.6M309.7 786.7v0M309.7 792.2V797.2M309.7 806.8V807.5M309.7 814.3V815.9M309.7 823.2v0M309.7 863.3v0M316.3 713.1V714.8M316.3 719.4v0M316.3 738.4v0M316.3 744.3V749.2M316.3 752.3v0M316.3 755.4V762.6M316.3 765.9V768.8M316.3 773.8v0M316.3 780.5V781.3M316.3 787.5v0M316.3 792.1V794.7M316.3 802.1V805M316.3 810.4V813.2M316.3 823.8v0M322.8 692.4v0M322.8 698.6v0M322.8 708.7V709.7M322.8 717.4V719M322.8 724.6v0M322.8 728V739.4M322.8 745.2v0M322.8 748.5v0M322.8 754.4V755M322.8 761.4V764.6M322.8 767.7V771.8M322.8 778.9V782.9M322.8 788V791M322.8 799.3v0M322.8 806.2v0M322.8 811.1V814.1M322.8 826.1v0M329.3 676.3v0M329.3 687.3v0M329.3 701.9V704M329.3 712.1V714M329.3 725.9v0M329.3 729.1V735.5M329.3 740.3V740.7M329.3 745.3V749.1M329.3 752.6V756.3M329.3 761.3v0M329.3 765.7v0M329.3 770.4V771.5M329.3 778.4v0M329.3 781.9V791.9M329.3 797.5V802.1M329.3 816.3v0M335.9 705.4v0M335.9 710V711.9M335.9 730.9V741.7M335.9 749.3V756.3M335.9 760.9V761.4M335.9 767.9V772.7M335.9 776.9v0M335.9 784.8V790.9M335.9 794.8V797.4M335.9 800.9V801.4M335.9 811v0M335.9 816.7V817.3M335.9 831.2v0M335.9 839.3v0M342.4 706.1v0M342.4 722.5v0M342.4 726.4V730.9M342.4 735V735.5M342.4 743.5V744M342.4 747v0M342.4 750.1v0M342.4 754.4V761.2M342.4 764.7V767.4M342.4 776.7v0M342.4 780v0M342.4 784.1V785.3M342.4 795.5V796.4M342.4 805.9V808M342.4 811.1v0M342.4 823.6v0M342.4 842v0M349 698.7v0M349 704.1v0M349 710.3v0M349 717.6V722.7M349 730.2V733.6M349 740.5V741.9M349 752.3V756.3M349 761.5V764.6M349 768.9V775.8M349 782.1v0M349 788.3V791.9M349 797v0M349 800.7v0M349 817.2V818M349 827.2V830.2M355.5 700.1V700.5M355.5 704.2v0M355.5 707.7V709M355.5 727.9V729.1M355.5 743V746M355.5 749.8V752.9M355.5 759.8v0M355.5 766.6V768.3M355.5 774.6V777.5M355.5 780.7V787.9M355.5 792.1v0M355.5 796.1v0M355.5 803.4v0M355.5 806.9V809.9M355.5 816.9v0M355.5 823.2v0M355.5 840.5v0M362 689.5v0M362 712.6V713.9M362 727.8v0M362 731.1v0M362 734.5V740.2M362 747.1v0M362 751.9V764.9M362 770.1V773.1M362 778.3V787.7M362 795.9V811.8M362 815.4V817.7M362 821v0M362 841.7v0M368.6 706.4v0M368.6 709.8v0M368.6 727.1V731.7M368.6 735.2V739.1M368.6 743v0M368.6 750.5V760.2M368.6 765.2v0M368.6 769.2V771.2M368.6 778.4V780.4M368.6 785.9V788.6M368.6 797v0M368.6 801v0M368.6 806.4V808.1M368.6 813.4V819.3M368.6 833.8v0M368.6 842v0M375.1 695.4v0M375.1 707.3v0M375.1 717.2v0M375.1 727v0M375.1 734.3v0M375.1 740.1V742.2M375.1 750.1v0M375.1 757.4v0M375.1 760.8v0M375.1 764.8v0M375.1 768.6V773M375.1 783.4V785.4M375.1 789.4V796.5M375.1 800V803.3M375.1 809.3V811M375.1 815.8v0M381.7 697.8v0M381.7 701.8v0M381.7 720.1v0M381.7 729.1v0M381.7 747v0M381.7 755.9V756.5M381.7 763v0M381.7 767.8V772.9M381.7 785.4V786.5M381.7 789.6V792.5M381.7 796.9V797.4M381.7 807V808.7M381.7 813.6v0M381.7 816.8V817.6M381.7 834.5v0M388.2 708.6v0M388.2 721.8V723.1M388.2 733v0M388.2 738.2v0M388.2 744.5v0M388.2 751.3v0M388.2 759.1V761.8M388.2 765.1v0M388.2 770.2V776.7M388.2 780.4V791M388.2 795.6V796.7M388.2 800.8v0M388.2 813.3v0M388.2 820.7v0M388.2 830.2v0M388.2 839.3v0M394.7 706.2v0M394.7 716.4v0M394.7 721.5v0M394.7 750.4v0M394.7 759.4V764.5M394.7 768.1v0M394.7 774.8V775.9M394.7 780.5v0M394.7 785.1v0M394.7 788.9V791.8M394.7 803.7V807.6M394.7 821.2v0M401.3 694.6v0M401.3 710.4v0M401.3 729.6v0M401.3 734.6v0M401.3 741.5v0M401.3 753.5v0M401.3 759.4v0M401.3 762.6V764.8M401.3 768.2V772.4M401.3 777.4V778.1M401.3 789.3v0M401.3 798.2v0M401.3 805.3v0M401.3 827.2v0M407.8 723.2v0M407.8 732.3v0M407.8 738.6v0M407.8 744.4v0M407.8 752.6V755.2M407.8 761.9v0M407.8 767.2v0M407.8 771.8V772.9M407.8 790.9V792.4M407.8 797.2v0M407.8 802.7v0M414.4 731.5v0M414.4 746v0M414.4 749.2V751.1M414.4 767.9V770.5M414.4 784.5V789M414.4 816.2v0M414.4 832.8v0"/>
<path class="pg" d="M120.1 744.1v0M120.1 784.7v0M126.6 744.8v0M133.1 719.8v0M139.7 728.1v0M139.7 764.3v0M165.8 713.4v0M165.8 757.2v0M172.4 743.8v0M178.9 720.7v0M178.9 755.9v0M185.5 729.6v0M185.5 731.8v0M192 718.4v0M192 720.4v0M192 747.9v0M192 750v0M192 764.4v0M198.5 682.8v0M198.5 716.6v0M198.5 729v0M198.5 731.1v0M198.5 749.4v0M198.5 751v0M198.5 773.3v0M198.5 801.3v0M205.1 694.1v0M205.1 707.8v0M205.1 734.9v0M205.1 756.7v0M205.1 776.4v0M205.1 796.6v0M211.6 664.2v0M211.6 694.6v0M211.6 714.7v0M211.6 732.3v0M211.6 738.4v0M211.6 744.5v0M211.6 767.7v0M211.6 777.5v0M211.6 778.9V779.5M211.6 783.5V784.4M211.6 790.5v0M211.6 809.1v0M218.2 692.7v0M218.2 700.2v0M218.2 703.7v0M218.2 708.2V708.8M218.2 732.1v0M218.2 740.2v0M218.2 748.4v0M218.2 752v0M218.2 755v0M218.2 774.2v0M218.2 787.3v0M218.2 798.6v0M218.2 865.6v0M224.7 700.9v0M224.7 711.1v0M224.7 712.3v0M224.7 719.1v0M224.7 720.9v0M224.7 723.2v0M224.7 724.3V724.8M224.7 726.8v0M224.7 730.9v0M224.7 736.2v0M224.7 738.6v0M224.7 739.6v0M224.7 741.9v0M224.7 744.5v0M224.7 751.4v0M224.7 752.8v0M224.7 757.5v0M224.7 761.7v0M224.7 762.9v0M224.7 770.3v0M224.7 784.3v0M224.7 800.8v0M224.7 822.8v0M231.2 696.9v0M231.2 711.2v0M231.2 720v0M231.2 725.7v0M231.2 727.1V728.1M231.2 729.5v0M231.2 735.1v0M231.2 738.6v0M231.2 741.6v0M231.2 748.4v0M231.2 753.9v0M231.2 758.1v0M231.2 763.9v0M231.2 765.1v0M231.2 771v0M231.2 783.9v0M231.2 785v0M231.2 796.2v0M231.2 798.6v0M237.8 693.8v0M237.8 705.7v0M237.8 709.5v0M237.8 711.7V712.2M237.8 716v0M237.8 723.5v0M237.8 729.8v0M237.8 733.4v0M237.8 735.5v0M237.8 737v0M237.8 740.2v0M237.8 741.2v0M237.8 743.9v0M237.8 747.5v0M237.8 763.5V763.8M237.8 771.2v0M237.8 782V783.1M237.8 784.8v0M237.8 799v0M237.8 806.7v0M237.8 812.5v0M244.3 680.9v0M244.3 686.9v0M244.3 698.1v0M244.3 723.4v0M244.3 724.8V725.4M244.3 729.7V730.3M244.3 732V732.5M244.3 734.3v0M244.3 740.6v0M244.3 752.2v0M244.3 763.9v0M244.3 771.4v0M244.3 774v0M244.3 775.5v0M244.3 785.2v0M244.3 788.1v0M244.3 794.6v0M244.3 798.9v0M250.9 716.5v0M250.9 720.3v0M250.9 733.3V733.9M250.9 743.2v0M250.9 744.4v0M250.9 760.9v0M250.9 764.1v0M250.9 775.4v0M250.9 785.1v0M250.9 787.1v0M250.9 792.4V792.7M250.9 797.8v0M250.9 799.6v0M250.9 811.7v0M250.9 825.5v0M257.4 700.2v0M257.4 702.3v0M257.4 706.2v0M257.4 709.9V710.3M257.4 711.4v0M257.4 722v0M257.4 723.4V723.8M257.4 728.5V729M257.4 730.7v0M257.4 734.5v0M257.4 744.8V745.6M257.4 747v0M257.4 748.8v0M257.4 751.3v0M257.4 758.5v0M257.4 761.8v0M257.4 764.4v0M257.4 777.3v0M257.4 778.5v0M257.4 781.4v0M257.4 788.9v0M257.4 790v0M257.4 792.9v0M257.4 797.6v0M263.9 684.3v0M263.9 699.1v0M263.9 712.6v0M263.9 717.5v0M263.9 718.7v0M263.9 728.2v0M263.9 730.1v0M263.9 732.4v0M263.9 740.2v0M263.9 741.5v0M263.9 743.5v0M263.9 752.6V753.3M263.9 757.5V759M263.9 761.5v0M263.9 769.8v0M263.9 773.1V773.9M263.9 780.5v0M263.9 784.8v0M263.9 790.4V791.2M263.9 796.3v0M263.9 804.3v0M263.9 805.4v0M263.9 812.1v0M263.9 813.6v0M270.5 686v0M270.5 693.9v0M270.5 718v0M270.5 720.6v0M270.5 723.3V723.9M270.5 740.2v0M270.5 744.3v0M270.5 745.9v0M270.5 749.4v0M270.5 752.7v0M270.5 761.7v0M270.5 765.3v0M270.5 774.2v0M270.5 779.5V780.4M270.5 786.3v0M270.5 787.9v0M270.5 797V797.5M270.5 815.4v0M277 677.3v0M277 705.8v0M277 712.9v0M277 720.6v0M277 728.1v0M277 731.3V732M277 733.5V733.9M277 739.1v0M277 746.6V747.4M277 753.6v0M277 763.5v0M277 765.5v0M277 770.1v0M277 782.7V783.4M277 786.6v0M277 789.6v0M277 793.7v0M277 796.9v0M277 799v0M283.6 685.2v0M283.6 697.2v0M283.6 699.9V700.4M283.6 703.7v0M283.6 713v0M283.6 714.5v0M283.6 717.3v0M283.6 727.2V727.9M283.6 729.9v0M283.6 731.5V732M283.6 736.2v0M283.6 743v0M283.6 747V747.3M283.6 751.8v0M283.6 755.9v0M283.6 757.2V757.6M283.6 760.3V761.1M283.6 763V763.8M283.6 765.6v0M283.6 771.8v0M283.6 784v0M283.6 786.1v0M283.6 789.6v0M283.6 791.9v0M283.6 800.7v0M283.6 804.8v0M283.6 808.2v0M290.1 691.9v0M290.1 706.9v0M290.1 710.8v0M290.1 716.4v0M290.1 718v0M290.1 726.3v0M290.1 728.8v0M290.1 736.1v0M290.1 738.8v0M290.1 743.5v0M290.1 744.6V744.9M290.1 746.9v0M290.1 759.2v0M290.1 761v0M290.1 763.9v0M290.1 765.6v0M290.1 768.6v0M290.1 770.3v0M290.1 784.3v0M290.1 790.1v0M290.1 799.1v0M290.1 810.4v0M290.1 814.2v0M290.1 823.6v0M290.1 834.9v0M290.1 837.8v0M296.6 683.1v0M296.6 703.9v0M296.6 709.3v0M296.6 718.1v0M296.6 719.9v0M296.6 727v0M296.6 728.2v0M296.6 737.1v0M296.6 743V743.8M296.6 750.9v0M296.6 753.5v0M296.6 758.3V759.8M296.6 764.5v0M296.6 772.1v0M296.6 773.3v0M296.6 782.1v0M296.6 783.7v0M296.6 790.2v0M296.6 792.6v0M296.6 799.1v0M296.6 800.9v0M296.6 802.6v0M296.6 807.4V807.8M296.6 834.6v0M303.2 710.9v0M303.2 712.6V714.1M303.2 718.2v0M303.2 725.8v0M303.2 732.6v0M303.2 737.5V737.9M303.2 742.5v0M303.2 745.6v0M303.2 749.7v0M303.2 750.7V751.5M303.2 754.8v0M303.2 755.9v0M303.2 759.8V760.3M303.2 761.4v0M303.2 764.6v0M303.2 767.9v0M303.2 771.3v0M303.2 776.3V776.8M303.2 778.9v0M303.2 785v0M303.2 792.3v0M303.2 796.5V797.3M303.2 801.6V802.3M309.7 664.9v0M309.7 693.7v0M309.7 700.9v0M309.7 715.5v0M309.7 718.5v0M309.7 731.9v0M309.7 735.7v0M309.7 737.1v0M309.7 739.8v0M309.7 741.5V741.8M309.7 744.7v0M309.7 745.9v0M309.7 754.7v0M309.7 757.4v0M309.7 762.7V763.7M309.7 769.3V770.2M309.7 772.8v0M309.7 790.3v0M309.7 796.6v0M309.7 809.5v0M309.7 819.2v0M316.3 700.7v0M316.3 714.2v0M316.3 719.7v0M316.3 722.9V725.2M316.3 731.6V732.3M316.3 736.6V737.2M316.3 741.4v0M316.3 745v0M316.3 751.2v0M316.3 753.3v0M316.3 766.8v0M316.3 769v0M316.3 772.6v0M316.3 782.1v0M316.3 783.2v0M316.3 784.8v0M316.3 788.4v0M316.3 795.1v0M316.3 806.2v0M316.3 811.1v0M316.3 822.8v0M316.3 825.7v0M316.3 830.8v0M322.8 699.1V700M322.8 705.1v0M322.8 714.9v0M322.8 717.7v0M322.8 719.3v0M322.8 725.6v0M322.8 727.5v0M322.8 729.2v0M322.8 731.9v0M322.8 734.9v0M322.8 736.3v0M322.8 748.5v0M322.8 751.8V752.6M322.8 754.1v0M322.8 770.5V771.7M322.8 775.4v0M322.8 781.6V782.7M322.8 785.4v0M322.8 788.8v0M322.8 790.1v0M322.8 793.8v0M322.8 796.6v0M322.8 801.2v0M322.8 807v0M322.8 808.3v0M322.8 813.3v0M322.8 816.1v0M329.3 691.9v0M329.3 709.9v0M329.3 713.3v0M329.3 716.6v0M329.3 718.3v0M329.3 726.7v0M329.3 727.8v0M329.3 735.2v0M329.3 740.7V741.5M329.3 743v0M329.3 744.3v0M329.3 751.6v0M329.3 755.3v0M329.3 773.3v0M329.3 775.6v0M329.3 777.7v0M329.3 780V780.6M329.3 782.8v0M329.3 788v0M329.3 793.8v0M329.3 798.4v0M329.3 800.7v0M329.3 803.3v0M329.3 806.2v0M329.3 807.3v0M329.3 812.4v0M329.3 824.4v0M335.9 686.2v0M335.9 689.8v0M335.9 702.6v0M335.9 708.4v0M335.9 713.8v0M335.9 730.5v0M335.9 734v0M335.9 740.7v0M335.9 744.2v0M335.9 748.2v0M335.9 751.7v0M335.9 752.8v0M335.9 755.9V757M335.9 761.4v0M335.9 765.1V766.5M335.9 767.6V768.1M335.9 770.8v0M335.9 772.5v0M335.9 775.9v0M335.9 779.3v0M335.9 783.5v0M335.9 786.7v0M335.9 794.6v0M335.9 796.2v0M335.9 799.5v0M335.9 803.3v0M342.4 698.5v0M342.4 709.3v0M342.4 710.7v0M342.4 716.5v0M342.4 717.8v0M342.4 724.7v0M342.4 725.9v0M342.4 731.3v0M342.4 732.8v0M342.4 738.2v0M342.4 739.2v0M342.4 745.1V746M342.4 747.8v0M342.4 755.5V756.2M342.4 760.3v0M342.4 767.7V768.6M342.4 780.3v0M342.4 794.4V795.7M342.4 800.6v0M342.4 802.8v0M342.4 806.5v0M342.4 810.7v0M342.4 814.1v0M349 708.6v0M349 712.3v0M349 717.3v0M349 718.8v0M349 725.2v0M349 745.4v0M349 749.8v0M349 753.2v0M349 754.6v0M349 756.8V757.8M349 763.7V764.3M349 766.6v0M349 773.9v0M349 777v0M349 780.4v0M349 786.6v0M349 792.1v0M349 798v0M349 806.6v0M349 816.5v0M349 820.1v0M349 823.4v0M355.5 713.9v0M355.5 717.8v0M355.5 720.8v0M355.5 727v0M355.5 736.7v0M355.5 738.3v0M355.5 758.3v0M355.5 761.5v0M355.5 771.1v0M355.5 773.5v0M355.5 779.5v0M355.5 785.5v0M355.5 788.7v0M355.5 798.1v0M355.5 800.4v0M355.5 806.9v0M355.5 810.9V811.3M355.5 818.3v0M355.5 819.5V820.2M355.5 839v0M362 710.4V711M362 719.9v0M362 722.8v0M362 724v0M362 736.9v0M362 746.9v0M362 761.4V762.1M362 765.3v0M362 770.3v0M362 799v0M362 805v0M362 806.3v0M362 821v0M362 824.4v0M362 838.8v0M368.6 713.4v0M368.6 718.7v0M368.6 721.5v0M368.6 723.4V724.2M368.6 730.4v0M368.6 736.7V737.9M368.6 741.5v0M368.6 744.6v0M368.6 745.7v0M368.6 748v0M368.6 750.6v0M368.6 752.8v0M368.6 755.3V756.2M368.6 760.4v0M368.6 764.8v0M368.6 775.1V775.7M368.6 777v0M368.6 783.9v0M368.6 788.4v0M368.6 790.8v0M368.6 794.8v0M368.6 827.1v0M375.1 697.6v0M375.1 707.9v0M375.1 718.5v0M375.1 721v0M375.1 723v0M375.1 728.3v0M375.1 729.7v0M375.1 731.8V733.2M375.1 743.6v0M375.1 754.2v0M375.1 758.2v0M375.1 763.5v0M375.1 766.9V768.1M375.1 769.7v0M375.1 786.4v0M375.1 791.3V791.7M375.1 796.8v0M375.1 820.6v0M375.1 822.8v0M375.1 828.1v0M375.1 833.4v0M381.7 700.3v0M381.7 705.1v0M381.7 718.9v0M381.7 722.8V723.8M381.7 731.7v0M381.7 735.4v0M381.7 739.7v0M381.7 747.1v0M381.7 750.8V751.2M381.7 753.4V753.9M381.7 755.9v0M381.7 759.3v0M381.7 761.1v0M381.7 773.6v0M381.7 774.7v0M381.7 776.7V777.7M381.7 786.7v0M381.7 788.1v0M381.7 792.3v0M381.7 797.1v0M381.7 801.7v0M381.7 804.4v0M388.2 714.1v0M388.2 721.6v0M388.2 729.1v0M388.2 741.1v0M388.2 747.8v0M388.2 755.1v0M388.2 757.3v0M388.2 762.9v0M388.2 764.8v0M388.2 766.9V767.5M388.2 771.1v0M388.2 780.1v0M388.2 782.9V784.1M388.2 787.3v0M388.2 789.3V789.6M388.2 816.8v0M388.2 836.5v0M388.2 840v0M388.2 850.8v0M394.7 704.5v0M394.7 715.4v0M394.7 738.5v0M394.7 745.5V747.1M394.7 752.4v0M394.7 757.9v0M394.7 758.9v0M394.7 781.9v0M394.7 785.3v0M394.7 790.7v0M394.7 796v0M394.7 797.1v0M394.7 806.3v0M394.7 812.7v0M394.7 816.1v0M401.3 710.9v0M401.3 723.5v0M401.3 737.4v0M401.3 738.7v0M401.3 742.2v0M401.3 750.5v0M401.3 755.6v0M401.3 758.5V759.4M401.3 760.6v0M401.3 763.6v0M401.3 766.1v0M401.3 771v0M401.3 774v0M401.3 776.2v0M401.3 777.3v0M401.3 783.6v0M401.3 788.1v0M401.3 791.9v0M401.3 804v0M401.3 815.2v0M401.3 824.7V825.4M407.8 699v0M407.8 715.3v0M407.8 725.5v0M407.8 729.5v0M407.8 737.6v0M407.8 739.8v0M407.8 741.4v0M407.8 744v0M407.8 748.5v0M407.8 778.9v0M407.8 785.1v0M407.8 790v0M407.8 800.4v0M407.8 802.8v0M407.8 804.3v0M407.8 820.7v0M407.8 822.9v0M407.8 852.3v0M414.4 716.5v0M414.4 725.6v0M414.4 727V727.7M414.4 733.9V735.1M414.4 773.2v0M414.4 778.6v0M414.4 784.7v0M414.4 788v0M414.4 792.8v0M414.4 801.8v0M414.4 810v0M414.4 824.6v0M414.4 834.6v0M420.9 747v0M420.9 775.3v0M420.9 787v0M420.9 801.1v0M420.9 817.9v0M427.4 743.5v0M427.4 750.9v0M427.4 769.3v0M427.4 821.8v0M427.4 834.8v0"/>
<path class="rib" d="M80.8 732.3L96.9 734.8L113.0 737.2L129.1 739.7L145.1 742.1L161.2 744.6L177.3 747.0L193.4 749.4L209.4 751.8L225.5 754.2L241.6 756.5L257.7 758.8L273.8 761.0L289.8 763.2L305.9 765.3L322.0 767.3L338.1 769.3L354.1 771.3L370.2 773.3L386.3 775.2L402.4 777.1L418.4 779.1L434.5 781.0L450.6 782.9L466.7 784.8L466.7 792.8L450.6 790.3L434.5 787.8L418.4 785.4L402.4 782.9L386.3 780.5L370.2 778.0L354.1 775.6L338.1 773.2L322.0 770.9L305.9 768.5L289.8 766.3L273.8 764.0L257.7 761.9L241.6 759.8L225.5 757.7L209.4 755.7L193.4 753.8L177.3 751.8L161.2 749.9L145.1 747.9L129.1 746.0L113.0 744.1L96.9 742.2L80.8 740.3Z"/>
<path class="rib" d="M146.2 734.8L157.4 737.1L168.6 739.3L179.7 741.5L190.9 743.7L202.1 745.9L213.3 748.1L224.4 750.3L235.6 752.4L246.8 754.5L257.9 756.6L269.1 758.6L280.3 760.5L291.5 762.4L302.6 764.1L313.8 765.9L325.0 767.6L336.2 769.2L347.3 770.8L358.5 772.4L369.7 774.0L380.8 775.5L392.0 777.1L403.2 778.6L414.4 780.2L414.4 790.2L403.2 787.9L392.0 785.7L380.8 783.5L369.7 781.3L358.5 779.1L347.3 776.9L336.2 774.7L325.0 772.6L313.8 770.5L302.6 768.4L291.5 766.4L280.3 764.5L269.1 762.7L257.9 760.9L246.8 759.1L235.6 757.5L224.4 755.8L213.3 754.2L202.1 752.6L190.9 751.0L179.7 749.5L168.6 747.9L157.4 746.4L146.2 744.8Z"/>
<line x1="80.8" y1="736.3" x2="466.7" y2="788.8" stroke="#646665" stroke-width="3.4"/>
<line x1="146.2" y1="739.8" x2="414.4" y2="785.2" stroke="#4682b4" stroke-width="3.4"/>
<line x1="61.9" y1="842.0" x2="485.8" y2="842.0" stroke="#000" stroke-width="1.9" stroke-dasharray="7.5 7.5"/>
<path d="M61.9 587.8V911.1H485.8" fill="none" stroke="#000" stroke-width="2"/>
<text x="52.5" y="641.8" class="tk" text-anchor="end">4</text>
<text x="52.5" y="707.3" class="tk" text-anchor="end">2</text>
<text x="52.5" y="772.8" class="tk" text-anchor="end">0</text>
<text x="52.5" y="838.3" class="tk" text-anchor="end">−2</text>
<text x="52.5" y="903.8" class="tk" text-anchor="end">−4</text>
<text transform="translate(93.9 935.3) scale(1 1.08)" class="tkx" text-anchor="middle">40</text>
<text transform="translate(159.3 935.3) scale(1 1.08)" class="tkx" text-anchor="middle">50</text>
<text transform="translate(224.7 935.3) scale(1 1.08)" class="tkx" text-anchor="middle">60</text>
<text transform="translate(290.1 935.3) scale(1 1.08)" class="tkx" text-anchor="middle">70</text>
<text transform="translate(355.5 935.3) scale(1 1.08)" class="tkx" text-anchor="middle">80</text>
<text transform="translate(420.9 935.3) scale(1 1.08)" class="tkx" text-anchor="middle">90</text>
<path d="M56.9 634.7H61.9M56.9 700.2H61.9M56.9 765.7H61.9M56.9 831.2H61.9M56.9 896.7H61.9M93.9 911.1V916.1M159.3 911.1V916.1M224.7 911.1V916.1M290.1 911.1V916.1M355.5 911.1V916.1M420.9 911.1V916.1" stroke="#333" stroke-width="1.5"/>
<text transform="translate(273.9 962.1) scale(1 1.06)" class="axt" text-anchor="middle">Age (years)</text>
<text transform="translate(20.3 736.6) rotate(-90) scale(1 1.06)" class="axt" text-anchor="middle">Chromosome Y Intensity</text>
<text transform="translate(84.4 609.3) scale(1 1.07)" class="eq eqg"><tspan class="ws">y = 2.05 − 0.03 × Age, P = 8.59 × 10</tspan><tspan dx="0.4" dy="-5.4" class="sup">-40</tspan><tspan dy="5.4">, r = -0.21</tspan></text>
<text transform="translate(84.4 626.3) scale(1 1.07)" class="eq eqb"><tspan class="ws">y = 2.49 − 0.04 × Age, P = 1.24 × 10</tspan><tspan dx="0.4" dy="-5.4" class="sup">-24</tspan><tspan dy="5.4">, r = -0.23</tspan></text>
<text transform="translate(502.7 568.2) scale(1 1.05)" class="lab">F</text>
<text transform="translate(581.1 572.0) scale(1 1.07)" class="tit">Lung Cancer</text>
<path class="pg" d="M591.2 729.8v0M598 703v0M598 755v0M611.5 687.8v0M631.8 712.3v0M631.8 727.3v0M631.8 738.4v0M631.8 777.4v0M652.1 733.7v0M652.1 743.2v0M652.1 749.3v0M658.9 747.7v0M658.9 760.8v0M665.6 744.1v0M665.6 788.2v0M672.4 727.5v0M672.4 752.4v0M672.4 777.3v0M679.2 712.9v0M679.2 729.7v0M679.2 742V744.2M679.2 751.8v0M685.9 716v0M685.9 719.5v0M685.9 760.9v0M685.9 767.5V772.9M685.9 781.6v0M685.9 793.4v0M692.7 726.1V728.4M692.7 733.1v0M692.7 742.4V744.1M692.7 756.9v0M699.5 722.2V725.1M699.5 728.7v0M699.5 757.7v0M699.5 789.2v0M706.2 721.9v0M706.2 734.2v0M706.2 737.6v0M706.2 744.3v0M706.2 752.7v0M706.2 762.1v0M706.2 769.7v0M706.2 789.5v0M706.2 795.9v0M713 699.1v0M713 711v0M713 714.3v0M713 729.8V730.4M713 735.8v0M713 765.1v0M713 775.1V777.6M719.8 707.2v0M719.8 721.1v0M719.8 730.2v0M719.8 739.1v0M719.8 752.8v0M719.8 760.8V764.1M719.8 769.9v0M719.8 779.8v0M719.8 792.1v0M726.5 700.6V701.5M726.5 725.3V728M726.5 732.8V735.7M726.5 762.5V765.7M726.5 770.4v0M726.5 779.2V781.9M726.5 785.3v0M733.3 713.7v0M733.3 727.2V728M733.3 737V739.9M733.3 745.4V748.2M733.3 753.6v0M733.3 778.3v0M733.3 790.7V792.1M740.1 710.7v0M740.1 717.4v0M740.1 722.3v0M740.1 731.3v0M740.1 735.6V738.6M740.1 741.6V742.4M740.1 762.2V764.7M740.1 772v0M740.1 778.6v0M740.1 782.4v0M746.8 708.8V715M746.8 720.4v0M746.8 724.2v0M746.8 736.1V739M746.8 743.5v0M746.8 756.9v0M746.8 765.8v0M746.8 771V772.3M746.8 777.2v0M746.8 783.7v0M746.8 787.7V790.1M746.8 811.5v0M746.8 816.1v0M753.6 694.7v0M753.6 705.5v0M753.6 718.5v0M753.6 725.4V728.6M753.6 731.8v0M753.6 738.3V742.9M753.6 747.4V751.2M753.6 755.2v0M753.6 759.9v0M753.6 763.4v0M753.6 767.9v0M753.6 774v0M753.6 778.6v0M753.6 782.8v0M753.6 789.6v0M753.6 794.6v0M753.6 799.2v0M760.3 670.5v0M760.3 694.6v0M760.3 709.8V715.1M760.3 721.8V723.9M760.3 742V746.8M760.3 752.2V755.2M760.3 769.9v0M760.3 774.8v0M760.3 778.6V779.9M760.3 786.3v0M760.3 794.6V796.5M760.3 802.7V805.2M767.1 695.1V698.9M767.1 709.9V711.8M767.1 715.3v0M767.1 729V729.4M767.1 733.8v0M767.1 737.6V740.8M767.1 744.1V749.7M767.1 754.5V756.1M767.1 760.7v0M767.1 765V766.8M767.1 772.9V773.6M767.1 777.5v0M767.1 785.4V789M767.1 794.6V795.2M767.1 799v0M767.1 807.4v0M767.1 816.5V817.1M767.1 826.9v0M773.9 695.1v0M773.9 717.5v0M773.9 730.6v0M773.9 744.5V774.4M773.9 777.7v0M773.9 790.7V793.1M773.9 796.2v0M773.9 807.5v0M773.9 815.7v0M773.9 818.8V820.3M780.6 688.1v0M780.6 693.7v0M780.6 701.6v0M780.6 715.6v0M780.6 719.4V720M780.6 729v0M780.6 737.3v0M780.6 740.9v0M780.6 744.8V745.9M780.6 750.3v0M780.6 753.8V759.3M780.6 766.5v0M780.6 770.6V771.8M780.6 779.1V781.7M780.6 786v0M780.6 790.4v0M780.6 795.1V802M780.6 813.5v0M787.4 692.7v0M787.4 699v0M787.4 704.1v0M787.4 715.9V718.7M787.4 727.8V735.3M787.4 739.5V745.8M787.4 750.1V756.3M787.4 761V762.1M787.4 765.8V771.4M787.4 775.1V779.5M787.4 787.3V791.5M787.4 794.8V797.2M787.4 801.1v0M787.4 806.2v0M787.4 813.5v0M787.4 820.1v0M787.4 840.4v0M787.4 846.6v0M794.2 702.3v0M794.2 709.8v0M794.2 723.1V725.3M794.2 734.8V738M794.2 743V744.1M794.2 748.3V749.8M794.2 754.1v0M794.2 757.6V762.7M794.2 768V768.4M794.2 772.5V774.2M794.2 778.3V787.8M794.2 798.5v0M794.2 804.3v0M794.2 807.3v0M794.2 814.5v0M794.2 819v0M800.9 704.8v0M800.9 713.4v0M800.9 721.3v0M800.9 725.3V756.2M800.9 762.2V768.4M800.9 771.8V794.6M800.9 802.8V803.6M800.9 810.6V811.7M800.9 825v0M800.9 836.6v0M807.7 706.7v0M807.7 710.5v0M807.7 715.6v0M807.7 721.2V724.9M807.7 732.4V735.9M807.7 739.4V741.6M807.7 745V747.8M807.7 757.5v0M807.7 761.3V762.2M807.7 772V782.1M807.7 785.6V788.1M807.7 798V801M807.7 806.1v0M807.7 820v0M807.7 840.7v0M814.5 708.7v0M814.5 711.9V714.4M814.5 719.8v0M814.5 727.9V733.7M814.5 738.3v0M814.5 742.3v0M814.5 747V750.9M814.5 760.9V778.1M814.5 783.8v0M814.5 790.2V793.2M814.5 797.8V798.8M814.5 803V805.9M814.5 812.1v0M814.5 816.3v0M814.5 819.6v0M814.5 834.6v0M821.2 697.7v0M821.2 701.9V704.4M821.2 709.7v0M821.2 713.3v0M821.2 717.7V725.6M821.2 733.1V734.1M821.2 737.5v0M821.2 741.9v0M821.2 745.4V747.4M821.2 753.5v0M821.2 757.9v0M821.2 762.4V764.5M821.2 777.2V791.4M821.2 794.8V806.2M821.2 812.1v0M821.2 817.3v0M821.2 829.9v0M828 709.5v0M828 721.2V728.8M828 734V746.4M828 754.6V762.3M828 767.6V768M828 772.6v0M828 777.5V785M828 789V794.4M828 797.5V800.8M828 805V808.2M828 826.8v0M828 832.7v0M828 837.7v0M834.7 712.6v0M834.7 726.8V727.8M834.7 732.4v0M834.7 736.1V737.9M834.7 741.3V758.5M834.7 761.9V766.4M834.7 770.4V775.4M834.7 780.5v0M834.7 784.8V791.3M834.7 802.6v0M834.7 807.7V814.6M834.7 824.2v0M841.5 700.6v0M841.5 705.2v0M841.5 713.4v0M841.5 716.7V720.4M841.5 731.8v0M841.5 735.1V738.8M841.5 743.2v0M841.5 750.4V762M841.5 765.6V770M841.5 773.1V783M841.5 786.1V787.1M841.5 794.7v0M841.5 801V803.3M841.5 821.8V824.7M841.5 836.9v0M848.3 700.3v0M848.3 706v0M848.3 710.7v0M848.3 729.9V730.7M848.3 734.9V740.7M848.3 743.9V748.1M848.3 752.5v0M848.3 755.8v0M848.3 759.1v0M848.3 764.3V766.4M848.3 770V772.5M848.3 776.2V777.7M848.3 780.8V782.6M848.3 787.7V789.7M848.3 792.7V794.4M848.3 799.1V802.5M848.3 807.2V813M848.3 816.8v0M848.3 830.9v0M848.3 835.3v0M855 699.7V702.9M855 714.4v0M855 726.8v0M855 729.9v0M855 733.5V742.7M855 747.4v0M855 757.4v0M855 761.7v0M855 766.3v0M855 771V775.1M855 780V780.7M855 785.6v0M855 788.6V801.8M855 805.1v0M855 810.6v0M855 816V817.3M855 825.1v0M855 829.1v0M861.8 720V725M861.8 728.7v0M861.8 737.7V738.4M861.8 744.2V747.7M861.8 752.4V768.5M861.8 775.7V777.6M861.8 780.7V793.8M861.8 797.8V799M861.8 804.2V810.3M861.8 815.6v0M861.8 821.1v0M861.8 831.6V834.6M868.6 716.8v0M868.6 721.6V723.7M868.6 728.1v0M868.6 735.8V740.1M868.6 745.1V757.3M868.6 761.7V771.6M868.6 777V782.3M868.6 787.3v0M868.6 792.5V800.2M868.6 805.3V812M868.6 815.6V818M868.6 831.1V831.4M868.6 835.1v0M875.3 717.2V723.9M875.3 729v0M875.3 738V740.9M875.3 748.5v0M875.3 752.6V755.6M875.3 759.8V764.5M875.3 774.8v0M875.3 779.4v0M875.3 784.8V787.7M875.3 790.9V792.9M875.3 798.7V811.6M875.3 816.5v0M875.3 823.5v0M875.3 827.5V829M882.1 706.7v0M882.1 720.1V723.7M882.1 729.6v0M882.1 733v0M882.1 736.6V737.1M882.1 742.3V746.9M882.1 753.8v0M882.1 756.8V761M882.1 764.4V765.6M882.1 770.3V771.6M882.1 779.2V780.8M882.1 784.4V785.7M882.1 789.2V791.4M882.1 794.7V797.1M882.1 800.7V801.4M882.1 806V810.3M882.1 813.9V817.2M882.1 820.7V822.9M882.1 839.9v0M882.1 851.2v0M888.9 716.5V717.8M888.9 720.9V722.3M888.9 734.1V746M888.9 753.7V766.2M888.9 769.9v0M888.9 773.8V784.1M888.9 793.7V804.6M888.9 808v0M888.9 816V818.9M888.9 822.4v0M888.9 829.5v0M888.9 845.1v0M895.6 712.8V715.2M895.6 722.6v0M895.6 725.9v0M895.6 735.8V736.1M895.6 739.9V741.1M895.6 745.7V746.5M895.6 754.4V761.7M895.6 767.5V770.1M895.6 773.5V782.4M895.6 785.5v0M895.6 789.2v0M895.6 794.6v0M895.6 797.8V805.4M895.6 808.7v0M895.6 826.3v0M902.4 706V707M902.4 710.6v0M902.4 736.5v0M902.4 745.9v0M902.4 749.9V751.1M902.4 755v0M902.4 760.7V766.1M902.4 769.4v0M902.4 772.5v0M902.4 780.3v0M902.4 786V791.5M902.4 794.7V795.2M902.4 806.7v0M902.4 812.1V814.3M902.4 821.5V826.2M909.2 701.5v0M909.2 720.1V724.2M909.2 745.9v0M909.2 754.3V754.6M909.2 758v0M909.2 761.5v0M909.2 766.5V774.4M909.2 779.7V783.3M909.2 788.3v0M909.2 793.8V794.5M909.2 799V801.3M909.2 806.4v0M909.2 814.4V821.7M909.2 841.1v0M915.9 707v0M915.9 734.5V737.9M915.9 743.5V745.8M915.9 749.9V751.1M915.9 761.8v0M915.9 765.1V771.1M915.9 782.9V783.4M915.9 788.6V790.8M915.9 796.8v0M915.9 806.7v0M915.9 813.9V818.9M915.9 836.9v0M915.9 839.9V841.2M915.9 845.5v0M922.7 718.5V721M922.7 748.9V757.2M922.7 771.1V771.7M922.7 775V775.7M922.7 780.2v0M922.7 787.1V790.1M922.7 793.4V794.1M922.7 798.6V803.2M922.7 808.5V809.5M922.7 818.9v0M922.7 827.1v0M922.7 832.5v0M929.4 710v0M929.4 741.9V743.5M929.4 750.7V756.2M929.4 766.2V768.4M929.4 773.5V774.1M929.4 777.3V778.1M929.4 781.1V792.2M929.4 805.4v0M929.4 814.6V817.2M929.4 822.4V825.3M929.4 830.5V832.9M929.4 841.7v0M936.2 761.1v0M936.2 774.5v0M936.2 784.3v0M936.2 787.6v0M936.2 793.2v0M936.2 800.5V804.1M943 763.8v0M943 766.9v0M943 779.1v0M943 801.3v0M949.7 767.3v0M949.7 778.3v0M949.7 781.8v0M949.7 787.5V789.7M949.7 794.8V797.1M949.7 807V809.2M949.7 817.5v0M956.5 766.2v0M963.3 766.2v0M963.3 799v0M963.3 806.4v0M970 780.6v0"/>
<path class="pb" d="M618.3 729.9v0M618.3 734.5v0M625.1 697.7v0M625.1 744.3v0M631.8 770.8v0M638.6 729v0M638.6 743v0M638.6 796.8v0M645.4 711.6v0M658.9 744.6v0M658.9 772.6v0M658.9 778v0M665.6 783v0M672.4 736.8v0M672.4 740.7v0M672.4 750.5v0M672.4 756.4v0M679.2 724.2v0M679.2 755.2v0M685.9 695.9v0M685.9 724.6v0M685.9 730.1v0M685.9 736.3v0M685.9 779.4v0M692.7 662.8v0M692.7 707.6v0M692.7 744.6v0M692.7 750.1v0M692.7 831.2v0M699.5 700.5v0M699.5 714.2v0M699.5 722.3v0M699.5 739.5v0M699.5 762.6v0M699.5 799.6v0M706.2 737.6v0M706.2 745.3v0M706.2 758.7v0M706.2 802.9v0M713 701.7v0M713 736V737.4M713 742.5v0M713 750.5V750.9M713 782.8v0M713 793.8v0M719.8 697v0M719.8 736.5v0M719.8 742.2V744.4M719.8 757.9v0M719.8 766.9v0M726.5 729.8v0M726.5 745.4v0M726.5 751.4V752.1M726.5 757.5v0M726.5 760.8v0M726.5 764.3v0M726.5 825.7v0M733.3 731.4v0M733.3 736.6V739M733.3 754v0M740.1 696.5v0M740.1 717v0M740.1 737.2v0M740.1 751.8v0M740.1 758.1V758.5M740.1 767.3v0M740.1 777.7v0M746.8 691.1v0M746.8 772v0M746.8 779.1V779.8M746.8 793v0M746.8 800.5v0M753.6 780.7v0M753.6 785.3v0M753.6 790.5v0M760.3 694.5V697.4M760.3 713.9v0M760.3 717.7v0M760.3 721.5v0M760.3 730.5v0M760.3 747.9v0M760.3 753.9v0M760.3 759v0M760.3 770.8v0M760.3 775.5V776.9M760.3 783.9V784.9M760.3 793.8v0M760.3 810.3V812.5M760.3 817.7v0M767.1 692.7v0M767.1 696v0M767.1 724v0M767.1 743.6V744.7M767.1 755.6v0M767.1 781.4v0M767.1 796.7v0M767.1 808v0M767.1 820.4v0M773.9 702.7v0M773.9 717.7V718.1M773.9 732.7v0M773.9 737.4v0M773.9 757.5V761.6M773.9 778v0M773.9 785.3v0M773.9 791.5V792.9M780.6 691v0M780.6 697.1v0M780.6 716.7V717.4M780.6 725v0M780.6 729.3v0M780.6 739.8V741.7M780.6 760.8v0M780.6 790.8v0M780.6 815.1v0M787.4 681.7v0M787.4 685v0M787.4 716.9v0M787.4 729.7v0M787.4 738.3v0M787.4 742.2v0M787.4 749.6v0M787.4 763.1V765.8M787.4 770.6V773.2M787.4 779.4v0M787.4 789v0M787.4 797.4v0M787.4 822.1v0M794.2 683.8v0M794.2 710.8v0M794.2 725.8v0M794.2 743.2v0M794.2 751.1v0M794.2 756.8v0M794.2 774.9V776.4M794.2 802.2v0M794.2 821.5v0M800.9 707.4v0M800.9 718.6V722.1M800.9 737.5v0M800.9 741.2v0M800.9 747.6v0M800.9 758.9V759.8M800.9 768V768.9M800.9 778.9v0M800.9 796.8v0M800.9 802.4v0M800.9 817.2V819.3M807.7 713.2v0M807.7 743V744.2M807.7 747.7V751.7M807.7 768.7v0M807.7 776.3v0M807.7 780.9v0M807.7 807.1v0M807.7 820.3v0M807.7 833.1v0M807.7 884.7v0M814.5 710.7V712.7M814.5 720.2v0M814.5 735.4v0M814.5 745.4v0M814.5 748.9V752.1M814.5 765.8V767.1M814.5 770.4V777M814.5 789.3V794.5M814.5 803.6v0M814.5 813.1v0M821.2 712.4v0M821.2 718V718.9M821.2 724.1v0M821.2 732.3v0M821.2 747v0M821.2 751.2v0M821.2 758.1V759.7M821.2 768.8v0M821.2 800.2V800.6M821.2 804.7V805.4M821.2 817v0M828 707.6v0M828 745.2v0M828 762.1V762.7M828 772.3v0M828 801.2v0M828 807.8v0M834.7 705.3v0M834.7 713.1v0M834.7 720.3v0M834.7 725.4v0M834.7 731.3v0M834.7 736v0M834.7 748.3V749.8M834.7 758.9V761.8M834.7 767.1V768.7M834.7 774.8V780.8M834.7 792.6v0M834.7 803.5v0M841.5 700.5v0M841.5 707.7v0M841.5 715.2v0M841.5 721.3V723.2M841.5 726.8v0M841.5 739.7v0M841.5 750.8v0M841.5 756v0M841.5 760.2v0M841.5 777.3v0M841.5 783.2v0M841.5 794.8v0M841.5 807.9v0M841.5 818.3v0M841.5 823.2v0M841.5 843.1v0M848.3 702.3v0M848.3 732.7v0M848.3 746.1v0M848.3 753.5v0M848.3 761.3v0M848.3 776.3V778.8M848.3 795.7V796.4M848.3 800.1v0M848.3 804.9v0M848.3 811.2v0M848.3 820.1v0M848.3 823.2v0M848.3 831v0M855 718.6v0M855 739.9V741.5M855 765.7v0M855 772.6v0M855 778.7v0M855 788.4V793.2M855 800.3v0M855 804.1V805.1M861.8 738.5v0M861.8 748.7V749.9M861.8 759.8V761.6M861.8 772.3v0M861.8 782.1v0M861.8 797.7v0M861.8 808.4v0M868.6 730.2v0M868.6 741.8v0M868.6 746.8v0M868.6 755.7v0M868.6 777.3V782.3M868.6 807.5v0M868.6 812.9v0M868.6 828.4v0M875.3 714.5V716.9M875.3 731.3v0M875.3 740.8v0M875.3 755.1v0M875.3 763.9V766.8M875.3 773.3v0M875.3 780.8v0M875.3 789.2V789.7M875.3 803.2V805.4M875.3 816.1v0M875.3 824.4v0M875.3 843.4v0M882.1 748.9V751.4M882.1 756v0M882.1 767.8v0M882.1 773.8V774.6M882.1 780.2V781.1M882.1 788.9v0M882.1 814.9v0M888.9 721.8v0M888.9 755.7v0M888.9 772.6v0M888.9 800.8v0M888.9 811.6v0M888.9 820.1v0M895.6 694.2v0M895.6 723.9v0M895.6 744.6V749M895.6 754.9v0M895.6 767.6v0M895.6 772.3v0M895.6 776.9V779.3M895.6 794.8V797.7M895.6 802.3v0M895.6 808.1v0M902.4 734.6v0M902.4 741.3v0M902.4 747.4v0M902.4 752.6V752.9M902.4 767.4v0M902.4 776.5v0M902.4 795.9v0M902.4 803.5V803.9M909.2 735.1v0M909.2 740.3V743.3M909.2 756.3V758.6M909.2 768.2v0M909.2 786.6v0M909.2 833.3v0M909.2 882.2v0M915.9 748.5v0M915.9 784.2v0M915.9 794.1v0M915.9 805.8v0M915.9 821.2v0M915.9 837.1v0M922.7 757.3v0M922.7 777.5v0M929.4 739.9V740.6M929.4 755.5v0M929.4 758.8v0M929.4 803.1V804.2M929.4 807.9v0M929.4 822.5v0M936.2 761.3v0M936.2 809.5v0M936.2 820.2v0M943 746.2v0M943 755.9v0M943 788.9v0M949.7 763.7v0M949.7 826.1v0M956.5 740.9v0M956.5 809.2v0M963.3 805.8v0M963.3 815.5v0M970 779.8v0"/>
<path class="pg" d="M611.5 733v0M611.5 772v0M652.1 768.8v0M658.9 715.5v0M672.4 760.8v0M672.4 764.1V764.6M679.2 734.7v0M679.2 736.1v0M679.2 737.3v0M679.2 784.1v0M685.9 713.2v0M685.9 757.9v0M685.9 780.7v0M699.5 765.9v0M699.5 786.4v0M699.5 838.8v0M706.2 745.2V745.6M713 755.6v0M713 763.4v0M719.8 752.6v0M719.8 779v0M726.5 698.7v0M726.5 731v0M726.5 741.2v0M726.5 746v0M726.5 750.6v0M726.5 770.8v0M726.5 785.5v0M726.5 800v0M733.3 704.6v0M733.3 720.5v0M733.3 734.8v0M733.3 737.9v0M733.3 756.7v0M733.3 772.2v0M733.3 777.2v0M733.3 797.7v0M740.1 718.9v0M740.1 724.7v0M740.1 754.6V755.4M740.1 761.4v0M740.1 772.1v0M746.8 723.2v0M746.8 736.2v0M746.8 749.6V750.2M746.8 754.5v0M753.6 719.9v0M753.6 739.6v0M753.6 745.5v0M753.6 748.5v0M753.6 759.7v0M753.6 762.2v0M753.6 795.4v0M753.6 828.2v0M760.3 704.8v0M760.3 732.6v0M760.3 736.6v0M760.3 739.9v0M760.3 753.4v0M760.3 760v0M760.3 765.4v0M760.3 770.3V771.1M760.3 775.8v0M760.3 777.1v0M760.3 779.1v0M760.3 794.2v0M760.3 798.7v0M767.1 711.3v0M767.1 718.2v0M767.1 739.2v0M767.1 747.9v0M767.1 750.7v0M767.1 751.8v0M767.1 755.9v0M767.1 760.4v0M767.1 763.4v0M767.1 767.3v0M767.1 769.3v0M767.1 774.4v0M767.1 782.8v0M767.1 785.4v0M767.1 787.6v0M767.1 798v0M767.1 801v0M773.9 712.6v0M773.9 742.9v0M773.9 745.3v0M773.9 754.6v0M773.9 761.2V761.6M773.9 765.1V765.9M773.9 777.6v0M773.9 780.4v0M773.9 792.1v0M773.9 797.7V798.1M773.9 811.2v0M773.9 816.2v0M773.9 818v0M780.6 702.6v0M780.6 710.5v0M780.6 757.3v0M780.6 770.6v0M780.6 781.9v0M780.6 784.5v0M780.6 796.5v0M780.6 798.1v0M787.4 730.6v0M787.4 755.4v0M787.4 757.6v0M787.4 763.3v0M787.4 768.6V769.3M787.4 782.4v0M787.4 788.1v0M787.4 789.3v0M787.4 795.6v0M787.4 802v0M794.2 735.6v0M794.2 738.7V739.3M794.2 742.3v0M794.2 759.5V760.5M794.2 769.1v0M794.2 770.1v0M794.2 780.1v0M794.2 787.3v0M794.2 794.7v0M794.2 798.7v0M800.9 715.2v0M800.9 733.1V734M800.9 740.2v0M800.9 742.1v0M800.9 766.2v0M800.9 769.6v0M800.9 788.1v0M807.7 696.5v0M807.7 719.9v0M807.7 723.8v0M807.7 736.1V736.5M807.7 743.1V743.6M807.7 765v0M807.7 766.3v0M807.7 768.6v0M807.7 772.8v0M807.7 774.5v0M807.7 787v0M807.7 793v0M807.7 794.8v0M807.7 798.1v0M807.7 800.8v0M807.7 806.1v0M807.7 815.6v0M807.7 821.6v0M807.7 823.2v0M807.7 873.8v0M814.5 707.5V708.4M814.5 726.1v0M814.5 742.7V744.2M814.5 747.1v0M814.5 750.5v0M814.5 763.2v0M814.5 765.5v0M814.5 767.1v0M814.5 788.9v0M814.5 808.8v0M821.2 702v0M821.2 740.1v0M821.2 741.8v0M821.2 764.1v0M821.2 775.6v0M821.2 785.1v0M821.2 792.5v0M821.2 794.9v0M821.2 799.3v0M828 704.1v0M828 710v0M828 731.3v0M828 737.4v0M828 739.4v0M828 750.9v0M828 756v0M828 763.6v0M828 783.4v0M828 788.1v0M828 796.4v0M828 798.2v0M834.7 706.7v0M834.7 709.1v0M834.7 726.4v0M834.7 741.1v0M834.7 748.3v0M834.7 753.4v0M834.7 755.6v0M834.7 758.7v0M834.7 759.9v0M834.7 772.4v0M834.7 775.6v0M834.7 784.8v0M834.7 786.1v0M834.7 798.4v0M841.5 705.1v0M841.5 716.6v0M841.5 719.2v0M841.5 724.2v0M841.5 731.5v0M841.5 733.6v0M841.5 750.2v0M841.5 752.7v0M841.5 764v0M841.5 776.8v0M841.5 781.4v0M841.5 784.5v0M841.5 794v0M841.5 804V804.4M841.5 808.3v0M841.5 820v0M848.3 711.2v0M848.3 727.4v0M848.3 732.4v0M848.3 734.2V734.5M848.3 749.2v0M848.3 752.7v0M848.3 759.8v0M848.3 763.3v0M848.3 768.9V769.6M848.3 774v0M848.3 777.3v0M848.3 779.2v0M848.3 786.8V787.4M848.3 788.8v0M848.3 793.1v0M848.3 797.6v0M848.3 809.2v0M848.3 818v0M848.3 826.3v0M848.3 833.5v0M855 712v0M855 713.2v0M855 720.9v0M855 745v0M855 747.1v0M855 753.8v0M855 760.3v0M855 771.2v0M855 780.1v0M855 781.7v0M855 785.1v0M855 787.2v0M855 789.2v0M855 801.5v0M855 807.1v0M855 819.2v0M855 821.2v0M861.8 717.9v0M861.8 730.4v0M861.8 745.9v0M861.8 759.6v0M861.8 762v0M861.8 766.1v0M861.8 768.7v0M861.8 772.4v0M861.8 775v0M861.8 780.3v0M861.8 789.2v0M861.8 793v0M861.8 799.4v0M861.8 806.8v0M868.6 705.2v0M868.6 726.6v0M868.6 728.8v0M868.6 738.6v0M868.6 747.9v0M868.6 750v0M868.6 753.3v0M868.6 759.1v0M868.6 774.8v0M868.6 777.4v0M868.6 784.1V784.8M868.6 796v0M868.6 799.2v0M868.6 807.7v0M868.6 810.2v0M868.6 818.5v0M868.6 831.2v0M868.6 832.2v0M868.6 846.8v0M875.3 706.7v0M875.3 711.1v0M875.3 717.1v0M875.3 722.9v0M875.3 728.4V729.1M875.3 734.1v0M875.3 747.1v0M875.3 761.1v0M875.3 765.5V766.5M875.3 779.6V779.9M875.3 785.2v0M875.3 787.9v0M875.3 806.1v0M882.1 740.4v0M882.1 741.9v0M882.1 759.2v0M882.1 762.7v0M882.1 767.2v0M882.1 771V771.9M882.1 784.9v0M882.1 787.9v0M882.1 788.9v0M882.1 791.7v0M882.1 794.4V794.8M882.1 796v0M882.1 802.4v0M882.1 809V810.7M882.1 826.4v0M888.9 727.8v0M888.9 766.4v0M888.9 767.8v0M888.9 770v0M888.9 774.7v0M888.9 780.6v0M888.9 784.1V784.5M888.9 791.7v0M888.9 795.2v0M888.9 796.6v0M888.9 807.4v0M888.9 829.9v0M888.9 837.8v0M895.6 711.8v0M895.6 731.5v0M895.6 741.4v0M895.6 743.6v0M895.6 747.9v0M895.6 757.1v0M895.6 775.6V776.3M895.6 781v0M895.6 784.8v0M895.6 797.3v0M895.6 808.2v0M895.6 815.1v0M895.6 817.7v0M895.6 829.2v0M902.4 715.1v0M902.4 730.4v0M902.4 736.9v0M902.4 748.9v0M902.4 755.4v0M902.4 761.5v0M902.4 789.3v0M902.4 797.2v0M902.4 806.1v0M902.4 812v0M902.4 813v0M902.4 817.5v0M902.4 830.8v0M909.2 739.6v0M909.2 744.6v0M909.2 759.8v0M909.2 801.5v0M909.2 805.4v0M909.2 821.8v0M915.9 718v0M915.9 722.8v0M915.9 741.9v0M915.9 751.4v0M915.9 760.7v0M915.9 766.6v0M915.9 770.6v0M915.9 784.8v0M915.9 788.6v0M915.9 809.9v0M915.9 814.3v0M915.9 819.3v0M915.9 841.7v0M922.7 739.9v0M922.7 748.3v0M922.7 752.6v0M922.7 776.4v0M922.7 783.2v0M922.7 796.3v0M922.7 797.4v0M922.7 801.2v0M929.4 711.5v0M929.4 765.7v0M929.4 769.7v0M929.4 781.5v0M936.2 768.9v0M936.2 811.8v0M943 742.3v0M943 825.4v0M949.7 758.7v0M949.7 766.5v0M963.3 775.3v0M970 820.2v0"/>
<path class="rib" d="M584.5 725.8L600.5 728.5L616.6 731.3L632.7 734.0L648.7 736.7L664.8 739.4L680.9 742.1L696.9 744.8L713.0 747.4L729.1 749.9L745.1 752.4L761.2 754.8L777.3 757.0L793.3 759.1L809.4 761.1L825.4 763.1L841.5 765.0L857.6 766.8L873.6 768.6L889.7 770.4L905.8 772.2L921.8 774.0L937.9 775.7L954.0 777.5L970.0 779.2L970.0 791.2L954.0 788.6L937.9 786.1L921.8 783.6L905.8 781.0L889.7 778.5L873.6 776.0L857.6 773.6L841.5 771.1L825.4 768.8L809.4 766.4L793.3 764.2L777.3 762.0L761.2 759.9L745.1 758.0L729.1 756.2L713.0 754.5L696.9 752.8L680.9 751.2L664.8 749.6L648.7 748.0L632.7 746.4L616.6 744.9L600.5 743.3L584.5 741.8Z"/>
<path class="rib" d="M611.5 726.3L626.5 729.1L641.4 731.8L656.3 734.6L671.3 737.3L686.2 740.0L701.2 742.7L716.1 745.3L731.0 747.9L746.0 750.4L760.9 752.8L775.8 755.1L790.8 757.2L805.7 759.2L820.7 761.1L835.6 762.9L850.5 764.6L865.5 766.3L880.4 767.9L895.3 769.5L910.3 771.1L925.2 772.6L940.2 774.2L955.1 775.7L970.0 777.2L970.0 793.2L955.1 790.6L940.2 788.1L925.2 785.5L910.3 783.0L895.3 780.5L880.4 778.0L865.5 775.5L850.5 773.1L835.6 770.8L820.7 768.5L805.7 766.3L790.8 764.2L775.8 762.3L760.9 760.5L746.0 758.8L731.0 757.3L716.1 755.8L701.2 754.4L686.2 753.0L671.3 751.6L656.3 750.3L641.4 748.9L626.5 747.6L611.5 746.3Z"/>
<line x1="584.5" y1="733.8" x2="970.0" y2="785.2" stroke="#646665" stroke-width="3.4"/>
<line x1="611.5" y1="736.3" x2="970.0" y2="785.2" stroke="#4682b4" stroke-width="3.4"/>
<line x1="565.7" y1="842.0" x2="989.5" y2="842.0" stroke="#000" stroke-width="1.9" stroke-dasharray="7.5 7.5"/>
<path d="M565.7 587.8V911.2H989.5" fill="none" stroke="#000" stroke-width="2"/>
<text x="556.3" y="641.8" class="tk" text-anchor="end">4</text>
<text x="556.3" y="707.3" class="tk" text-anchor="end">2</text>
<text x="556.3" y="772.8" class="tk" text-anchor="end">0</text>
<text x="556.3" y="838.3" class="tk" text-anchor="end">−2</text>
<text x="556.3" y="903.8" class="tk" text-anchor="end">−4</text>
<text transform="translate(618.3 935.4) scale(1 1.08)" class="tkx" text-anchor="middle">40</text>
<text transform="translate(685.9 935.4) scale(1 1.08)" class="tkx" text-anchor="middle">50</text>
<text transform="translate(753.6 935.4) scale(1 1.08)" class="tkx" text-anchor="middle">60</text>
<text transform="translate(821.2 935.4) scale(1 1.08)" class="tkx" text-anchor="middle">70</text>
<text transform="translate(888.9 935.4) scale(1 1.08)" class="tkx" text-anchor="middle">80</text>
<text transform="translate(956.5 935.4) scale(1 1.08)" class="tkx" text-anchor="middle">90</text>
<path d="M560.7 634.7H565.7M560.7 700.2H565.7M560.7 765.7H565.7M560.7 831.2H565.7M560.7 896.7H565.7M618.3 911.2V916.2M685.9 911.2V916.2M753.6 911.2V916.2M821.2 911.2V916.2M888.9 911.2V916.2M956.5 911.2V916.2" stroke="#333" stroke-width="1.5"/>
<text transform="translate(777.6 962.2) scale(1 1.06)" class="axt" text-anchor="middle">Age (years)</text>
<text transform="translate(524.1 736.6) rotate(-90) scale(1 1.06)" class="axt" text-anchor="middle">Chromosome Y Intensity</text>
<text transform="translate(598.0 610.4) scale(1 1.07)" class="eq eqg"><tspan class="ws">y = 1.92 − 0.03 × Age, P = 1.03 × 10</tspan><tspan dx="0.4" dy="-5.4" class="sup">-17</tspan><tspan dy="5.4">, r = -0.23</tspan></text>
<text transform="translate(598.0 627.0) scale(1 1.07)" class="eq eqb"><tspan class="ws">y = 2.07 − 0.03 × Age, P = 1.04 × 10</tspan><tspan dx="0.4" dy="-5.4" class="sup">-8</tspan><tspan dy="5.4">, r = -0.26</tspan></text>
<text transform="translate(1009.0 568.8) scale(1 1.05)" class="lab">G</text>
<text transform="translate(1083.1 571.5) scale(1 1.07)" class="tit">Colorectal Cancer</text>
<path class="pg" d="M1093.6 723.1v0M1099 733.5v0M1104.5 708.4v0M1120.8 736.7v0M1120.8 744.4v0M1131.6 766.7v0M1137 750.4v0M1147.9 703.5v0M1147.9 706.9v0M1147.9 710.6v0M1153.3 715.7v0M1158.8 695.1v0M1158.8 721.1v0M1158.8 725.5v0M1158.8 736.6v0M1158.8 747.4V749.6M1164.2 735.5v0M1169.6 710.4v0M1169.6 728.5v0M1169.6 733v0M1169.6 767.5v0M1169.6 773.8v0M1169.6 778.2v0M1175 679.7v0M1175 719.1v0M1175 726.9v0M1175 736.6v0M1175 742.3V744.4M1175 767.3v0M1180.5 742.6v0M1180.5 751.2v0M1180.5 759v0M1180.5 774.2v0M1185.9 708.5v0M1185.9 721v0M1185.9 729.9V731M1185.9 737v0M1185.9 754.3v0M1185.9 758.9v0M1191.3 686.2v0M1191.3 697.4V698.2M1191.3 714.4v0M1191.3 719.7v0M1191.3 724.1V726.8M1191.3 742.2v0M1191.3 746.5V751.1M1191.3 756.6v0M1191.3 763.8V767.5M1191.3 772.9v0M1191.3 778.2v0M1196.8 717.4V718.1M1196.8 728V729.8M1196.8 733.1v0M1196.8 747.3V749.2M1196.8 754.5v0M1196.8 757.5V758.5M1196.8 766.2v0M1196.8 772.3V772.9M1196.8 782.2v0M1202.2 697.8v0M1202.2 720V729M1202.2 733v0M1202.2 739.8v0M1202.2 746V749.2M1202.2 762.1v0M1202.2 768.6v0M1202.2 776.1v0M1202.2 779.6v0M1202.2 783.2v0M1202.2 796.1v0M1207.6 677.8v0M1207.6 715.6v0M1207.6 719v0M1207.6 725.6v0M1207.6 731.3v0M1207.6 735v0M1207.6 740.4v0M1207.6 746.3V747.7M1207.6 753V755.3M1207.6 759.5v0M1207.6 763.5V766.6M1207.6 770.2v0M1207.6 774.5v0M1207.6 783v0M1207.6 810.5v0M1213 702v0M1213 710v0M1213 721.9V722.7M1213 747.6V754M1213 757v0M1213 764.5v0M1213 767.8v0M1213 775.1v0M1213 786.2v0M1213 794v0M1218.5 662.2v0M1218.5 679.5v0M1218.5 693.5v0M1218.5 699V702.4M1218.5 709.9V711.6M1218.5 714.7v0M1218.5 720.4v0M1218.5 725.6V726.9M1218.5 738.2V739M1218.5 742.4V742.7M1218.5 752.5v0M1218.5 757.8v0M1218.5 770.1v0M1218.5 816.6v0M1223.9 706.9v0M1223.9 711.3V712.7M1223.9 718.4V721M1223.9 724.1V728.7M1223.9 732.3V733.7M1223.9 744v0M1223.9 753.8v0M1223.9 758.6V759.3M1223.9 773.2v0M1223.9 778.9V782M1229.3 662.7v0M1229.3 676.2V678.4M1229.3 700.4v0M1229.3 712v0M1229.3 719.7V721.4M1229.3 728.6v0M1229.3 731.7v0M1229.3 735.3v0M1229.3 740.9V744.5M1229.3 753.7v0M1229.3 759.2V760.5M1229.3 764.2V766.6M1229.3 769.9v0M1229.3 774v0M1229.3 777.1v0M1229.3 781.7v0M1229.3 798.4V798.9M1234.8 657.2v0M1234.8 675.3v0M1234.8 680.7v0M1234.8 685.3V687M1234.8 693.9V694.8M1234.8 702.2v0M1234.8 709V713.9M1234.8 720.2V723.8M1234.8 728.4V729.3M1234.8 732.7v0M1234.8 738V741.2M1234.8 746.7V747.1M1234.8 750.4V755.2M1234.8 760.6v0M1234.8 766.6V770.2M1234.8 773.9V784.9M1234.8 789.7v0M1234.8 792.7V793.3M1234.8 799.4v0M1240.2 686.1V687M1240.2 697.6V701.5M1240.2 704.7v0M1240.2 708.3V710.3M1240.2 718.2v0M1240.2 721.9V733.3M1240.2 737.7v0M1240.2 743.3V744.9M1240.2 750.8V753.9M1240.2 757.5v0M1240.2 760.8V762.9M1240.2 766v0M1240.2 772.8v0M1240.2 776.2v0M1240.2 781.9v0M1240.2 787.8V788.7M1240.2 799.6v0M1240.2 805.7v0M1245.6 662.1v0M1245.6 690.8v0M1245.6 702.4V706.6M1245.6 712.1v0M1245.6 719.3V721.2M1245.6 725.1V728M1245.6 732.7V735.9M1245.6 739.1V740.3M1245.6 743.5V754.2M1245.6 758.3V760M1245.6 763.1V767.9M1245.6 771.5V774.1M1245.6 778.6V779.4M1245.6 783.3v0M1245.6 788.9V790.7M1245.6 797.2V798.9M1245.6 816.7v0M1251 677.3v0M1251 681.3v0M1251 684.9v0M1251 688.8V689.9M1251 695V697.5M1251 704.3V707.4M1251 712.5V713.8M1251 721.5V723.6M1251 733.4V735.1M1251 738.4v0M1251 745.8V756.7M1251 760.4V762.3M1251 767.7V772.9M1251 782.2V783.5M1251 787.5V796M1251 801.4v0M1251 804.6v0M1251 807.7v0M1251 816.3v0M1251 823.5v0M1256.5 664v0M1256.5 679.6v0M1256.5 692.4V695.1M1256.5 699V702.8M1256.5 706.1V709.2M1256.5 712.8V723.1M1256.5 729.3V734.5M1256.5 741.7V750.8M1256.5 759.5V763.5M1256.5 767.4V781.7M1256.5 786.5v0M1256.5 790.7v0M1256.5 796.4v0M1256.5 800.9v0M1256.5 804.1v0M1256.5 816.3v0M1256.5 823.7V824.1M1256.5 850.7v0M1261.9 705.6V737.6M1261.9 741.9V742.9M1261.9 746.2V763.8M1261.9 768.1V776.9M1261.9 785.7V787.3M1261.9 793.5v0M1261.9 801.5v0M1267.3 686.2v0M1267.3 692.5v0M1267.3 697.4V699.9M1267.3 703.4V705.2M1267.3 712.9V716.7M1267.3 719.7V721.4M1267.3 726.3v0M1267.3 729.4V734.3M1267.3 737.6V740.5M1267.3 745.1V747.5M1267.3 752.8V755.7M1267.3 759.6V769.5M1267.3 772.9V791M1267.3 796.1V800.9M1267.3 804V806.3M1267.3 812.7v0M1267.3 818.3v0M1267.3 823.7V826.2M1272.8 691.2v0M1272.8 696.1v0M1272.8 702.7V708.5M1272.8 712.8V715.6M1272.8 718.7V721.2M1272.8 726.8V745.1M1272.8 748.4V749M1272.8 752.5V764.5M1272.8 767.9V780.3M1272.8 783.4V796M1272.8 810.8V813.3M1272.8 817.6v0M1278.2 685.5V686.5M1278.2 697.3v0M1278.2 701V703.4M1278.2 706.9V710M1278.2 713.8v0M1278.2 717.4V719.9M1278.2 723.2V740.5M1278.2 744.1V750.6M1278.2 753.8V762M1278.2 766.6v0M1278.2 771.8V777.8M1278.2 784.6V793.1M1278.2 796.3V801.6M1278.2 805.9V806.6M1278.2 810.7V813.5M1278.2 817.1v0M1278.2 822.1v0M1278.2 836.6v0M1283.6 678.4v0M1283.6 683.1v0M1283.6 694.3v0M1283.6 699.5v0M1283.6 702.8v0M1283.6 706.4V737.7M1283.6 740.8V750M1283.6 755.5V766.5M1283.6 770.9V778M1283.6 781.8V784.4M1283.6 787.9V793M1283.6 796.6V804.4M1289 676.9v0M1289 681.5v0M1289 697.7V702.5M1289 707.1v0M1289 711.1V720.8M1289 724.3V741.9M1289 745.5V751M1289 754.2v0M1289 758V770.8M1289 775.8V784.2M1289 787.5V791.6M1289 796.2V797.7M1289 804.2v0M1289 807.5V809.7M1289 814.8v0M1289 847.5v0M1294.5 685.8V688.5M1294.5 692.1V696.4M1294.5 700.6V702.7M1294.5 707.5v0M1294.5 711.9V721.9M1294.5 728.6V733.4M1294.5 736.7V768.9M1294.5 772.2V781.8M1294.5 787V787.7M1294.5 791.7V797.5M1294.5 801.4V808.1M1294.5 813.4v0M1299.9 670.9v0M1299.9 676.4v0M1299.9 698.6v0M1299.9 712.8v0M1299.9 717.6V742.4M1299.9 747.9V758.4M1299.9 762.1V765.4M1299.9 768.5V769.5M1299.9 774.3V783.3M1299.9 788.1V788.8M1299.9 795.7V798.2M1299.9 802.1v0M1299.9 806.7V808.1M1299.9 813.7V818.4M1299.9 822.4v0M1299.9 837.7v0M1305.3 684.1v0M1305.3 689.2V693.9M1305.3 703.1v0M1305.3 706.2V718.5M1305.3 723.1V729.9M1305.3 734.7V749M1305.3 752.1V773.5M1305.3 777.3V781M1305.3 786.2V791.4M1305.3 794.7V798.6M1305.3 805.6v0M1305.3 810.6v0M1305.3 819.1v0M1310.7 697.4v0M1310.7 705.5V706.1M1310.7 709.5V711M1310.7 716.1V719M1310.7 723.4V728.5M1310.7 732.3V733.5M1310.7 736.7V741.3M1310.7 745.2V748.1M1310.7 752.7V778.3M1310.7 784.7v0M1310.7 788V806.2M1310.7 809.8V811M1310.7 814.1v0M1310.7 820v0M1310.7 834.2v0M1316.2 694v0M1316.2 701.9v0M1316.2 708.5v0M1316.2 711.9V718.6M1316.2 721.7V760.1M1316.2 764.4V792.3M1316.2 795.6V799.9M1316.2 807.5V814M1316.2 830V831.1M1316.2 836.4v0M1321.6 693.1v0M1321.6 702.1V704.9M1321.6 709.8V713M1321.6 717.7V728.7M1321.6 735.7V740.7M1321.6 743.7V744.5M1321.6 748.3V764.1M1321.6 769V810.4M1321.6 813.8V816.5M1327 673.6v0M1327 682.7v0M1327 694.5v0M1327 705.7V708.5M1327 712.3v0M1327 715.8v0M1327 720.4V722.2M1327 728.2V738.5M1327 742.9V773.1M1327 777.8V801.8M1327 805v0M1327 809.2V817.9M1327 822.3v0M1327 828.1v0M1327 839.3v0M1332.5 698.5V699.8M1332.5 704.2v0M1332.5 711V716.7M1332.5 720.1V726.5M1332.5 730.1V776.2M1332.5 779.5V787.6M1332.5 790.7V791.9M1332.5 796.6V800.6M1332.5 806.2V809.9M1332.5 813V814.7M1332.5 818.1V819.4M1332.5 822.5v0M1337.9 687.2v0M1337.9 703.6v0M1337.9 710.2v0M1337.9 714.8V739.3M1337.9 742.7V743.2M1337.9 746.6V792.4M1337.9 795.4V800.5M1337.9 804.9v0M1337.9 809.7v0M1337.9 814.7V815.9M1337.9 819.6V821M1337.9 829v0M1337.9 853.3v0M1343.3 705V705.4M1343.3 715.5V750.9M1343.3 754.1V777.3M1343.3 780.8V784.6M1343.3 790.4V793.6M1343.3 799.5v0M1343.3 804.6V806.1M1343.3 811.8V815.3M1343.3 822.6V824M1348.7 699.1V706.1M1348.7 712.1v0M1348.7 715.6V754.2M1348.7 757.7v0M1348.7 762.3V796.8M1348.7 800.7V810.9M1348.7 814.2v0M1348.7 822.3V825M1348.7 830.6v0M1348.7 840.5V841.9M1354.2 669.9v0M1354.2 704.3v0M1354.2 708.2v0M1354.2 713.1V721.2M1354.2 725.1V753.3M1354.2 757.3V784.5M1354.2 791.9V793.2M1354.2 797.1V800.6M1354.2 804.3V812M1354.2 816.2V821.7M1354.2 826.4v0M1359.6 654.1v0M1359.6 671.5v0M1359.6 683V685.6M1359.6 707v0M1359.6 710.8V714.2M1359.6 719.4v0M1359.6 726.2V729.1M1359.6 733.9V738.8M1359.6 742.5V796.9M1359.6 800.1V809.5M1359.6 813.9v0M1359.6 823.6v0M1359.6 839v0M1359.6 848.5v0M1365 697.5v0M1365 701.4v0M1365 709.9v0M1365 714.5v0M1365 719.1V722.9M1365 727.6V736.5M1365 741.2V747.4M1365 750.8V767.7M1365 770.8v0M1365 775.2V777.7M1365 783.9V796.5M1365 805.1V806.1M1365 814.8v0M1365 820.9V822.3M1365 825.6V828.4M1365 833.2v0M1365 836.3v0M1365 845v0M1370.5 707.6v0M1370.5 710.9v0M1370.5 719.4V751.1M1370.5 755.9V756.9M1370.5 760V761.2M1370.5 764.6V798.8M1370.5 803.8V809.4M1370.5 814.1V824.5M1370.5 837.9v0M1370.5 859.9v0M1375.9 682.5v0M1375.9 689.6v0M1375.9 694.9v0M1375.9 710.6V715.8M1375.9 725.8V740.8M1375.9 744.7V768.1M1375.9 771.7V781.8M1375.9 786V794.5M1375.9 798.9V802.4M1375.9 806.3V808.5M1375.9 811.9V816.9M1375.9 820.4V821.8M1375.9 825V827.6M1375.9 831.2v0M1375.9 836.1v0M1375.9 849v0M1375.9 853.1v0M1381.3 710.5v0M1381.3 716.2V730.6M1381.3 734.2V735.9M1381.3 740.6v0M1381.3 743.7V746.1M1381.3 749.3V767.8M1381.3 773.8V783.1M1381.3 787.6V800.4M1381.3 804.4V815.1M1381.3 819.3V825M1381.3 831.2v0M1386.7 688.3v0M1386.7 702.9v0M1386.7 708.6V709.5M1386.7 712.6V713.4M1386.7 721.3V724.2M1386.7 727.9V730.3M1386.7 737.5V745.6M1386.7 749.9V763M1386.7 766.1V786M1386.7 790V795.7M1386.7 801.2V805.4M1386.7 809.1V809.6M1386.7 815.7V820.1M1386.7 823.3V825.6M1386.7 833.3V835.1M1392.2 702.6v0M1392.2 706.8v0M1392.2 718.2V719.2M1392.2 723.2v0M1392.2 729v0M1392.2 737.2V740.3M1392.2 744.8V751.4M1392.2 755.3V775.1M1392.2 779.7V818.2M1392.2 822.1V823.7M1392.2 833.7V834.7M1392.2 842.8v0M1397.6 700.9v0M1397.6 706.6V707M1397.6 710.8V719.8M1397.6 722.8V724.3M1397.6 727.8V730.5M1397.6 736V737.2M1397.6 741.2V744.1M1397.6 747.5V765.3M1397.6 768.8v0M1397.6 772.4V778.5M1397.6 783.5V788.1M1397.6 791.4V798.2M1397.6 801.8V816.3M1397.6 825V827.7M1397.6 835.1V836.6M1397.6 839.9v0M1403 704.4v0M1403 712.7V716.4M1403 725.7V754.4M1403 758.5V763.3M1403 767.7V780.3M1403 783.5V789.6M1403 792.7v0M1403 796.6V796.9M1403 801.4v0M1403 804.6V810.7M1403 816.1V825.8M1403 833.6V834.6M1403 841.5v0M1403 848v0M1403 852.8v0M1408.5 687v0M1408.5 704.9V707.1M1408.5 713.7v0M1408.5 726.2V730.8M1408.5 734.5V744M1408.5 747.7V767.7M1408.5 773.8V779.4M1408.5 782.5V787.4M1408.5 790.9V806M1408.5 809.9v0M1408.5 817.6V820.9M1408.5 824.2v0M1408.5 829.6V831.7M1408.5 838.5v0M1408.5 871.4v0M1413.9 689.8v0M1413.9 710.5v0M1413.9 720v0M1413.9 729.6v0M1413.9 735.2V740.9M1413.9 745.5V754.8M1413.9 758.2v0M1413.9 767.8V779.5M1413.9 782.9v0M1413.9 786V794.1M1413.9 799.3V811M1413.9 814.6v0M1413.9 818.1V821.8M1413.9 827v0M1413.9 837.6v0M1413.9 852.4v0M1419.3 705.4v0M1419.3 720.9V726.5M1419.3 733.2v0M1419.3 739.6V743.8M1419.3 747.6V757.5M1419.3 760.6V769.2M1419.3 782.1V784.6M1419.3 788.3V790.4M1419.3 793.7v0M1419.3 797.2v0M1419.3 801.9v0M1419.3 806.4v0M1419.3 809.8v0M1419.3 813.2v0M1419.3 817.6v0M1419.3 834V835M1419.3 838v0M1419.3 863.9v0M1424.7 715.2v0M1424.7 725.3v0M1424.7 731.5v0M1424.7 739V744.1M1424.7 747.6V751.5M1424.7 755.4V759.3M1424.7 767.8v0M1424.7 771.4v0M1424.7 779.9V782.3M1424.7 791.2V795.2M1424.7 798.3v0M1424.7 803.1V807.6M1424.7 811v0M1424.7 820.1V821.9M1424.7 841.3v0M1430.2 714.9v0M1430.2 722.3v0M1430.2 732.7v0M1430.2 738.2v0M1430.2 742.3V743.5M1430.2 750.6v0M1430.2 757.7V760.1M1430.2 763.5v0M1430.2 770.5v0M1430.2 774.6V777.9M1430.2 783v0M1430.2 792.9V794M1430.2 799.1V801.8M1430.2 807.8V810.1M1430.2 816v0M1430.2 820.5v0M1435.6 744.2v0M1435.6 749v0M1435.6 755.8v0M1435.6 763.1v0M1435.6 772.3V773.4M1435.6 779.1v0M1435.6 785v0M1435.6 790.5v0M1435.6 803.5V804.4M1435.6 807.7v0M1435.6 832.5v0M1441 741.3V741.7M1441 752.8v0M1441 762.8V763.7M1441 768.6v0M1441 776.5v0M1441 786v0M1441 793.6v0M1441 804.1v0M1446.5 736.1v0M1446.5 744.5v0M1446.5 766.1v0M1446.5 776V776.5M1446.5 785v0M1446.5 793.2v0M1446.5 803.8v0M1446.5 871.7v0M1451.9 764.2V764.9M1451.9 770v0M1451.9 775.6v0M1451.9 790.1v0M1451.9 800v0M1451.9 822.1v0M1457.3 802.4V802.9M1473.6 792.6v0"/>
<path class="pb" d="M1120.8 696.6v0M1126.2 688.9v0M1126.2 744.2v0M1131.6 719.2v0M1142.5 757.5v0M1142.5 768.6v0M1147.9 727.3v0M1147.9 731.6v0M1147.9 749.3v0M1153.3 730.8v0M1153.3 760.3v0M1158.8 694.7v0M1158.8 725.8v0M1164.2 768.1v0M1169.6 686.1v0M1169.6 727v0M1169.6 775.5v0M1169.6 782.4v0M1175 714.2v0M1175 739.8v0M1180.5 763.3v0M1185.9 717.8v0M1185.9 779.4v0M1191.3 697.1v0M1191.3 703.3v0M1191.3 728.7v0M1191.3 734.4v0M1196.8 715.2v0M1202.2 665.9v0M1202.2 766.3v0M1202.2 783.3v0M1202.2 791.5V792.7M1207.6 708.3v0M1207.6 733.7v0M1207.6 751.3v0M1207.6 757.9v0M1207.6 781v0M1207.6 785.6v0M1207.6 819.9v0M1213 688v0M1213 710.8v0M1213 751.8v0M1213 789.6v0M1218.5 716v0M1218.5 722.4v0M1218.5 726.3v0M1218.5 746.3v0M1218.5 792.4v0M1223.9 727.3V727.8M1223.9 749.3V751.4M1223.9 787.6v0M1223.9 790.7v0M1229.3 698.1v0M1229.3 737.8v0M1229.3 757.4v0M1229.3 762v0M1234.8 690.2v0M1234.8 717.1V717.8M1234.8 757V759.4M1234.8 813.5v0M1240.2 740.9v0M1240.2 764.4v0M1240.2 774v0M1245.6 733.7v0M1245.6 741.1v0M1245.6 762.8v0M1251 741.5v0M1251 763.6v0M1256.5 702.7v0M1256.5 757.8v0M1256.5 766.4v0M1256.5 806.4v0M1261.9 695.9v0M1261.9 717.1v0M1261.9 730v0M1261.9 734.8V737M1261.9 752v0M1261.9 759.7v0M1261.9 778.1v0M1267.3 709.3v0M1267.3 713.4v0M1267.3 745.1v0M1272.8 713.3v0M1272.8 724.5v0M1272.8 739v0M1272.8 758.6v0M1272.8 773.8v0M1272.8 777.2v0M1272.8 784.8V785.8M1272.8 807.2v0M1272.8 822.1v0M1278.2 716.1v0M1278.2 760.6v0M1283.6 715.2V718.1M1283.6 738.5v0M1283.6 754v0M1283.6 774v0M1289 702.8v0M1289 706.1v0M1289 718.3v0M1289 721.3v0M1289 729.8v0M1289 739.9v0M1289 743.3v0M1289 771.2v0M1289 776.4v0M1289 789v0M1289 804.8v0M1294.5 678.7v0M1294.5 718.6v0M1294.5 736.5v0M1294.5 773.7v0M1294.5 790.1v0M1299.9 671.2v0M1299.9 702.7v0M1299.9 743.6v0M1299.9 749.4V751.4M1299.9 762.1V764M1299.9 777.7v0M1299.9 785.5v0M1299.9 803.7v0M1299.9 826.4v0M1305.3 693.1v0M1305.3 705.7v0M1305.3 714.3v0M1305.3 732.4v0M1305.3 741.9v0M1305.3 799.1v0M1310.7 759.7V761.2M1310.7 789.6v0M1310.7 796.1v0M1310.7 821.4v0M1316.2 721.7v0M1316.2 725V727.3M1316.2 730.4v0M1316.2 760.3v0M1316.2 766.2v0M1316.2 782.8v0M1316.2 794.1V794.4M1321.6 744.3v0M1321.6 751.8V753.3M1327 701.6v0M1327 737V738.9M1327 744.8v0M1327 771.5V774.3M1327 777.7V778.9M1327 791v0M1327 816.4v0M1332.5 728v0M1332.5 740v0M1332.5 754.9v0M1332.5 769.3V772.7M1337.9 714.9v0M1337.9 730.9v0M1337.9 738.7v0M1337.9 767v0M1337.9 784.5v0M1337.9 807.7v0M1337.9 820.7v0M1343.3 726.6v0M1343.3 740.4v0M1343.3 745.3v0M1343.3 755V757.8M1343.3 764.2v0M1343.3 772.2v0M1348.7 757.9V760.7M1348.7 779v0M1348.7 816.9v0M1354.2 742.1v0M1354.2 752.7v0M1354.2 763V765.6M1354.2 783.6v0M1354.2 786.8v0M1354.2 800.1v0M1359.6 698.7v0M1359.6 705.5v0M1359.6 728.3v0M1359.6 734.2v0M1359.6 745v0M1359.6 749.8v0M1359.6 784.1v0M1359.6 794.1v0M1365 753.6v0M1365 758.9v0M1365 792.3v0M1365 816v0M1365 824.6v0M1370.5 689.3v0M1370.5 730.9v0M1370.5 748.2v0M1370.5 756v0M1370.5 794v0M1370.5 839.9v0M1375.9 726.7v0M1375.9 747.8V748.2M1375.9 763.4V765.7M1375.9 775.7v0M1375.9 825.1v0M1381.3 727.2v0M1381.3 758.1v0M1381.3 766.7V767.7M1381.3 782v0M1381.3 809.6v0M1381.3 822.4v0M1386.7 758.4v0M1386.7 766.7v0M1386.7 775v0M1392.2 705.9v0M1392.2 753.5V756.4M1392.2 767.2V770M1392.2 783v0M1392.2 797.7v0M1397.6 715.8v0M1397.6 742.8v0M1397.6 766.3V767.8M1397.6 782.3v0M1397.6 801.2v0M1397.6 820.5v0M1397.6 831.6v0M1403 798.2v0M1408.5 727.7V729.5M1408.5 740.4v0M1408.5 807.7V809.1M1413.9 728.9v0M1413.9 736.7v0M1413.9 796.8V798.4M1413.9 819.2v0M1419.3 732v0M1419.3 756.7v0M1419.3 797.2v0M1419.3 802v0M1424.7 751.3v0M1424.7 781.7V783.9M1435.6 787v0M1441 772.3v0"/>
<path class="pg" d="M1115.3 735.1v0M1131.6 729.6v0M1142.5 752.5v0M1142.5 758.4v0M1158.8 719.5v0M1158.8 750.5v0M1164.2 703.2v0M1164.2 704.9v0M1164.2 742.6v0M1169.6 706.9v0M1169.6 729v0M1169.6 755.6v0M1175 740v0M1175 772.4v0M1180.5 727.3v0M1180.5 735.2v0M1180.5 739.2v0M1180.5 763.6v0M1185.9 707.2v0M1185.9 714.3v0M1185.9 717.5v0M1185.9 721.3V721.8M1185.9 735.7v0M1185.9 760v0M1185.9 764.7v0M1185.9 766.1v0M1191.3 710.2v0M1191.3 732v0M1191.3 738.1v0M1191.3 760.3v0M1191.3 764v0M1196.8 682.9v0M1196.8 700.6v0M1196.8 704.1v0M1196.8 718.3v0M1196.8 740.1v0M1196.8 741.7v0M1202.2 698.3v0M1202.2 703v0M1202.2 724.5v0M1202.2 738.2v0M1202.2 740.5v0M1207.6 712.9v0M1207.6 716.8v0M1207.6 727.6v0M1207.6 734.9v0M1207.6 736.6v0M1207.6 743.7v0M1207.6 755.5v0M1207.6 800.9v0M1213 676.1v0M1213 680.3v0M1213 704v0M1213 725.3v0M1213 731.2v0M1213 743.4v0M1213 748.3v0M1213 768.8v0M1213 789.6v0M1213 801.4v0M1218.5 696.9v0M1218.5 715v0M1218.5 716.5V717.3M1218.5 720v0M1218.5 778.2v0M1218.5 791.2v0M1218.5 793.2v0M1223.9 683.7v0M1223.9 699.2v0M1223.9 707.5V708.3M1223.9 712.4v0M1223.9 722v0M1223.9 724.1v0M1223.9 738.4v0M1223.9 746.8v0M1223.9 748.3v0M1223.9 751.2v0M1223.9 752.5v0M1223.9 757.1v0M1223.9 762v0M1223.9 764.8v0M1223.9 778.4v0M1223.9 800.7v0M1229.3 684.7v0M1229.3 702v0M1229.3 709.3v0M1229.3 721v0M1229.3 739.7v0M1229.3 747.3v0M1229.3 750.3v0M1229.3 760.6v0M1229.3 762v0M1229.3 767v0M1229.3 770.3v0M1229.3 786.7v0M1229.3 791v0M1229.3 821.6v0M1234.8 682.1v0M1234.8 708v0M1234.8 720.8v0M1234.8 722v0M1234.8 730.5v0M1234.8 731.7v0M1234.8 735v0M1234.8 742.3v0M1234.8 748.8v0M1234.8 758.3v0M1234.8 760.3v0M1234.8 762.9v0M1234.8 767.5v0M1234.8 769.4v0M1234.8 772.7v0M1234.8 789.6v0M1234.8 792.2v0M1234.8 793.6v0M1234.8 795.6v0M1240.2 681v0M1240.2 695.8v0M1240.2 697.9V698.6M1240.2 717.3v0M1240.2 721.8v0M1240.2 728.2v0M1240.2 731.4v0M1240.2 749.9V750.2M1240.2 755.6v0M1240.2 757.2v0M1240.2 763.3v0M1240.2 774.6v0M1240.2 811.6v0M1245.6 688.9v0M1245.6 703.3v0M1245.6 705.5v0M1245.6 709.7v0M1245.6 725.8v0M1245.6 732.9V733.4M1245.6 735.1v0M1245.6 736.3v0M1245.6 748.2v0M1245.6 752.3V752.6M1245.6 761v0M1245.6 767.2v0M1245.6 768.4v0M1245.6 772v0M1245.6 779.5V779.9M1245.6 793.4v0M1245.6 806.1v0M1245.6 815.3v0M1245.6 817.6v0M1251 701.8v0M1251 704.9v0M1251 713.5v0M1251 717.2v0M1251 731.7v0M1251 744v0M1251 751.5v0M1251 754.4v0M1251 757.1v0M1251 775.4v0M1251 787.1V787.6M1251 797.7v0M1251 799.2v0M1251 808.8v0M1256.5 700v0M1256.5 708.1v0M1256.5 710.4v0M1256.5 720.6v0M1256.5 722v0M1256.5 723.2v0M1256.5 730.4v0M1256.5 736V736.4M1256.5 746.9V747.3M1256.5 750.7v0M1256.5 752.3v0M1256.5 754v0M1256.5 762.8v0M1256.5 768.4v0M1256.5 774.2v0M1256.5 778v0M1256.5 785.8v0M1256.5 786.9v0M1256.5 788.8V789.8M1256.5 794.3v0M1256.5 799.3v0M1256.5 825.5v0M1261.9 684.9v0M1261.9 697.8v0M1261.9 720.8v0M1261.9 723.2v0M1261.9 724.4v0M1261.9 732.1V732.9M1261.9 734.4V734.9M1261.9 739.7v0M1261.9 740.7v0M1261.9 742.9V743.6M1261.9 758.4v0M1261.9 760.2v0M1261.9 763.2v0M1261.9 773.4v0M1261.9 778.1v0M1261.9 791.3v0M1261.9 792.8v0M1261.9 800.3v0M1261.9 807.1v0M1261.9 827.5v0M1267.3 665.2v0M1267.3 716.6v0M1267.3 725V726M1267.3 729.9v0M1267.3 731.1v0M1267.3 732.7v0M1267.3 741.6v0M1267.3 743.7v0M1267.3 751.5v0M1267.3 753.8v0M1267.3 757.5v0M1267.3 759.1v0M1267.3 769.4v0M1267.3 774v0M1267.3 778.7v0M1267.3 794.4v0M1272.8 708.2v0M1272.8 716.1V716.4M1272.8 719.4v0M1272.8 725.3v0M1272.8 729.3v0M1272.8 735.1v0M1272.8 736.7v0M1272.8 741.1V742.4M1272.8 754.1v0M1272.8 755.9v0M1272.8 764V764.9M1272.8 768.7v0M1272.8 783.3V783.8M1272.8 788.5v0M1272.8 790v0M1272.8 795.8v0M1272.8 802.7v0M1272.8 826.8v0M1278.2 701.7v0M1278.2 707.4V707.8M1278.2 709.5v0M1278.2 716.7V717.6M1278.2 720.6v0M1278.2 725.1v0M1278.2 726.7V727.6M1278.2 735.1v0M1278.2 739.1V739.5M1278.2 749.8v0M1278.2 751.8v0M1278.2 754v0M1278.2 764.3v0M1278.2 769.3v0M1278.2 774v0M1278.2 777.6V778.2M1278.2 783v0M1278.2 785.9v0M1278.2 799.1v0M1283.6 698.4v0M1283.6 701.7v0M1283.6 703.5v0M1283.6 715.6v0M1283.6 718.3V718.6M1283.6 724.8v0M1283.6 729v0M1283.6 735.1v0M1283.6 740.4V741.4M1283.6 743.5v0M1283.6 745.5v0M1283.6 749.3v0M1283.6 750.8v0M1283.6 757.7v0M1283.6 760.2v0M1283.6 761.6V762.2M1283.6 766.3v0M1283.6 769.5v0M1283.6 773.8V774.2M1283.6 784.4v0M1283.6 786.3v0M1283.6 789.7v0M1283.6 802.3V802.7M1283.6 810.1v0M1283.6 811.2v0M1289 685.9v0M1289 709.2v0M1289 715.1v0M1289 722.2v0M1289 723.8v0M1289 727.3v0M1289 728.7v0M1289 730.5V731.1M1289 733.9v0M1289 739v0M1289 746.5v0M1289 750V750.4M1289 755.8v0M1289 760.7v0M1289 762.3v0M1289 764.8v0M1289 765.9v0M1289 769.9V770.8M1289 779.5v0M1289 782.5v0M1289 800.4v0M1289 814.6v0M1294.5 706v0M1294.5 717.1v0M1294.5 727.2v0M1294.5 729.8v0M1294.5 731.3v0M1294.5 736v0M1294.5 737.1v0M1294.5 744.1v0M1294.5 749.1v0M1294.5 752.5V753.7M1294.5 755.6V756.2M1294.5 757.8v0M1294.5 760.5v0M1294.5 763.1v0M1294.5 769.6V770.5M1294.5 773.1V773.4M1294.5 776.2V777.8M1294.5 778.9v0M1294.5 788.7v0M1294.5 790.2v0M1294.5 794.4v0M1294.5 795.8v0M1294.5 811.3v0M1294.5 815.2v0M1299.9 685.2v0M1299.9 690.6v0M1299.9 693.6v0M1299.9 696.4v0M1299.9 710.3v0M1299.9 719.6V720.2M1299.9 723.3v0M1299.9 730.8v0M1299.9 737.3v0M1299.9 739.1v0M1299.9 743.7v0M1299.9 747.6v0M1299.9 751.3V752.1M1299.9 754.2v0M1299.9 756.2v0M1299.9 757.4v0M1299.9 759.6v0M1299.9 766.8v0M1299.9 769v0M1299.9 770.4v0M1299.9 772.9v0M1299.9 778.7v0M1299.9 790.5v0M1299.9 792.8v0M1299.9 795.6v0M1299.9 800.3v0M1299.9 804.8v0M1299.9 814.7v0M1305.3 690v0M1305.3 715.8v0M1305.3 721.7v0M1305.3 730.7v0M1305.3 742.1v0M1305.3 750.1V750.6M1305.3 758.1V758.6M1305.3 771.8v0M1305.3 774.6V775.2M1305.3 782v0M1305.3 789.9V790.8M1305.3 792.1v0M1305.3 793.5v0M1305.3 797.4v0M1305.3 799.8v0M1305.3 810.3v0M1305.3 846.8v0M1310.7 691.5v0M1310.7 708.2v0M1310.7 718v0M1310.7 724.9v0M1310.7 739.5V741M1310.7 743.5V744.6M1310.7 757.5v0M1310.7 761.9v0M1310.7 763v0M1310.7 764.5v0M1310.7 765.6v0M1310.7 779.4v0M1310.7 783.2V783.8M1310.7 787.1v0M1310.7 793.7V794.4M1310.7 807.1v0M1310.7 808.4v0M1316.2 701.6v0M1316.2 709v0M1316.2 722.5v0M1316.2 727.5v0M1316.2 738.1v0M1316.2 749.3v0M1316.2 751.1V752.3M1316.2 761.4V761.8M1316.2 765v0M1316.2 768V768.8M1316.2 779.3v0M1316.2 793.1v0M1316.2 796.4V797M1316.2 801v0M1316.2 802.7V803.6M1316.2 812.7v0M1316.2 821v0M1321.6 703.9V704.5M1321.6 718.4v0M1321.6 723.7v0M1321.6 724.8v0M1321.6 728.3v0M1321.6 730v0M1321.6 736.1v0M1321.6 741.9v0M1321.6 743.7v0M1321.6 745.4v0M1321.6 747.4v0M1321.6 753V754.3M1321.6 756.4v0M1321.6 758.2v0M1321.6 763.2v0M1321.6 767.7v0M1321.6 770.4v0M1321.6 773.2v0M1321.6 775.7v0M1321.6 780.1v0M1321.6 792.7V793.1M1321.6 801.7v0M1321.6 807.8v0M1321.6 812.7v0M1321.6 821.1v0M1321.6 825.8v0M1321.6 841v0M1321.6 850.9v0M1327 684.4v0M1327 699.1v0M1327 700.5v0M1327 715.3v0M1327 721.9v0M1327 727.7v0M1327 730.3v0M1327 731.4V732.7M1327 735.3v0M1327 737v0M1327 738.5v0M1327 742.3v0M1327 746.9v0M1327 753.1v0M1327 755.4V755.9M1327 758.4v0M1327 760.5V761.6M1327 762.9v0M1327 773.8v0M1327 775.8v0M1327 781.1v0M1327 786.1v0M1327 788.2v0M1327 790.5v0M1327 796.7v0M1327 798.8v0M1327 816.5v0M1327 822.2v0M1327 838v0M1332.5 685.3v0M1332.5 706.9v0M1332.5 712.7v0M1332.5 718.9v0M1332.5 721.4v0M1332.5 723.3v0M1332.5 725.2v0M1332.5 727.4v0M1332.5 729.5v0M1332.5 731.8V732.8M1332.5 738.6V739M1332.5 742.8V743.7M1332.5 753v0M1332.5 754.9v0M1332.5 758.7v0M1332.5 762.2v0M1332.5 764.1v0M1332.5 766.7v0M1332.5 778.3v0M1332.5 782.1v0M1332.5 783.5v0M1332.5 790.1v0M1332.5 800v0M1332.5 801.4V802.1M1332.5 809.5v0M1337.9 686.5v0M1337.9 697.9v0M1337.9 709.9v0M1337.9 719.9v0M1337.9 722.4V722.8M1337.9 723.9v0M1337.9 726.8V727.7M1337.9 730.1v0M1337.9 735.3v0M1337.9 737.3v0M1337.9 744.2v0M1337.9 746.3v0M1337.9 753.1v0M1337.9 757.7v0M1337.9 761.5v0M1337.9 764.2v0M1337.9 771.2v0M1337.9 773.1v0M1337.9 775.8v0M1337.9 777.9v0M1337.9 779v0M1337.9 786.9v0M1337.9 789.5v0M1337.9 792.6v0M1337.9 794.3v0M1337.9 797v0M1337.9 799.5v0M1337.9 802v0M1337.9 809.2v0M1337.9 837.9v0M1343.3 706v0M1343.3 715.2v0M1343.3 724.9V725.5M1343.3 729.2v0M1343.3 730.7v0M1343.3 732v0M1343.3 737.5v0M1343.3 739.5v0M1343.3 740.6v0M1343.3 744.9V745.7M1343.3 747.1v0M1343.3 748.8v0M1343.3 751v0M1343.3 753.2v0M1343.3 758.6v0M1343.3 759.6v0M1343.3 764.6v0M1343.3 766.9V767.5M1343.3 770.3v0M1343.3 778.8v0M1343.3 781.7V782.1M1343.3 786.3v0M1343.3 790.8v0M1343.3 794.3v0M1343.3 800.2v0M1343.3 810v0M1343.3 828.4v0M1348.7 706.9v0M1348.7 713.9v0M1348.7 718.9v0M1348.7 721.5v0M1348.7 738.7v0M1348.7 741.4V741.8M1348.7 744.2v0M1348.7 750.3V750.7M1348.7 756.2v0M1348.7 759.7V760.4M1348.7 762.4v0M1348.7 767.1v0M1348.7 772.3v0M1348.7 785.5v0M1348.7 787.1v0M1348.7 789.4V790.4M1348.7 795.8v0M1348.7 799.7v0M1348.7 803v0M1348.7 808.9v0M1348.7 811.6v0M1354.2 690.5v0M1354.2 709.7v0M1354.2 716.1v0M1354.2 717.4v0M1354.2 727.9v0M1354.2 733.9V734.8M1354.2 736.3v0M1354.2 737.7v0M1354.2 739v0M1354.2 744v0M1354.2 749.4V750.1M1354.2 752.3v0M1354.2 754.3v0M1354.2 756.1v0M1354.2 764.2V765.7M1354.2 769.7v0M1354.2 774.9v0M1354.2 776.2v0M1354.2 781.3v0M1354.2 783.4v0M1354.2 784.7V785.3M1354.2 787.8v0M1354.2 792.5V793.4M1354.2 795.5v0M1354.2 801.4v0M1354.2 807.5v0M1354.2 832.4v0M1359.6 710.3v0M1359.6 726.1V727M1359.6 733.2v0M1359.6 741.8v0M1359.6 746.8v0M1359.6 749.9v0M1359.6 751.7v0M1359.6 753.9V755M1359.6 761.4V761.9M1359.6 768.1v0M1359.6 775.3v0M1359.6 778.1v0M1359.6 779.6v0M1359.6 782v0M1359.6 784v0M1359.6 788.5v0M1359.6 797.6v0M1359.6 803.9v0M1359.6 806.2v0M1359.6 817.8v0M1359.6 821.2v0M1359.6 830.5v0M1365 700.2v0M1365 712.2v0M1365 717.6v0M1365 719.7v0M1365 722.8v0M1365 726.9V728M1365 735.5v0M1365 738.3v0M1365 741v0M1365 743.5V744.3M1365 749.5v0M1365 750.6v0M1365 759.5V760.3M1365 762.3V763M1365 765.7V766.4M1365 769.2v0M1365 773.9v0M1365 785.9v0M1365 788.8v0M1365 791.1v0M1365 793.1v0M1365 796.4v0M1365 797.4v0M1365 805.4v0M1365 809.4v0M1365 812.7v0M1370.5 685.4v0M1370.5 704.6v0M1370.5 719.6v0M1370.5 722.7v0M1370.5 728.3v0M1370.5 729.5V729.8M1370.5 743V744M1370.5 750.1v0M1370.5 754.6v0M1370.5 758.6v0M1370.5 761.4v0M1370.5 766.4v0M1370.5 775.7V776.3M1370.5 783.1v0M1370.5 788v0M1370.5 794.2v0M1370.5 800.9v0M1370.5 803.5v0M1370.5 808.9v0M1370.5 830.2v0M1375.9 692.1v0M1375.9 702.1v0M1375.9 706.5v0M1375.9 711.4v0M1375.9 717v0M1375.9 726.6v0M1375.9 734V734.9M1375.9 738.7V739.4M1375.9 749.7v0M1375.9 757.8v0M1375.9 763.6v0M1375.9 765.4v0M1375.9 773.6v0M1375.9 774.9v0M1375.9 788.7v0M1375.9 790.8V791.6M1375.9 793.6v0M1375.9 797.9v0M1375.9 801v0M1375.9 804.1v0M1375.9 809.3v0M1375.9 813.6V814.2M1375.9 825.4v0M1375.9 852.8v0M1375.9 861.4v0M1381.3 710v0M1381.3 711.6v0M1381.3 712.8v0M1381.3 718.3v0M1381.3 721.4v0M1381.3 724.7v0M1381.3 730.9v0M1381.3 732.2v0M1381.3 739.7v0M1381.3 746.1v0M1381.3 749.2v0M1381.3 752V752.6M1381.3 760.9V761.6M1381.3 762.6v0M1381.3 766.8v0M1381.3 768.1v0M1381.3 776.1v0M1381.3 785.6v0M1381.3 787.3v0M1381.3 791.6v0M1381.3 796.5v0M1381.3 808.3v0M1381.3 809.3v0M1381.3 810.8v0M1381.3 827.8V828.7M1381.3 830.4v0M1386.7 705.7v0M1386.7 716v0M1386.7 723.4v0M1386.7 726.5v0M1386.7 732v0M1386.7 733.9v0M1386.7 738.4v0M1386.7 741.6v0M1386.7 751.2v0M1386.7 752.4v0M1386.7 764.8v0M1386.7 771.4v0M1386.7 786.2V787.1M1386.7 794v0M1386.7 797v0M1386.7 798.2v0M1386.7 799.8v0M1386.7 801.5v0M1386.7 813.5v0M1386.7 818.7v0M1386.7 829.5v0M1386.7 842.5v0M1392.2 702.7v0M1392.2 730.1v0M1392.2 737.2v0M1392.2 743.5V744.1M1392.2 748.7v0M1392.2 750v0M1392.2 752v0M1392.2 757v0M1392.2 762.8V763.6M1392.2 769.6v0M1392.2 772.2v0M1392.2 774.2v0M1392.2 780.6v0M1392.2 783.1V783.4M1392.2 786.4v0M1392.2 790.4v0M1392.2 791.6V792.1M1392.2 795.3v0M1392.2 798.9v0M1392.2 811.2v0M1392.2 820.1v0M1397.6 720.7v0M1397.6 727v0M1397.6 730.5v0M1397.6 733.5v0M1397.6 737.5v0M1397.6 743.4V743.9M1397.6 748.6v0M1397.6 750v0M1397.6 755v0M1397.6 769.8v0M1397.6 773.8V774.2M1397.6 775.4v0M1397.6 778v0M1397.6 781.1v0M1397.6 786.1v0M1397.6 788.6v0M1397.6 798.1v0M1397.6 800.4v0M1397.6 822.3v0M1397.6 829.8v0M1397.6 833.1v0M1403 687.1v0M1403 693.9v0M1403 711.8v0M1403 713.8v0M1403 726.1v0M1403 727.6v0M1403 729.1v0M1403 732.2v0M1403 742.5v0M1403 744v0M1403 749.7v0M1403 751v0M1403 755.3v0M1403 764.9v0M1403 768.8v0M1403 786.8v0M1403 829.4v0M1403 833.5v0M1408.5 718.5v0M1408.5 736v0M1408.5 737.1v0M1408.5 740.8v0M1408.5 749.4V750.5M1408.5 751.9v0M1408.5 753.1v0M1408.5 754.9v0M1408.5 759.9v0M1408.5 765.2v0M1408.5 771.3v0M1408.5 774.7v0M1408.5 785.2v0M1408.5 786.9v0M1408.5 791.4v0M1408.5 793.1v0M1408.5 794.2v0M1408.5 798.9v0M1408.5 807v0M1408.5 809.7v0M1413.9 697.7v0M1413.9 713.8v0M1413.9 746.4v0M1413.9 747.7v0M1413.9 758.8v0M1413.9 760.5v0M1413.9 764.6v0M1413.9 767.5v0M1413.9 769.8v0M1413.9 771.3v0M1413.9 775.1v0M1413.9 785.6v0M1413.9 791.7v0M1413.9 801.6v0M1413.9 807.4v0M1413.9 814.6v0M1413.9 819.7v0M1413.9 824.3v0M1413.9 836.2v0M1413.9 849.9v0M1419.3 705v0M1419.3 728.2v0M1419.3 750.6v0M1419.3 757.3v0M1419.3 758.6v0M1419.3 767.1v0M1419.3 785.8v0M1419.3 798.3v0M1419.3 816V816.4M1419.3 823.3v0M1424.7 736.7v0M1424.7 739.8v0M1424.7 753.3v0M1424.7 761.2v0M1424.7 775.1v0M1424.7 778.7v0M1424.7 783.3v0M1424.7 789.9v0M1424.7 796.9v0M1424.7 816.7v0M1424.7 823.1v0M1430.2 764.7v0M1430.2 774.5V775.3M1430.2 777v0M1430.2 800.5v0M1430.2 801.6v0M1435.6 741v0M1435.6 746.1v0M1435.6 783v0M1435.6 788.1v0M1435.6 808.5v0M1446.5 778.9v0M1446.5 804v0M1457.3 802.7v0M1462.7 766.8v0M1462.7 792.1v0"/>
<path class="rib" d="M1088.2 716.2L1104.2 719.2L1120.3 722.2L1136.4 725.2L1152.4 728.2L1168.5 731.2L1184.5 734.1L1200.6 737.1L1216.7 740.0L1232.7 742.9L1248.8 745.7L1264.8 748.5L1280.9 751.2L1297.0 753.8L1313.0 756.3L1329.1 758.8L1345.1 761.3L1361.2 763.7L1377.2 766.1L1393.3 768.4L1409.4 770.8L1425.4 773.2L1441.5 775.5L1457.5 777.9L1473.6 780.2L1473.6 788.2L1457.5 785.3L1441.5 782.4L1425.4 779.5L1409.4 776.6L1393.3 773.7L1377.2 770.8L1361.2 768.0L1345.1 765.1L1329.1 762.3L1313.0 759.6L1297.0 756.9L1280.9 754.2L1264.8 751.6L1248.8 749.1L1232.7 746.7L1216.7 744.4L1200.6 742.1L1184.5 739.8L1168.5 737.5L1152.4 735.2L1136.4 732.9L1120.3 730.7L1104.2 728.4L1088.2 726.2Z"/>
<path class="rib" d="M1109.9 714.2L1123.7 717.2L1137.5 720.2L1151.3 723.1L1165.1 726.1L1178.9 729.0L1192.7 731.9L1206.5 734.8L1220.3 737.5L1234.1 740.2L1247.9 742.8L1261.7 745.2L1275.5 747.5L1289.3 749.5L1303.1 751.4L1316.9 753.2L1330.7 754.8L1344.4 756.4L1358.2 758.0L1372.0 759.5L1385.8 761.0L1399.6 762.4L1413.4 763.9L1427.2 765.3L1441.0 766.7L1441.0 786.7L1427.2 783.9L1413.4 781.1L1399.6 778.3L1385.8 775.6L1372.0 772.9L1358.2 770.2L1344.4 767.5L1330.7 764.9L1316.9 762.4L1303.1 759.9L1289.3 757.6L1275.5 755.5L1261.7 753.5L1247.9 751.7L1234.1 750.0L1220.3 748.5L1206.5 747.1L1192.7 745.8L1178.9 744.4L1165.1 743.2L1151.3 741.9L1137.5 740.7L1123.7 739.4L1109.9 738.2Z"/>
<line x1="1088.2" y1="721.2" x2="1473.6" y2="784.2" stroke="#646665" stroke-width="3.4"/>
<line x1="1109.9" y1="726.2" x2="1441.0" y2="776.7" stroke="#4682b4" stroke-width="3.4"/>
<line x1="1069.2" y1="842.0" x2="1493.0" y2="842.0" stroke="#000" stroke-width="1.9" stroke-dasharray="7.5 7.5"/>
<path d="M1069.2 587.8V911.2H1493.0" fill="none" stroke="#000" stroke-width="2"/>
<text x="1059.8" y="641.8" class="tk" text-anchor="end">4</text>
<text x="1059.8" y="707.3" class="tk" text-anchor="end">2</text>
<text x="1059.8" y="772.8" class="tk" text-anchor="end">0</text>
<text x="1059.8" y="838.3" class="tk" text-anchor="end">−2</text>
<text x="1059.8" y="903.8" class="tk" text-anchor="end">−4</text>
<text transform="translate(1109.9 935.4) scale(1 1.08)" class="tkx" text-anchor="middle">30</text>
<text transform="translate(1164.2 935.4) scale(1 1.08)" class="tkx" text-anchor="middle">40</text>
<text transform="translate(1218.5 935.4) scale(1 1.08)" class="tkx" text-anchor="middle">50</text>
<text transform="translate(1272.8 935.4) scale(1 1.08)" class="tkx" text-anchor="middle">60</text>
<text transform="translate(1327.0 935.4) scale(1 1.08)" class="tkx" text-anchor="middle">70</text>
<text transform="translate(1381.3 935.4) scale(1 1.08)" class="tkx" text-anchor="middle">80</text>
<text transform="translate(1435.6 935.4) scale(1 1.08)" class="tkx" text-anchor="middle">90</text>
<path d="M1064.2 634.7H1069.2M1064.2 700.2H1069.2M1064.2 765.7H1069.2M1064.2 831.2H1069.2M1064.2 896.7H1069.2M1109.9 911.2V916.2M1164.2 911.2V916.2M1218.5 911.2V916.2M1272.8 911.2V916.2M1327.0 911.2V916.2M1381.3 911.2V916.2M1435.6 911.2V916.2" stroke="#333" stroke-width="1.5"/>
<text transform="translate(1281.1 962.2) scale(1 1.06)" class="axt" text-anchor="middle">Age (years)</text>
<text transform="translate(1027.6 736.6) rotate(-90) scale(1 1.06)" class="axt" text-anchor="middle">Chromosome Y Intensity</text>
<text transform="translate(1100.4 619.0) scale(1 1.07)" class="eq eqg"><tspan class="ws">y = 2.03 − 0.03 × Age, P = 7.39 × 10</tspan><tspan dx="0.4" dy="-5.4" class="sup">-60</tspan><tspan dy="5.4">, r = -0.27</tspan></text>
<text transform="translate(1100.4 636.0) scale(1 1.07)" class="eq eqb"><tspan class="ws">y = 1.99 − 0.03 × Age, P = 2.01 × 10</tspan><tspan dx="0.4" dy="-5.4" class="sup">-7</tspan><tspan dy="5.4">, r = -0.28</tspan></text>
<text transform="translate(1511.8 568.2) scale(1 1.05)" class="lab">H</text>
<text transform="translate(1591.0 571.8) scale(1 1.07)" class="tit">Gastric Cancer</text>
<path class="pg" d="M1597.8 764.4v0M1609.6 720.5v0M1609.6 749.8v0M1615.5 713.8v0M1615.5 730.4v0M1615.5 741.1v0M1615.5 746.3v0M1621.5 742.9V745.1M1621.5 771.9v0M1627.4 750.9v0M1633.3 719.5v0M1633.3 755.4v0M1639.3 743.8v0M1639.3 750.4v0M1639.3 782.7v0M1645.2 719.7v0M1645.2 729.6v0M1645.2 734.3V734.8M1645.2 743.9v0M1645.2 748.5v0M1645.2 756.6v0M1645.2 792.2v0M1651.1 724.8v0M1651.1 728.8V731.3M1651.1 747.1v0M1651.1 767.8v0M1651.1 772.8v0M1657 733.9v0M1657 765.9v0M1657 777.4v0M1663 746.1v0M1663 778.6v0M1663 786v0M1668.9 717.1v0M1668.9 721.8V723.6M1668.9 774.3v0M1668.9 788.2v0M1674.8 711.7v0M1674.8 740.7v0M1674.8 748.8v0M1674.8 755.2v0M1680.8 723.7v0M1680.8 735.7v0M1680.8 743.8v0M1680.8 754.4V757.1M1680.8 780.1v0M1680.8 787.4V790M1686.7 717v0M1686.7 721.9v0M1686.7 725.9v0M1686.7 751.6v0M1686.7 765.9v0M1686.7 773.3V774.9M1686.7 778.3v0M1692.6 727.8v0M1692.6 753.5V754M1692.6 779.6v0M1692.6 789.6v0M1692.6 816.5v0M1698.6 697.3V697.9M1698.6 708.2V716.2M1698.6 723.3V724.3M1698.6 727.8v0M1698.6 731.3v0M1698.6 740.4V742.2M1698.6 749.1V750.1M1698.6 757.2V759.3M1698.6 763.2v0M1698.6 778.8V781.3M1698.6 784.9v0M1704.5 694.5v0M1704.5 715V715.9M1704.5 732.3v0M1704.5 737v0M1704.5 743.2V744.7M1704.5 748.7v0M1704.5 751.9v0M1704.5 756.7v0M1704.5 761.5v0M1704.5 768.4v0M1704.5 774.7v0M1704.5 778.8V779.7M1704.5 783.2v0M1710.4 722.5V722.9M1710.4 734.8V739.3M1710.4 745.4V746M1710.4 754.2V755.4M1710.4 764.7v0M1710.4 775.7v0M1710.4 787.5v0M1710.4 826.6v0M1716.4 703.4v0M1716.4 713.8v0M1716.4 718v0M1716.4 736.3V740.5M1716.4 745.3v0M1716.4 751.8v0M1716.4 759.8v0M1716.4 778V784.8M1716.4 798.8v0M1716.4 802.2v0M1722.3 686.7v0M1722.3 702.1V705M1722.3 713.9V716.6M1722.3 732.7v0M1722.3 737v0M1722.3 755.1V758.9M1722.3 766.5v0M1722.3 769.8v0M1722.3 774.7v0M1722.3 781.7v0M1722.3 785.2v0M1722.3 793.3v0M1722.3 797.1v0M1722.3 801.8v0M1728.2 695.1v0M1728.2 702.4V703.2M1728.2 713.4v0M1728.2 722V724.5M1728.2 727.8V728.3M1728.2 734.8v0M1728.2 741V742.2M1728.2 749.8v0M1728.2 754v0M1728.2 758v0M1728.2 761.3V764M1728.2 768.1V772M1728.2 777.2V778.9M1728.2 785.1v0M1728.2 788.4V791.3M1728.2 795V797.6M1728.2 804.2V807.1M1734.1 686.3V687.7M1734.1 699.6v0M1734.1 704v0M1734.1 710.9v0M1734.1 718.7V721.5M1734.1 727.8v0M1734.1 739.1v0M1734.1 742.6V745.9M1734.1 750.8V754.8M1734.1 760.1V761.3M1734.1 765.5v0M1734.1 771.3v0M1734.1 774.9V776.5M1734.1 779.8V781.7M1734.1 786.6v0M1734.1 795.4V798.2M1734.1 802.4v0M1734.1 814v0M1734.1 842v0M1740.1 693.5v0M1740.1 699V700.4M1740.1 707.4V710M1740.1 726.8V727.6M1740.1 732.6V733M1740.1 739V745.3M1740.1 749v0M1740.1 762.8v0M1740.1 770.6v0M1740.1 774.4V778.5M1740.1 781.6V782.1M1740.1 790.2v0M1740.1 793.8v0M1740.1 797.5v0M1740.1 813.3V813.9M1740.1 827.6v0M1746 685.3v0M1746 694.2v0M1746 708.4v0M1746 715.4v0M1746 720.7v0M1746 725.6V727M1746 730.1v0M1746 733.7v0M1746 736.8V739.2M1746 744V750M1746 764.7V771M1746 774.6v0M1746 781.5V782M1746 786.6V788.3M1746 801.3v0M1746 804.7v0M1746 815.5v0M1746 818.9v0M1746 829.4v0M1751.9 689.9v0M1751.9 697.8v0M1751.9 701.4V708M1751.9 711.4V720.5M1751.9 723.7v0M1751.9 729.5V733.6M1751.9 737.6V749.1M1751.9 753.5V761.1M1751.9 764.3V769.1M1751.9 773.8V777.8M1751.9 782.8V783.1M1751.9 786.5V790.5M1751.9 830.7v0M1757.9 680.1v0M1757.9 685.7v0M1757.9 695.5v0M1757.9 710.1v0M1757.9 713.6v0M1757.9 726.5V728.5M1757.9 735.2V736.9M1757.9 740.4v0M1757.9 748.8V761.7M1757.9 765.7v0M1757.9 769.8V773.2M1757.9 777.3V781.4M1757.9 791.3V793.7M1757.9 800.3v0M1757.9 810.4V812M1757.9 830.3v0M1757.9 840.7v0M1763.8 677.2v0M1763.8 682.6v0M1763.8 691.2v0M1763.8 700v0M1763.8 710.7V712.8M1763.8 716.8V725.8M1763.8 731.2v0M1763.8 735.9v0M1763.8 738.9V748.6M1763.8 754.4V757M1763.8 761.7V769.4M1763.8 773.3V788.1M1763.8 791.3V795.3M1763.8 799.1V802.7M1763.8 810v0M1763.8 816.1V817.1M1763.8 820.2V822.1M1763.8 830.6v0M1769.7 692.5v0M1769.7 696.6v0M1769.7 703.5v0M1769.7 710.2v0M1769.7 716.1V716.4M1769.7 720.4V736.5M1769.7 740.5V752.1M1769.7 755.2V773.4M1769.7 777.2V778.8M1769.7 783.6V793.9M1769.7 796.9v0M1769.7 802.4V808.3M1769.7 819.5v0M1769.7 823.5V826.2M1769.7 829.8v0M1775.6 668.1v0M1775.6 691.2v0M1775.6 705.6v0M1775.6 710.2v0M1775.6 715.2V721.7M1775.6 724.8V741M1775.6 744V745.6M1775.6 748.8V749.8M1775.6 754.5V755.4M1775.6 760.4V764.5M1775.6 769.3V779.8M1775.6 783.9v0M1775.6 787.2V788.1M1775.6 795.8V799.1M1775.6 815.9v0M1781.6 652.4v0M1781.6 701.3v0M1781.6 708.8V714.7M1781.6 719.5V724M1781.6 727.2V732M1781.6 735.4V748.6M1781.6 752.1V769.3M1781.6 772.8V775.2M1781.6 778.8V779.7M1781.6 783.2V784.1M1781.6 788.2V801.7M1781.6 809v0M1781.6 817.5v0M1781.6 821.4v0M1781.6 832.1v0M1787.5 678v0M1787.5 695.7v0M1787.5 707.6V709.3M1787.5 713.6V715.6M1787.5 719.9V752.5M1787.5 757.2V758M1787.5 761.2V761.9M1787.5 765.3V774.7M1787.5 778.4V778.8M1787.5 784.2v0M1787.5 787.4V812.7M1787.5 815.9v0M1787.5 833.3v0M1793.4 689.3v0M1793.4 699.5V704.7M1793.4 708.9v0M1793.4 718.9V720.3M1793.4 723.6v0M1793.4 726.6V740.4M1793.4 745.3V760.5M1793.4 764.9V766.3M1793.4 769.8V792M1793.4 796.6V803.7M1793.4 807.2V810.2M1793.4 814.9V815.2M1793.4 818.6v0M1793.4 825.9V828M1799.4 683.5v0M1799.4 702.7V704.1M1799.4 707.1V715.1M1799.4 722.4V727M1799.4 731.7V744M1799.4 748.7V755.7M1799.4 760.5V764.3M1799.4 768.3v0M1799.4 773.7v0M1799.4 777.4V779.5M1799.4 783.3V810.2M1799.4 818.1v0M1799.4 822v0M1799.4 836.8v0M1799.4 839.8v0M1805.3 673.7v0M1805.3 697.6v0M1805.3 710.2v0M1805.3 718.4V752M1805.3 757.9V781.1M1805.3 784.6V803.3M1805.3 811.3v0M1805.3 817.7v0M1805.3 824.4v0M1811.2 699.3v0M1811.2 706.4v0M1811.2 712.3v0M1811.2 715.8V716.9M1811.2 721.5V723.6M1811.2 728.8V735.2M1811.2 739.6v0M1811.2 742.6V762.9M1811.2 766.1V786.2M1811.2 791.2V795.9M1811.2 798.9V801.1M1811.2 806.4V810.1M1811.2 813.5V828.4M1811.2 833.6v0M1811.2 839v0M1817.2 677.4v0M1817.2 696v0M1817.2 699.4v0M1817.2 703V709M1817.2 712.8V715.2M1817.2 719.4V720.9M1817.2 726V731.2M1817.2 734.5V736.5M1817.2 740v0M1817.2 743.3V747.3M1817.2 750.3V795.6M1817.2 801.8V804.7M1817.2 808.9V811.4M1817.2 818.5v0M1817.2 822.4v0M1817.2 826.1v0M1817.2 852.4v0M1823.1 672.9V673.3M1823.1 702.8V707.7M1823.1 711.9V718.5M1823.1 725.8V729.5M1823.1 733.1V737.8M1823.1 742.8V771.1M1823.1 776.4V797.3M1823.1 800.5V801.4M1823.1 806.8v0M1823.1 812.6V818.1M1823.1 825.9v0M1829 699.1v0M1829 704.4V707.6M1829 711.6V715.4M1829 721.5V756.2M1829 759.6V762.1M1829 765.3V779.7M1829 783.5v0M1829 788.4V804.4M1829 809.3V812.3M1829 819.8v0M1829 829.7V832.2M1829 836.1v0M1835 699.9V702.9M1835 724.1V736.9M1835 741.3V749.2M1835 752.4V766.9M1835 770V779M1835 782.2V806.6M1835 810.7V811.3M1835 817.9V819.6M1835 826.9v0M1835 834v0M1840.9 676.9v0M1840.9 701V703.2M1840.9 707.7v0M1840.9 713.3v0M1840.9 716.5V717.7M1840.9 723.6V730.9M1840.9 737.2V740.3M1840.9 744.5V745.1M1840.9 750.6V769.8M1840.9 774V816.3M1840.9 819.6V821M1840.9 824.6v0M1840.9 832.1v0M1846.8 705.1v0M1846.8 711.6V718.2M1846.8 721.2V735.6M1846.8 739V761.5M1846.8 766.1V771.4M1846.8 775.2v0M1846.8 778.4V784.5M1846.8 787.7V789.3M1846.8 795.6V800.3M1846.8 805.8V808.2M1846.8 812.5v0M1846.8 815.8V818.2M1846.8 825V826.3M1846.8 834.8V837.7M1846.8 840.9V842.3M1846.8 852.3v0M1852.7 704.3v0M1852.7 709.9V712.1M1852.7 718.9V724.6M1852.7 730.8V732.6M1852.7 736V744.5M1852.7 748.7V752.5M1852.7 755.6V759.6M1852.7 763.3V771.7M1852.7 775.7V781.3M1852.7 785V791.3M1852.7 794.5v0M1852.7 798.4v0M1852.7 802.1V809.5M1852.7 813.6V819.7M1852.7 834.2V836.7M1858.7 710.4v0M1858.7 717V721.6M1858.7 727.6V732.8M1858.7 736.2V739.6M1858.7 743.7V749.7M1858.7 755.8V766.9M1858.7 771.3V773.8M1858.7 778.1V799.5M1858.7 803.3V812.9M1858.7 819.8V820.6M1858.7 824.5V825.4M1858.7 831.9V834.5M1864.6 682.7v0M1864.6 699.3v0M1864.6 713.5v0M1864.6 717.6v0M1864.6 721V722M1864.6 727.9V787.8M1864.6 791.6V803.4M1864.6 810.1V812.5M1864.6 817.3V821.3M1864.6 824.8v0M1864.6 831.3V834M1864.6 843.2V844.9M1864.6 866.1v0M1870.5 708v0M1870.5 713V716M1870.5 722.5V741.3M1870.5 746.9V765.2M1870.5 768.8V782.1M1870.5 785.2V793.8M1870.5 798.8V800.5M1870.5 804.3V807.1M1870.5 811v0M1870.5 814.5V814.9M1870.5 818.6V820.9M1870.5 842.5v0M1876.5 687.8v0M1876.5 705v0M1876.5 716.4v0M1876.5 725.7V731.7M1876.5 737.8V749.6M1876.5 754.7V763.5M1876.5 767.3V772.6M1876.5 776.3V784.2M1876.5 787.7V797.3M1876.5 800.4V805.7M1876.5 809.8V812.2M1876.5 821.4V822.3M1876.5 827.2V828.6M1876.5 837.8v0M1876.5 841.5V841.9M1876.5 846.8v0M1876.5 855.6v0M1882.4 709.6v0M1882.4 714.6V715.7M1882.4 726.6v0M1882.4 729.9V736M1882.4 739.5V743.9M1882.4 747.9V749.8M1882.4 754.4V755.6M1882.4 759.3V776.5M1882.4 785.5V799.7M1882.4 804.2V813.9M1882.4 817.3v0M1882.4 823.1v0M1882.4 830.2V831.3M1882.4 835.6V837.3M1882.4 855.9v0M1888.3 679.3v0M1888.3 720.5v0M1888.3 723.7V728.2M1888.3 731.6V732M1888.3 737.5V751.5M1888.3 755.3V779.8M1888.3 784V790.3M1888.3 793.3V795.6M1888.3 807V810.2M1888.3 814.1V828.7M1888.3 838.6v0M1894.2 720.2v0M1894.2 724.3v0M1894.2 728.5v0M1894.2 735.1V735.9M1894.2 742.9V745.2M1894.2 749.8V750.7M1894.2 755.5V756.5M1894.2 759.6V760.5M1894.2 766.4V770.7M1894.2 774.4V782.8M1894.2 786.5V787M1894.2 793.4V796M1894.2 799.9V810.2M1894.2 817.7v0M1894.2 822.8v0M1894.2 827V827.6M1894.2 833.7V834.5M1894.2 848V853.1M1900.2 699.4v0M1900.2 708v0M1900.2 715.4V716M1900.2 720v0M1900.2 723v0M1900.2 727.8V730.6M1900.2 735.1V736.9M1900.2 740.5v0M1900.2 751.7v0M1900.2 759.5V770.6M1900.2 776.7V786.4M1900.2 791V794.9M1900.2 803v0M1900.2 809.5V810M1900.2 817.9v0M1900.2 826.7v0M1900.2 832v0M1900.2 851.4v0M1906.1 724.2v0M1906.1 732.8v0M1906.1 737.9V743.8M1906.1 749.7V752.3M1906.1 758.7v0M1906.1 765V768M1906.1 772.7V775.1M1906.1 783V783.8M1906.1 789.3V796.7M1906.1 806.2V809M1906.1 815.7v0M1906.1 822v0M1906.1 825.8v0M1906.1 833.1V835.7M1906.1 839.4V841.8M1906.1 857.6V859.6M1912 748.8v0M1912 758.2v0M1912 763.3v0M1912 771.8v0M1912 776v0M1912 783.7v0M1912 793.8V795.7M1912 799v0M1912 822V823.7M1918 730.4v0M1918 764.9v0M1918 770.9v0M1918 776v0M1918 781.4v0M1918 786.6v0M1918 794.3v0M1918 810v0M1918 823.9V824.7M1923.9 753v0M1923.9 758.7v0M1923.9 775.4V776.8M1923.9 831.4v0M1929.8 784.8v0M1935.8 743.9v0M1935.8 754.9v0M1935.8 780.7v0M1941.7 766.6v0M1941.7 770.3v0M1941.7 781.6v0M1947.6 773.2v0M1959.5 774.2v0M1965.4 811.6v0M1971.3 767.2v0"/>
<path class="pb" d="M1674.8 716.9v0M1674.8 746.7v0M1674.8 786.3v0M1680.8 729.1v0M1686.7 781.5v0M1692.6 769.8v0M1698.6 757.4v0M1698.6 780.1v0M1698.6 803.7v0M1710.4 752v0M1716.4 737.8v0M1716.4 755.1v0M1728.2 736.1v0M1734.1 745v0M1734.1 781v0M1751.9 721.8v0M1751.9 755.6v0M1751.9 761.6v0M1751.9 791.9v0M1763.8 751.1v0M1769.7 779.5v0M1775.6 751.6V752M1781.6 780.5v0M1781.6 784.3v0M1781.6 822v0M1787.5 736.4v0M1787.5 766.5v0M1793.4 748.3v0M1793.4 774.9v0M1799.4 750.8v0M1799.4 773.1v0M1805.3 811.4V814.2M1811.2 729.4V729.8M1817.2 750.4v0M1817.2 780.1v0M1817.2 837.4v0M1823.1 749.2v0M1829 728.2v0M1829 770.6v0M1829 801.6v0M1835 758.2v0M1840.9 741.5v0M1840.9 765.5v0M1840.9 823.6v0M1846.8 749.8v0M1852.7 798.4v0M1858.7 812.1v0M1864.6 682.7v0M1864.6 714.1v0M1864.6 748.5v0M1864.6 752.2v0M1864.6 761.2v0M1864.6 766.6v0M1864.6 789.1v0M1864.6 819.1v0M1876.5 746.9v0M1888.3 758.2v0M1894.2 743.5v0M1900.2 820.2v0"/>
<path class="pg" d="M1591.8 744.9v0M1597.8 713.4v0M1603.7 779.2v0M1609.6 737.5v0M1627.4 723.7v0M1633.3 743v0M1639.3 757.1v0M1645.2 741.2v0M1651.1 706.4v0M1663 758.9v0M1668.9 716.5v0M1668.9 731.9v0M1668.9 753.3v0M1674.8 719.8v0M1674.8 737.4v0M1674.8 780.6v0M1686.7 699.5v0M1686.7 717.1v0M1686.7 729.2v0M1686.7 731v0M1686.7 748.8v0M1686.7 756.5v0M1686.7 765v0M1686.7 784.8v0M1692.6 755.5v0M1698.6 739.3v0M1698.6 772.2v0M1704.5 719v0M1704.5 743.9v0M1704.5 783.8v0M1704.5 786.7v0M1710.4 746.4v0M1710.4 761.1v0M1710.4 769.8v0M1716.4 717.8v0M1716.4 719.5v0M1716.4 741.6v0M1716.4 768.6v0M1716.4 783.6v0M1716.4 787.5v0M1722.3 695.1v0M1722.3 725.2v0M1722.3 776.9v0M1722.3 780.8v0M1728.2 677.2v0M1728.2 713v0M1728.2 720.2v0M1728.2 767.4v0M1728.2 769.2v0M1728.2 770.5v0M1728.2 772.8v0M1728.2 777.2v0M1728.2 787v0M1728.2 811.7v0M1728.2 820v0M1734.1 705.6v0M1734.1 714.4v0M1734.1 731.4V731.9M1734.1 734.2v0M1734.1 742.7V743M1734.1 747.9v0M1734.1 756.7v0M1734.1 760.2v0M1734.1 773.5v0M1734.1 787.4v0M1734.1 795.5v0M1734.1 805.5v0M1740.1 693.3v0M1740.1 708.1v0M1740.1 732.8v0M1740.1 735.4V736.3M1740.1 746.6v0M1740.1 748.2v0M1740.1 772.9v0M1740.1 774.7v0M1740.1 799.2v0M1740.1 801.6v0M1740.1 812.5v0M1746 719.3V720.1M1746 722.3V722.7M1746 737.7V738.4M1746 741.3v0M1746 746.7v0M1746 750.1v0M1746 755.5v0M1746 758.5v0M1746 761.6V761.9M1746 781.5v0M1746 783.9v0M1746 787.7v0M1746 799.1v0M1746 807.3v0M1746 812.5v0M1746 816v0M1751.9 725.8v0M1751.9 732.4v0M1751.9 735.4v0M1751.9 745.3v0M1751.9 757.3v0M1751.9 761.9v0M1751.9 764.3v0M1751.9 766.5v0M1751.9 775.5v0M1751.9 784.8v0M1751.9 788.4v0M1751.9 793.3v0M1751.9 798.6v0M1751.9 806.1v0M1751.9 808.4v0M1751.9 817.9v0M1751.9 820.4v0M1757.9 702.1v0M1757.9 718.9v0M1757.9 729.5v0M1757.9 730.9v0M1757.9 748.2v0M1757.9 750.2v0M1757.9 761.5v0M1757.9 768.1v0M1757.9 769.9v0M1757.9 775.5v0M1757.9 778.4v0M1757.9 790.8v0M1757.9 800.7v0M1757.9 808.1v0M1757.9 821.8v0M1763.8 703.7v0M1763.8 713.9v0M1763.8 722.2v0M1763.8 734v0M1763.8 738.5v0M1763.8 741v0M1763.8 746.2v0M1763.8 747.5v0M1763.8 748.8v0M1763.8 756.5v0M1763.8 757.5v0M1763.8 760.5v0M1763.8 762.4v0M1763.8 763.6v0M1763.8 767.3v0M1763.8 769.9v0M1763.8 773.2v0M1763.8 778.5v0M1763.8 786.7v0M1769.7 699.3v0M1769.7 720.4v0M1769.7 733.5v0M1769.7 739.9V741.5M1769.7 747.4v0M1769.7 754v0M1769.7 756.1v0M1769.7 768.1v0M1769.7 770.9v0M1769.7 779.4v0M1769.7 783v0M1769.7 797.4v0M1769.7 807.8v0M1775.6 686.8v0M1775.6 696.9v0M1775.6 701.1v0M1775.6 708.1v0M1775.6 715.5v0M1775.6 717.8v0M1775.6 719v0M1775.6 721v0M1775.6 726.3V727.1M1775.6 731.8v0M1775.6 733.4v0M1775.6 735.7v0M1775.6 737.4v0M1775.6 740.4v0M1775.6 742.7v0M1775.6 750.5v0M1775.6 762.5v0M1775.6 763.6v0M1775.6 764.7v0M1775.6 776.8v0M1775.6 791v0M1775.6 793.3v0M1775.6 810.8v0M1775.6 814.4v0M1775.6 817.1v0M1775.6 827.2v0M1775.6 837.2v0M1781.6 707.7v0M1781.6 711V711.6M1781.6 714.2v0M1781.6 715.3v0M1781.6 719.5V720.2M1781.6 727.7v0M1781.6 731.1v0M1781.6 742v0M1781.6 747V747.3M1781.6 748.7v0M1781.6 750v0M1781.6 752.9v0M1781.6 759.4v0M1781.6 764.3V765M1781.6 768.9v0M1781.6 785.2v0M1781.6 789.1v0M1781.6 793.3v0M1781.6 799v0M1781.6 802.8v0M1787.5 704v0M1787.5 728.2v0M1787.5 731.6v0M1787.5 733.5v0M1787.5 738.6v0M1787.5 743.9v0M1787.5 747.1v0M1787.5 749.4v0M1787.5 760.8v0M1787.5 764.7V765.6M1787.5 770v0M1787.5 774.3v0M1787.5 777.2v0M1787.5 791.3v0M1787.5 802.4v0M1787.5 809.3V810.4M1787.5 815.6v0M1787.5 835.5v0M1787.5 839.1v0M1793.4 714.4v0M1793.4 725.1v0M1793.4 728.6v0M1793.4 731v0M1793.4 732.2v0M1793.4 735.1v0M1793.4 736.5v0M1793.4 738.2v0M1793.4 740.1v0M1793.4 747.1v0M1793.4 748.4v0M1793.4 749.9v0M1793.4 754.3v0M1793.4 758.8v0M1793.4 761.7v0M1793.4 765.7v0M1793.4 767.3V768.9M1793.4 771.9v0M1793.4 774.4V775.1M1793.4 776.2V776.8M1793.4 781.7V782.5M1793.4 799.7v0M1793.4 812.1v0M1799.4 707.9v0M1799.4 711.2v0M1799.4 720.4v0M1799.4 728.5v0M1799.4 766.6v0M1799.4 770.7v0M1799.4 773.1v0M1799.4 777.1v0M1799.4 779.2V779.8M1799.4 781v0M1799.4 786.3v0M1799.4 787.6v0M1799.4 792.3v0M1799.4 794.5v0M1799.4 816.2v0M1799.4 820.1V821M1805.3 710.7v0M1805.3 716.3v0M1805.3 740.2v0M1805.3 741.8v0M1805.3 743.5v0M1805.3 748.9v0M1805.3 755.9v0M1805.3 758.6v0M1805.3 765.1V765.7M1805.3 779.9v0M1805.3 791.8v0M1805.3 794v0M1805.3 796.3v0M1805.3 797.5v0M1805.3 799.6v0M1805.3 801.6v0M1811.2 689.6v0M1811.2 730.2V730.8M1811.2 732.4v0M1811.2 739.8v0M1811.2 741.7v0M1811.2 744.9V745.4M1811.2 752.8V753.7M1811.2 757.2V757.5M1811.2 761.1v0M1811.2 765.2v0M1811.2 768.3v0M1811.2 769.7V770.8M1811.2 775.2v0M1811.2 778.9V781.2M1811.2 785v0M1811.2 787.7v0M1811.2 789.2V789.6M1811.2 790.7v0M1811.2 794.1v0M1811.2 796v0M1811.2 804.9v0M1811.2 806.9v0M1811.2 824.4v0M1817.2 667.5v0M1817.2 700.6v0M1817.2 715.5v0M1817.2 719.8v0M1817.2 721.2V721.8M1817.2 740v0M1817.2 751.2v0M1817.2 760v0M1817.2 761.9v0M1817.2 763.6v0M1817.2 776.1v0M1817.2 777.8v0M1817.2 782.1v0M1817.2 783.5v0M1817.2 795.2v0M1817.2 799.5v0M1817.2 806.6v0M1817.2 808v0M1817.2 812.6v0M1817.2 821.5v0M1817.2 825.1v0M1817.2 833.4v0M1817.2 841.1v0M1823.1 688.8v0M1823.1 714.9v0M1823.1 720.6v0M1823.1 724.5v0M1823.1 730.8v0M1823.1 737.4v0M1823.1 742.6v0M1823.1 745.6v0M1823.1 749v0M1823.1 750.2v0M1823.1 754.1v0M1823.1 755.6v0M1823.1 759.6v0M1823.1 762.9v0M1823.1 768.7v0M1823.1 781.9V782.6M1823.1 786.4v0M1823.1 808.6v0M1823.1 810.4v0M1823.1 814.3v0M1823.1 837.3v0M1829 705.3v0M1829 731.7v0M1829 733.5v0M1829 736.3v0M1829 741.4V742.4M1829 744.3v0M1829 751.1v0M1829 752.2v0M1829 757.5v0M1829 765v0M1829 767.4v0M1829 769.9v0M1829 777.6v0M1829 791.1V791.6M1829 800.1v0M1829 803.4v0M1829 806.6v0M1829 809.5v0M1829 812.3v0M1829 850v0M1835 700.2v0M1835 705.7v0M1835 715.6v0M1835 719.4v0M1835 723.7V724.5M1835 731.2v0M1835 733.7v0M1835 737v0M1835 738.5v0M1835 740.3v0M1835 744.2v0M1835 746.6V747.2M1835 748.8v0M1835 750.6v0M1835 754.9v0M1835 757.5v0M1835 761.1v0M1835 762.8v0M1835 763.9v0M1835 769.2V770.8M1835 777.3v0M1835 783.9v0M1835 787.5v0M1835 788.7v0M1835 794v0M1835 795.8v0M1835 798.3v0M1835 800v0M1835 804.6v0M1835 812.4v0M1835 822v0M1835 823.1v0M1840.9 710.5V711.4M1840.9 712.8v0M1840.9 717.9v0M1840.9 719.9v0M1840.9 721.7v0M1840.9 729.9v0M1840.9 732.5v0M1840.9 740v0M1840.9 750.5v0M1840.9 751.8v0M1840.9 753.6v0M1840.9 756.4V757.1M1840.9 760.9v0M1840.9 762.5v0M1840.9 765.6v0M1840.9 769.7v0M1840.9 774.2v0M1840.9 776.4V777.3M1840.9 780.3v0M1840.9 783.6V784.1M1840.9 790.7v0M1840.9 795.3V795.9M1840.9 798.7v0M1840.9 810.2v0M1840.9 819V819.5M1840.9 829.5v0M1846.8 691.3v0M1846.8 711.6v0M1846.8 730.1v0M1846.8 733.7v0M1846.8 735.8v0M1846.8 742.3v0M1846.8 746.6v0M1846.8 748.3v0M1846.8 756.7v0M1846.8 759.6v0M1846.8 765.1V766M1846.8 777.9v0M1846.8 782V782.4M1846.8 787.8V789.3M1846.8 790.9V791.7M1846.8 795.3V795.7M1846.8 797.4v0M1846.8 802v0M1846.8 804.2v0M1846.8 809.1v0M1846.8 810.8v0M1846.8 817.6v0M1846.8 824V824.6M1846.8 829.4v0M1846.8 833.2v0M1846.8 841.2v0M1852.7 724.7v0M1852.7 727v0M1852.7 738.2V740M1852.7 741.6v0M1852.7 744.1v0M1852.7 746v0M1852.7 749.1v0M1852.7 755.3V755.9M1852.7 758.5v0M1852.7 761.2v0M1852.7 766.2V766.9M1852.7 771.2v0M1852.7 775.9v0M1852.7 777.8v0M1852.7 780.1v0M1852.7 783.6v0M1852.7 785v0M1852.7 786.4V786.9M1852.7 789.7v0M1852.7 792.7v0M1852.7 794.7v0M1852.7 798.3v0M1852.7 799.9v0M1852.7 807.5v0M1852.7 815.7v0M1852.7 822.6v0M1852.7 830.7V831.4M1852.7 835.2v0M1858.7 716.7v0M1858.7 720.3v0M1858.7 724.9v0M1858.7 729.2v0M1858.7 740.8V741.4M1858.7 748.4v0M1858.7 751.7v0M1858.7 754.2v0M1858.7 757.6v0M1858.7 760.8v0M1858.7 773.6v0M1858.7 775.8v0M1858.7 778.2v0M1858.7 780.9v0M1858.7 783.6v0M1858.7 785.6v0M1858.7 787v0M1858.7 789.8v0M1858.7 797.9v0M1858.7 803.2v0M1858.7 805.7v0M1858.7 814.5v0M1858.7 821v0M1858.7 825.1v0M1858.7 826.6V827.5M1864.6 726.8v0M1864.6 739.7v0M1864.6 742v0M1864.6 756.3v0M1864.6 759.1v0M1864.6 763.7v0M1864.6 770.6V772.4M1864.6 774v0M1864.6 780.3v0M1864.6 782.7v0M1864.6 786.2v0M1864.6 792.6v0M1864.6 801.7V802.2M1864.6 803.6v0M1864.6 805.9v0M1864.6 814.2V815.4M1864.6 817.2v0M1864.6 834.6v0M1864.6 845.5v0M1870.5 711.4v0M1870.5 745.5v0M1870.5 748.1v0M1870.5 757v0M1870.5 770.6v0M1870.5 773.9V774.9M1870.5 780.5v0M1870.5 784.3V784.8M1870.5 787.2v0M1870.5 791.9v0M1870.5 799.3v0M1870.5 801v0M1870.5 815.7v0M1870.5 824.1v0M1870.5 827v0M1870.5 832.4v0M1876.5 721.2v0M1876.5 727v0M1876.5 731.6v0M1876.5 734.9v0M1876.5 737.1v0M1876.5 741.4v0M1876.5 753.5v0M1876.5 760.4v0M1876.5 761.5v0M1876.5 778.8v0M1876.5 781.1v0M1876.5 782.3v0M1876.5 787.8v0M1876.5 790.1v0M1876.5 791.5v0M1876.5 794.8v0M1876.5 806.4v0M1876.5 812.7v0M1876.5 814.7v0M1876.5 817.7V818.2M1876.5 829.4v0M1882.4 719.5v0M1882.4 728.7v0M1882.4 732.7v0M1882.4 742.9v0M1882.4 746.3v0M1882.4 748.5v0M1882.4 753.3v0M1882.4 755.5V756.2M1882.4 759.7v0M1882.4 761v0M1882.4 764v0M1882.4 765.2v0M1882.4 769.7V770M1882.4 792.4V795.3M1882.4 796.9v0M1882.4 798v0M1882.4 805v0M1882.4 818.8V819.4M1882.4 820.6v0M1882.4 826.7v0M1882.4 828.1v0M1882.4 837.8v0M1888.3 725v0M1888.3 727.6v0M1888.3 734.7v0M1888.3 747.3v0M1888.3 749.1v0M1888.3 758.4v0M1888.3 763.1v0M1888.3 766.4v0M1888.3 768.1v0M1888.3 770.1v0M1888.3 774.1v0M1888.3 788.9v0M1888.3 793.4v0M1888.3 795.6v0M1888.3 814v0M1888.3 816.1v0M1888.3 840.3v0M1888.3 849.8v0M1888.3 857.4v0M1894.2 728.8v0M1894.2 730v0M1894.2 741.8v0M1894.2 747.3V748.6M1894.2 755v0M1894.2 764.6v0M1894.2 767.1v0M1894.2 775.2v0M1894.2 778.6v0M1894.2 787.5V787.9M1894.2 795.6v0M1894.2 800.8v0M1894.2 814.5v0M1900.2 717.6v0M1900.2 720.2v0M1900.2 727.2v0M1900.2 748.1v0M1900.2 766.4v0M1900.2 775.7v0M1900.2 780v0M1900.2 792.7v0M1900.2 795.2v0M1900.2 796.8v0M1900.2 805.1v0M1900.2 817.6v0M1900.2 820.9v0M1900.2 827.5v0M1900.2 836.7v0M1906.1 699.8v0M1906.1 721v0M1906.1 729.8v0M1906.1 741v0M1906.1 752.8v0M1906.1 758.1V759.1M1906.1 761.2v0M1906.1 770.9v0M1906.1 791.4v0M1906.1 793v0M1906.1 806.9v0M1906.1 807.9v0M1912 738.3v0M1912 740.9v0M1912 753.5v0M1912 819.7V820.5M1912 827.6v0M1918 721.3v0M1918 749.1v0M1918 755.8v0M1918 763.7v0M1918 765.6v0M1918 772.9v0M1918 780.9v0M1918 803.8v0M1923.9 756.5v0M1923.9 762.8v0M1923.9 785.3v0M1923.9 795.3v0M1929.8 747v0M1929.8 809v0M1935.8 765.9v0M1935.8 785.9v0M1953.6 786.5v0"/>
<path class="rib" d="M1591.8 726.3L1607.9 729.2L1623.9 732.0L1640.0 734.9L1656.1 737.7L1672.1 740.5L1688.2 743.3L1704.2 746.1L1720.3 748.9L1736.4 751.6L1752.4 754.2L1768.5 756.8L1784.5 759.3L1800.6 761.7L1816.7 764.0L1832.7 766.2L1848.8 768.4L1864.8 770.6L1880.9 772.7L1897.0 774.8L1913.0 776.9L1929.1 779.0L1945.1 781.1L1961.2 783.2L1977.3 785.3L1977.3 795.3L1961.2 792.5L1945.1 789.7L1929.1 787.0L1913.0 784.3L1897.0 781.5L1880.9 778.8L1864.8 776.1L1848.8 773.5L1832.7 770.8L1816.7 768.3L1800.6 765.7L1784.5 763.3L1768.5 760.9L1752.4 758.7L1736.4 756.5L1720.3 754.4L1704.2 752.3L1688.2 750.3L1672.1 748.2L1656.1 746.2L1640.0 744.2L1623.9 742.2L1607.9 740.3L1591.8 738.3Z"/>
<path class="rib" d="M1657.1 723.4L1667.4 726.7L1677.8 729.9L1688.2 733.1L1698.6 736.3L1708.9 739.4L1719.3 742.4L1729.7 745.4L1740.1 748.3L1750.4 750.9L1760.8 753.4L1771.2 755.4L1781.6 757.1L1792.0 758.4L1802.3 759.6L1812.7 760.7L1823.1 761.7L1833.5 762.7L1843.8 763.5L1854.2 764.3L1864.6 765.1L1875.0 765.8L1885.4 766.5L1895.7 767.1L1906.1 767.7L1906.1 795.7L1895.7 793.6L1885.4 791.4L1875.0 789.3L1864.6 787.2L1854.2 785.2L1843.8 783.2L1833.5 781.3L1823.1 779.5L1812.7 777.7L1802.3 776.1L1792.0 774.5L1781.6 773.1L1771.2 771.9L1760.8 771.2L1750.4 770.9L1740.1 770.8L1729.7 770.8L1719.3 771.0L1708.9 771.3L1698.6 771.7L1688.2 772.1L1677.8 772.5L1667.4 772.9L1657.1 773.4Z"/>
<line x1="1591.8" y1="732.3" x2="1977.3" y2="790.3" stroke="#646665" stroke-width="3.4"/>
<line x1="1657.1" y1="748.4" x2="1906.1" y2="781.7" stroke="#4682b4" stroke-width="3.4"/>
<line x1="1572.7" y1="842.0" x2="1996.7" y2="842.0" stroke="#000" stroke-width="1.9" stroke-dasharray="7.5 7.5"/>
<path d="M1572.7 587.8V911.2H1996.7" fill="none" stroke="#000" stroke-width="2"/>
<text x="1563.3" y="641.8" class="tk" text-anchor="end">4</text>
<text x="1563.3" y="707.3" class="tk" text-anchor="end">2</text>
<text x="1563.3" y="772.8" class="tk" text-anchor="end">0</text>
<text x="1563.3" y="838.3" class="tk" text-anchor="end">−2</text>
<text x="1563.3" y="903.8" class="tk" text-anchor="end">−4</text>
<text transform="translate(1627.4 935.4) scale(1 1.08)" class="tkx" text-anchor="middle">40</text>
<text transform="translate(1686.7 935.4) scale(1 1.08)" class="tkx" text-anchor="middle">50</text>
<text transform="translate(1746.0 935.4) scale(1 1.08)" class="tkx" text-anchor="middle">60</text>
<text transform="translate(1805.3 935.4) scale(1 1.08)" class="tkx" text-anchor="middle">70</text>
<text transform="translate(1864.6 935.4) scale(1 1.08)" class="tkx" text-anchor="middle">80</text>
<text transform="translate(1923.9 935.4) scale(1 1.08)" class="tkx" text-anchor="middle">90</text>
<path d="M1567.7 634.7H1572.7M1567.7 700.2H1572.7M1567.7 765.7H1572.7M1567.7 831.2H1572.7M1567.7 896.7H1572.7M1627.4 911.2V916.2M1686.7 911.2V916.2M1746.0 911.2V916.2M1805.3 911.2V916.2M1864.6 911.2V916.2M1923.9 911.2V916.2" stroke="#333" stroke-width="1.5"/>
<text transform="translate(1784.7 962.2) scale(1 1.06)" class="axt" text-anchor="middle">Age (years)</text>
<text transform="translate(1531.1 736.6) rotate(-90) scale(1 1.06)" class="axt" text-anchor="middle">Chromosome Y Intensity</text>
<text transform="translate(1600.4 616.0) scale(1 1.07)" class="eq eqg"><tspan class="ws">y = 1.89 − 0.03 × Age, P = 2.15 × 10</tspan><tspan dx="0.4" dy="-5.4" class="sup">-36</tspan><tspan dy="5.4">, r = -0.24</tspan></text>
<text transform="translate(1600.4 632.6) scale(1 1.07)" class="eq eqb"><tspan class="ws">y = 1.54 − 0.02 × Age, P = 9.29 × 10</tspan><tspan dx="0.4" dy="-5.4" class="sup">-2</tspan><tspan dy="5.4">, r = -0.17</tspan></text>
</svg></body></html>
